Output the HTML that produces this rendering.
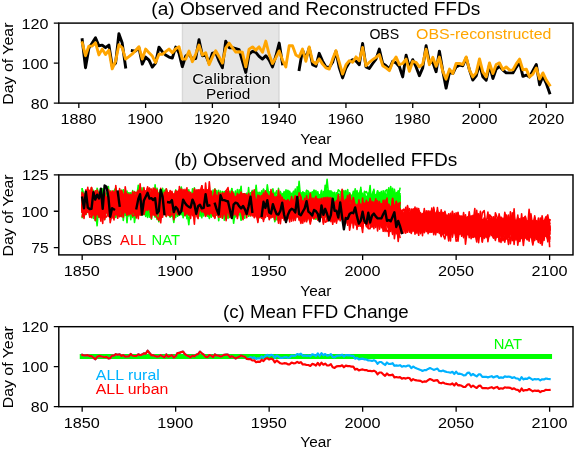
<!DOCTYPE html><html><head><meta charset="utf-8"><title>FFD figure</title><style>html,body{margin:0;padding:0;background:#fff;width:575px;height:449px;overflow:hidden}svg{display:block;font-family:"Liberation Sans",sans-serif;will-change:transform}</style></head><body><svg width="575" height="449" viewBox="0 0 575 449"><defs><clipPath id="ca"><rect x="58.8" y="23.1" width="514.2" height="80.0"/></clipPath><clipPath id="cb"><rect x="58.8" y="174.9" width="514.2" height="80.0"/></clipPath><clipPath id="cc"><rect x="58.8" y="326.7" width="514.2" height="80.0"/></clipPath></defs><rect width="575" height="449" fill="#fff"/><rect x="182.34" y="23.1" width="96.83" height="80.0" fill="#e6e6e6" stroke="#808080" stroke-opacity="0.2" stroke-width="1.45"/><path d="M82.2,39.7L85.5,67.7L88.9,48.1L92.2,43.1L95.5,37.7L98.9,45.7L102.2,45.1L105.5,47.7L108.9,45.1L112.2,66.1L115.6,63.1L118.9,33.7L122.2,43.1L125.6,67.1" stroke="#000" stroke-width="2.9" fill="none" stroke-linecap="square" stroke-linejoin="round"/><path d="M132.3,50.7L135.6,51.1L138.9,47.7L142.3,64.1L145.6,57.1L149.0,60.1L152.3,67.1L155.6,63.1L159.0,47.1L162.3,51.7L165.6,55.1L169.0,57.1L172.3,58.1L175.7,47.1L179.0,53.1L182.3,66.7L185.7,56.1L189.0,54.1L192.4,59.1L195.7,58.5L199.0,39.7L202.4,55.7L205.7,55.1L209.1,63.1L212.4,53.1L215.7,52.7L219.1,61.1L222.4,67.7L225.7,41.1L229.1,47.7L232.4,47.7L235.8,48.7L239.1,49.7L242.4,61.1L245.8,72.5L249.1,54.1L252.5,51.3L255.8,52.3L259.1,56.3L262.5,59.1L265.8,55.7L269.2,60.1L272.5,66.9L275.8,56.3L279.2,43.1L282.5,63.9" stroke="#000" stroke-width="2.9" fill="none" stroke-linecap="square" stroke-linejoin="round"/><path d="M299.2,69.5L302.5,50.1L305.9,58.5L309.2,47.9L312.6,64.7L315.9,66.3L319.2,53.3L322.6,61.1L325.9,66.9L329.3,67.5L332.6,62.3L335.9,51.3L339.3,67.9L342.6,77.9L346.0,67.9L349.3,62.3L352.6,59.7L356.0,61.1L359.3,64.7L362.6,43.5L366.0,66.9L369.3,68.5L372.7,63.5L376.0,59.1L379.3,49.1L382.7,63.5L386.0,65.7L389.4,69.1L392.7,61.3L396.0,62.9L399.4,66.7L402.7,76.9L406.1,55.1L409.4,67.9L412.7,59.7L416.1,66.9L419.4,75.7L422.7,67.9L426.1,45.7L429.4,62.3L432.8,62.3L436.1,71.7L439.4,51.1L442.8,71.1L446.1,88.1L449.5,72.3L452.8,73.5L456.1,66.9L459.5,65.1L462.8,65.7L466.2,57.9L469.5,70.1L472.8,80.1L476.2,75.9L479.5,63.9L482.8,76.7L486.2,80.1L489.5,65.1L492.9,78.5L496.2,69.1L499.5,66.3L502.9,70.1L506.2,72.9L509.6,72.9L512.9,72.9L516.2,67.3L519.6,62.5L522.9,76.3L526.3,75.1L529.6,76.9L532.9,70.7L536.3,64.5L539.6,84.7L542.9,76.3L546.3,83.5L549.6,92.9" stroke="#000" stroke-width="2.9" fill="none" stroke-linecap="square" stroke-linejoin="round"/><path d="M82.2,42.7L85.5,55.7L88.9,46.1L92.2,46.1L95.5,42.7L98.9,54.9L102.2,49.1L105.5,54.5L108.9,50.1L112.2,68.9L115.6,61.1L118.9,44.7L122.2,47.7L125.6,59.1L128.9,56.7L132.3,53.9L135.6,50.5L138.9,46.7L142.3,59.1L145.6,49.1L149.0,52.7L152.3,56.1L155.6,62.5L159.0,54.3L162.3,54.3L165.6,51.7L169.0,49.1L172.3,52.7L175.7,48.7L179.0,46.7L182.3,59.1L185.7,59.1L189.0,51.1L192.4,61.7L195.7,54.1L199.0,45.1L202.4,55.1L205.7,52.7L209.1,64.7L212.4,57.1L215.7,50.7L219.1,56.7L222.4,63.1L225.7,48.1L229.1,43.1L232.4,47.7L235.8,52.1L239.1,51.7L242.4,52.3L245.8,66.9L249.1,49.1L252.5,46.9L255.8,50.1L259.1,46.9L262.5,52.3L265.8,41.1L269.2,54.5L272.5,63.5L275.8,57.9L279.2,50.9L282.5,60.1L285.8,66.9L289.2,45.7L292.5,45.7L295.9,55.1L299.2,56.9L302.5,49.1L305.9,61.3L309.2,46.9L312.6,61.3L315.9,63.9L319.2,58.9L322.6,64.1L325.9,67.9L329.3,69.1L332.6,59.1L335.9,50.7L339.3,62.3L342.6,74.1L346.0,64.7L349.3,60.7L352.6,62.3L356.0,56.9L359.3,60.7L362.6,47.5L366.0,65.7L369.3,62.3L372.7,59.7L376.0,57.3L379.3,54.5L382.7,65.7L386.0,67.9L389.4,70.7L392.7,62.3L396.0,56.9L399.4,64.7L402.7,63.5L406.1,59.1L409.4,71.3L412.7,61.3L416.1,62.3L419.4,66.9L422.7,64.1L426.1,49.1L429.4,64.7L432.8,57.3L436.1,66.3L439.4,57.1L442.8,71.3L446.1,79.1L449.5,69.1L452.8,73.5L456.1,63.5L459.5,63.5L462.8,64.5L466.2,56.9L469.5,70.1L472.8,76.9L476.2,72.9L479.5,58.9L482.8,71.9L486.2,76.9L489.5,62.9L492.9,73.5L496.2,64.5L499.5,62.9L502.9,69.7L506.2,66.9L509.6,70.1L512.9,69.9L516.2,63.9L519.6,59.1L522.9,69.9L526.3,69.1L529.6,76.9L532.9,74.1L536.3,67.9L539.6,79.1L542.9,72.9L546.3,80.1L549.6,85.1" stroke="#FFA500" stroke-width="2.9" fill="none" stroke-linecap="square" stroke-linejoin="round"/><path d="M82.2,207.2L84.0,196.0L85.9,203.7L87.8,211.0L89.7,209.6L91.5,197.2L93.4,203.1L95.3,203.7L97.1,204.3L99.0,203.8L100.9,199.2L102.7,200.7L104.6,202.7L106.5,210.2L108.4,200.9L110.2,208.1L112.1,197.5L114.0,211.6L115.8,204.8L117.7,204.0L119.6,211.9L121.4,193.7L123.3,195.3L125.2,206.8L127.0,199.4L128.9,201.7L130.8,219.6L132.7,202.5L134.5,204.4L136.4,203.5L138.3,210.4L140.1,205.6L142.0,205.1L143.9,196.9L145.7,202.0L147.6,204.0L149.5,194.9L151.4,207.3L153.2,206.3L155.1,214.8L157.0,194.6L158.8,198.2L160.7,198.5L162.6,200.0L164.4,203.3L166.3,202.7L168.2,205.5L170.1,205.2L171.9,203.7L173.8,195.0L175.7,200.7L177.5,204.3L179.4,207.4L181.3,207.8L183.1,194.4L185.0,201.0L186.9,203.6L188.8,206.1L190.6,210.6L192.5,204.4L194.4,198.8L196.2,206.3L198.1,205.3L200.0,205.3L201.8,203.3L203.7,213.5L205.6,205.4L207.5,209.1L209.3,198.7L211.2,208.6L213.1,200.5L214.9,194.9L216.8,205.9L218.7,207.6L220.5,202.8L222.4,204.0L224.3,209.9L226.1,201.2L228.0,192.0L229.9,205.5L231.8,205.2L233.6,210.2L235.5,202.1L237.4,211.4L239.2,210.6L241.1,196.4L243.0,209.4L244.8,197.5L246.7,194.9L248.6,202.4L250.5,200.7L252.3,192.3L254.2,205.1L256.1,207.5L257.9,212.0L259.8,203.7L261.7,195.1L263.5,198.2L265.4,209.5L267.3,209.0L269.2,206.9L271.0,202.1L272.9,205.1L274.8,202.6L276.6,202.1L278.5,205.6L280.4,204.1L282.2,202.6L284.1,204.3L286.0,200.8L287.9,192.7L289.7,200.3L291.6,203.5L293.5,213.8L295.3,201.5L297.2,215.4L299.1,212.2L300.9,198.6L302.8,199.5L304.7,204.6L306.6,213.9L308.4,205.9L310.3,207.7L312.2,199.9L314.0,190.2L315.9,202.4L317.8,208.3L319.6,210.6L321.5,204.0L323.4,204.7L325.2,210.5L327.1,202.9L329.0,210.5L330.9,197.0L332.7,197.3L334.6,197.1L336.5,206.4L338.3,200.5L340.2,204.3L342.1,205.9L343.9,205.6L345.8,211.3L347.7,212.1L349.6,198.8L351.4,204.6L353.3,202.2L355.2,197.5L357.0,213.8L358.9,208.1L360.8,202.4L362.6,201.1L364.5,205.7L366.4,197.3L368.3,202.2L370.1,210.6L372.0,209.0L373.9,198.6L375.7,200.6L377.6,214.7L379.5,195.3L381.3,199.8L383.2,195.3L385.1,205.6L387.0,205.1L388.8,210.0L390.7,188.2L392.6,204.3L394.4,193.8L396.3,207.1L398.2,202.3L400.0,213.2" stroke="#00FF00" stroke-width="1.6" fill="none" stroke-linecap="square" stroke-linejoin="round"/><path d="M82.2,206.3L84.0,198.1L85.9,211.5L87.8,197.6L89.7,202.0L91.5,210.2L93.4,207.0L95.3,206.7L97.1,204.3L99.0,207.2L100.9,208.9L102.7,205.8L104.6,210.1L106.5,211.7L108.4,204.3L110.2,198.7L112.1,213.1L114.0,204.0L115.8,207.9L117.7,209.8L119.6,198.9L121.4,207.1L123.3,195.1L125.2,208.6L127.0,201.7L128.9,205.3L130.8,208.5L132.7,200.5L134.5,204.9L136.4,200.4L138.3,204.3L140.1,210.5L142.0,204.6L143.9,203.7L145.7,198.3L147.6,209.4L149.5,204.2L151.4,214.3L153.2,200.1L155.1,210.4L157.0,214.8L158.8,204.3L160.7,197.4L162.6,213.1L164.4,210.5L166.3,208.4L168.2,210.7L170.1,201.7L171.9,208.8L173.8,208.3L175.7,200.5L177.5,208.5L179.4,201.4L181.3,209.8L183.1,211.2L185.0,214.9L186.9,192.9L188.8,205.9L190.6,202.5L192.5,204.2L194.4,203.0L196.2,203.7L198.1,192.6L200.0,210.2L201.8,213.3L203.7,210.0L205.6,212.0L207.5,199.5L209.3,199.1L211.2,209.7L213.1,212.3L214.9,206.1L216.8,195.7L218.7,220.8L220.5,200.9L222.4,210.4L224.3,197.8L226.1,210.4L228.0,205.7L229.9,213.0L231.8,209.8L233.6,195.7L235.5,199.1L237.4,206.4L239.2,209.2L241.1,215.3L243.0,206.3L244.8,204.2L246.7,204.5L248.6,204.6L250.5,210.7L252.3,204.4L254.2,204.2L256.1,196.3L257.9,192.8L259.8,204.8L261.7,208.5L263.5,204.3L265.4,207.5L267.3,208.3L269.2,204.2L271.0,210.1L272.9,200.3L274.8,204.5L276.6,202.4L278.5,204.9L280.4,208.2L282.2,209.5L284.1,205.2L286.0,207.1L287.9,202.4L289.7,203.8L291.6,211.9L293.5,203.4L295.3,211.8L297.2,207.4L299.1,205.5L300.9,216.1L302.8,203.2L304.7,202.8L306.6,204.7L308.4,206.2L310.3,205.9L312.2,209.5L314.0,205.3L315.9,207.0L317.8,203.1L319.6,210.8L321.5,202.2L323.4,202.8L325.2,204.5L327.1,206.2L329.0,200.3L330.9,213.5L332.7,200.8L334.6,202.1L336.5,201.9L338.3,201.3L340.2,207.5L342.1,205.1L343.9,199.7L345.8,201.0L347.7,202.3L349.6,212.5L351.4,200.3L353.3,196.5L355.2,197.5L357.0,202.1L358.9,212.8L360.8,197.8L362.6,204.3L364.5,218.5L366.4,201.2L368.3,212.3L370.1,211.1L372.0,207.2L373.9,195.8L375.7,205.6L377.6,201.8L379.5,192.9L381.3,193.8L383.2,204.0L385.1,204.8L387.0,210.8L388.8,207.5L390.7,200.8L392.6,200.9L394.4,202.6L396.3,197.3L398.2,207.9L400.0,203.6" stroke="#00FF00" stroke-width="1.6" fill="none" stroke-linecap="square" stroke-linejoin="round"/><path d="M82.2,199.6L84.0,200.5L85.9,197.6L87.8,201.6L89.7,205.8L91.5,201.8L93.4,210.0L95.3,213.8L97.1,200.5L99.0,204.3L100.9,202.2L102.7,214.1L104.6,206.2L106.5,207.6L108.4,209.1L110.2,217.4L112.1,206.0L114.0,198.6L115.8,201.7L117.7,207.6L119.6,204.1L121.4,199.5L123.3,220.5L125.2,204.7L127.0,200.8L128.9,199.9L130.8,193.8L132.7,197.2L134.5,202.1L136.4,202.2L138.3,199.3L140.1,207.2L142.0,204.2L143.9,198.6L145.7,192.3L147.6,204.9L149.5,204.3L151.4,202.8L153.2,196.0L155.1,204.2L157.0,195.2L158.8,209.8L160.7,205.1L162.6,205.2L164.4,199.3L166.3,197.8L168.2,213.0L170.1,209.4L171.9,202.0L173.8,207.9L175.7,213.1L177.5,197.8L179.4,201.0L181.3,201.0L183.1,206.8L185.0,197.9L186.9,205.4L188.8,197.5L190.6,209.4L192.5,209.1L194.4,202.8L196.2,208.2L198.1,200.0L200.0,202.4L201.8,209.5L203.7,203.6L205.6,206.1L207.5,198.5L209.3,207.8L211.2,206.6L213.1,196.8L214.9,190.6L216.8,192.1L218.7,203.6L220.5,202.7L222.4,194.8L224.3,204.7L226.1,209.8L228.0,203.3L229.9,201.3L231.8,208.9L233.6,213.8L235.5,212.6L237.4,200.0L239.2,208.5L241.1,204.8L243.0,202.7L244.8,200.3L246.7,206.0L248.6,201.0L250.5,209.3L252.3,206.1L254.2,210.1L256.1,197.2L257.9,204.1L259.8,208.4L261.7,206.0L263.5,205.2L265.4,199.7L267.3,213.4L269.2,210.1L271.0,206.1L272.9,188.8L274.8,198.2L276.6,204.5L278.5,199.6L280.4,191.6L282.2,205.2L284.1,206.0L286.0,196.6L287.9,200.9L289.7,199.8L291.6,206.8L293.5,192.3L295.3,193.6L297.2,200.4L299.1,199.7L300.9,215.8L302.8,199.9L304.7,204.9L306.6,201.1L308.4,199.6L310.3,205.7L312.2,213.8L314.0,201.5L315.9,208.1L317.8,205.6L319.6,207.3L321.5,205.7L323.4,217.4L325.2,196.4L327.1,202.1L329.0,197.0L330.9,191.8L332.7,203.5L334.6,214.3L336.5,208.9L338.3,210.8L340.2,206.5L342.1,203.1L343.9,215.5L345.8,201.5L347.7,212.5L349.6,201.7L351.4,204.2L353.3,205.4L355.2,203.9L357.0,206.7L358.9,207.1L360.8,213.5L362.6,203.6L364.5,192.4L366.4,191.6L368.3,195.5L370.1,199.2L372.0,207.4L373.9,194.8L375.7,203.7L377.6,203.8L379.5,205.1L381.3,202.8L383.2,205.9L385.1,203.8L387.0,209.8L388.8,205.5L390.7,189.7L392.6,203.7L394.4,204.7L396.3,200.1L398.2,199.0L400.0,209.9" stroke="#00FF00" stroke-width="1.6" fill="none" stroke-linecap="square" stroke-linejoin="round"/><path d="M82.2,205.2L84.0,198.5L85.9,202.4L87.8,203.3L89.7,194.7L91.5,208.0L93.4,203.5L95.3,207.1L97.1,195.1L99.0,215.6L100.9,208.0L102.7,207.1L104.6,200.0L106.5,200.4L108.4,195.7L110.2,213.4L112.1,199.5L114.0,205.7L115.8,208.0L117.7,200.8L119.6,209.5L121.4,216.4L123.3,206.2L125.2,212.9L127.0,207.9L128.9,201.8L130.8,202.1L132.7,194.5L134.5,205.2L136.4,213.1L138.3,208.5L140.1,209.5L142.0,211.3L143.9,201.4L145.7,207.8L147.6,215.8L149.5,199.8L151.4,204.7L153.2,201.9L155.1,203.4L157.0,200.2L158.8,203.8L160.7,196.6L162.6,201.5L164.4,201.7L166.3,201.5L168.2,212.7L170.1,205.0L171.9,205.5L173.8,202.8L175.7,212.1L177.5,194.2L179.4,203.4L181.3,211.2L183.1,214.2L185.0,205.7L186.9,204.5L188.8,208.3L190.6,203.4L192.5,207.8L194.4,200.7L196.2,208.3L198.1,204.2L200.0,198.2L201.8,188.7L203.7,210.0L205.6,206.8L207.5,209.0L209.3,199.3L211.2,210.8L213.1,206.9L214.9,204.2L216.8,209.8L218.7,209.7L220.5,206.8L222.4,216.5L224.3,212.6L226.1,206.5L228.0,203.1L229.9,205.1L231.8,214.6L233.6,206.8L235.5,199.2L237.4,200.7L239.2,204.5L241.1,209.3L243.0,200.2L244.8,207.4L246.7,211.0L248.6,208.8L250.5,195.4L252.3,202.7L254.2,197.1L256.1,206.8L257.9,198.4L259.8,207.5L261.7,204.9L263.5,189.1L265.4,199.3L267.3,206.9L269.2,204.4L271.0,201.9L272.9,196.7L274.8,206.8L276.6,214.2L278.5,205.5L280.4,203.8L282.2,203.2L284.1,196.0L286.0,201.9L287.9,199.0L289.7,210.4L291.6,198.6L293.5,191.3L295.3,199.2L297.2,202.3L299.1,202.8L300.9,193.1L302.8,209.3L304.7,204.4L306.6,201.0L308.4,199.3L310.3,206.3L312.2,201.9L314.0,205.3L315.9,203.0L317.8,204.5L319.6,210.5L321.5,203.8L323.4,198.4L325.2,209.4L327.1,205.1L329.0,199.6L330.9,210.0L332.7,202.5L334.6,209.9L336.5,196.8L338.3,189.8L340.2,191.5L342.1,204.9L343.9,199.1L345.8,202.8L347.7,202.9L349.6,194.3L351.4,211.4L353.3,197.2L355.2,203.8L357.0,195.1L358.9,202.3L360.8,207.5L362.6,201.8L364.5,199.0L366.4,203.2L368.3,200.5L370.1,206.5L372.0,216.1L373.9,198.0L375.7,199.2L377.6,202.5L379.5,203.0L381.3,197.2L383.2,206.1L385.1,207.5L387.0,204.5L388.8,196.2L390.7,211.6L392.6,196.2L394.4,207.1L396.3,209.8L398.2,195.8L400.0,203.8" stroke="#00FF00" stroke-width="1.6" fill="none" stroke-linecap="square" stroke-linejoin="round"/><path d="M82.2,211.7L84.0,206.1L85.9,198.4L87.8,196.9L89.7,206.5L91.5,201.6L93.4,199.7L95.3,207.8L97.1,201.9L99.0,204.2L100.9,207.2L102.7,206.9L104.6,203.6L106.5,203.8L108.4,207.4L110.2,206.5L112.1,197.4L114.0,202.7L115.8,198.7L117.7,196.8L119.6,200.5L121.4,190.4L123.3,208.9L125.2,199.2L127.0,205.9L128.9,192.9L130.8,193.9L132.7,215.6L134.5,209.8L136.4,200.0L138.3,199.3L140.1,199.6L142.0,204.4L143.9,201.3L145.7,200.1L147.6,204.5L149.5,197.9L151.4,217.5L153.2,200.2L155.1,210.2L157.0,198.3L158.8,205.4L160.7,209.3L162.6,201.8L164.4,209.4L166.3,209.4L168.2,213.3L170.1,204.2L171.9,201.0L173.8,197.9L175.7,204.8L177.5,197.7L179.4,203.9L181.3,204.5L183.1,200.6L185.0,197.7L186.9,206.0L188.8,205.4L190.6,205.0L192.5,203.5L194.4,209.4L196.2,197.9L198.1,206.4L200.0,201.2L201.8,208.9L203.7,201.9L205.6,201.7L207.5,206.5L209.3,191.9L211.2,201.8L213.1,193.4L214.9,198.3L216.8,207.9L218.7,206.3L220.5,201.4L222.4,203.6L224.3,203.7L226.1,205.7L228.0,214.8L229.9,205.3L231.8,217.2L233.6,201.8L235.5,208.3L237.4,208.3L239.2,205.3L241.1,202.4L243.0,212.5L244.8,214.4L246.7,210.3L248.6,216.2L250.5,209.8L252.3,194.5L254.2,210.3L256.1,200.1L257.9,212.1L259.8,202.2L261.7,205.8L263.5,204.3L265.4,200.5L267.3,193.4L269.2,202.7L271.0,203.1L272.9,209.7L274.8,200.4L276.6,205.3L278.5,198.9L280.4,204.1L282.2,193.5L284.1,215.7L286.0,205.6L287.9,198.6L289.7,205.9L291.6,208.5L293.5,205.4L295.3,212.0L297.2,203.1L299.1,189.2L300.9,196.9L302.8,210.4L304.7,208.9L306.6,206.1L308.4,197.7L310.3,208.6L312.2,207.8L314.0,198.4L315.9,198.5L317.8,205.9L319.6,210.3L321.5,212.9L323.4,207.8L325.2,216.9L327.1,199.1L329.0,207.4L330.9,200.7L332.7,192.4L334.6,196.6L336.5,210.4L338.3,198.4L340.2,196.6L342.1,208.0L343.9,209.2L345.8,204.2L347.7,213.1L349.6,194.7L351.4,217.8L353.3,210.1L355.2,205.1L357.0,204.8L358.9,202.5L360.8,201.8L362.6,204.7L364.5,196.7L366.4,216.2L368.3,203.4L370.1,207.7L372.0,202.6L373.9,202.1L375.7,208.8L377.6,207.2L379.5,198.6L381.3,201.3L383.2,207.4L385.1,191.2L387.0,189.6L388.8,212.0L390.7,201.5L392.6,188.3L394.4,198.6L396.3,202.0L398.2,204.5L400.0,206.5" stroke="#00FF00" stroke-width="1.6" fill="none" stroke-linecap="square" stroke-linejoin="round"/><path d="M82.2,205.3L84.0,207.3L85.9,199.5L87.8,206.4L89.7,206.6L91.5,211.2L93.4,204.3L95.3,209.3L97.1,205.1L99.0,197.8L100.9,201.8L102.7,201.0L104.6,201.9L106.5,203.6L108.4,204.8L110.2,205.8L112.1,199.5L114.0,210.5L115.8,196.0L117.7,203.8L119.6,208.5L121.4,206.9L123.3,208.0L125.2,203.0L127.0,208.3L128.9,197.2L130.8,208.7L132.7,217.5L134.5,208.4L136.4,216.0L138.3,204.2L140.1,197.7L142.0,200.1L143.9,212.0L145.7,208.5L147.6,193.4L149.5,202.1L151.4,204.0L153.2,197.7L155.1,189.4L157.0,196.3L158.8,203.2L160.7,201.9L162.6,200.3L164.4,207.6L166.3,210.3L168.2,203.7L170.1,209.6L171.9,204.4L173.8,203.4L175.7,190.0L177.5,209.1L179.4,204.7L181.3,205.0L183.1,201.4L185.0,197.7L186.9,206.9L188.8,208.9L190.6,213.8L192.5,209.5L194.4,200.8L196.2,203.7L198.1,210.0L200.0,206.2L201.8,203.8L203.7,201.0L205.6,207.5L207.5,205.5L209.3,214.8L211.2,210.9L213.1,194.3L214.9,217.0L216.8,206.0L218.7,202.7L220.5,206.2L222.4,208.8L224.3,204.4L226.1,204.0L228.0,204.5L229.9,215.2L231.8,204.9L233.6,209.1L235.5,207.3L237.4,202.6L239.2,200.2L241.1,198.6L243.0,207.0L244.8,198.5L246.7,197.0L248.6,197.2L250.5,195.7L252.3,204.9L254.2,205.0L256.1,199.0L257.9,212.1L259.8,202.7L261.7,207.1L263.5,206.1L265.4,214.3L267.3,209.2L269.2,204.0L271.0,198.6L272.9,198.0L274.8,204.4L276.6,205.0L278.5,208.8L280.4,201.4L282.2,205.3L284.1,200.2L286.0,193.4L287.9,204.0L289.7,212.7L291.6,208.9L293.5,212.5L295.3,210.9L297.2,196.0L299.1,202.4L300.9,212.8L302.8,199.8L304.7,196.2L306.6,205.9L308.4,207.7L310.3,205.7L312.2,202.0L314.0,199.9L315.9,196.6L317.8,196.4L319.6,196.6L321.5,195.5L323.4,199.7L325.2,212.8L327.1,204.4L329.0,201.7L330.9,205.9L332.7,198.2L334.6,205.7L336.5,209.1L338.3,195.0L340.2,199.6L342.1,202.2L343.9,198.0L345.8,197.2L347.7,201.5L349.6,218.2L351.4,207.5L353.3,206.2L355.2,209.4L357.0,202.3L358.9,196.4L360.8,206.3L362.6,210.2L364.5,191.3L366.4,206.1L368.3,210.8L370.1,202.0L372.0,200.9L373.9,207.6L375.7,198.7L377.6,206.3L379.5,208.9L381.3,202.3L383.2,198.7L385.1,207.1L387.0,201.4L388.8,203.9L390.7,186.5L392.6,207.5L394.4,195.0L396.3,203.6L398.2,204.0L400.0,199.0" stroke="#00FF00" stroke-width="1.6" fill="none" stroke-linecap="square" stroke-linejoin="round"/><path d="M82.2,198.7L84.0,196.4L85.9,202.0L87.8,207.6L89.7,207.2L91.5,201.0L93.4,200.5L95.3,195.7L97.1,201.5L99.0,197.7L100.9,194.9L102.7,203.0L104.6,212.9L106.5,211.0L108.4,212.6L110.2,194.5L112.1,209.0L114.0,196.6L115.8,200.5L117.7,193.8L119.6,198.0L121.4,204.6L123.3,205.2L125.2,203.5L127.0,202.9L128.9,207.2L130.8,204.2L132.7,194.4L134.5,214.1L136.4,202.4L138.3,209.4L140.1,202.9L142.0,199.0L143.9,204.3L145.7,199.4L147.6,213.5L149.5,197.4L151.4,207.6L153.2,200.3L155.1,202.9L157.0,219.4L158.8,208.5L160.7,202.7L162.6,194.7L164.4,202.3L166.3,202.5L168.2,212.4L170.1,195.5L171.9,193.2L173.8,203.8L175.7,205.3L177.5,213.6L179.4,198.7L181.3,187.9L183.1,199.7L185.0,196.5L186.9,200.8L188.8,209.9L190.6,196.0L192.5,211.4L194.4,205.2L196.2,202.3L198.1,198.7L200.0,201.5L201.8,201.7L203.7,208.5L205.6,211.7L207.5,203.6L209.3,208.2L211.2,211.8L213.1,211.5L214.9,206.9L216.8,215.0L218.7,212.0L220.5,213.7L222.4,202.9L224.3,201.6L226.1,192.0L228.0,212.9L229.9,208.0L231.8,198.5L233.6,205.3L235.5,205.9L237.4,193.8L239.2,206.0L241.1,210.9L243.0,211.8L244.8,202.0L246.7,202.2L248.6,212.2L250.5,209.9L252.3,200.8L254.2,200.5L256.1,207.8L257.9,200.2L259.8,200.5L261.7,214.6L263.5,205.8L265.4,201.4L267.3,207.3L269.2,216.7L271.0,205.6L272.9,199.4L274.8,194.4L276.6,216.9L278.5,188.3L280.4,210.6L282.2,198.1L284.1,196.5L286.0,198.0L287.9,202.9L289.7,210.7L291.6,200.1L293.5,208.0L295.3,218.8L297.2,186.9L299.1,199.5L300.9,192.9L302.8,209.2L304.7,195.0L306.6,194.2L308.4,194.4L310.3,203.8L312.2,210.9L314.0,204.7L315.9,216.8L317.8,213.8L319.6,203.1L321.5,209.6L323.4,204.6L325.2,204.3L327.1,192.1L329.0,195.9L330.9,203.9L332.7,196.4L334.6,208.2L336.5,205.6L338.3,198.1L340.2,211.0L342.1,205.2L343.9,211.4L345.8,202.8L347.7,193.8L349.6,208.0L351.4,202.2L353.3,208.8L355.2,210.3L357.0,210.8L358.9,194.8L360.8,189.4L362.6,200.6L364.5,207.7L366.4,199.2L368.3,205.4L370.1,198.6L372.0,201.7L373.9,201.7L375.7,199.8L377.6,206.8L379.5,205.8L381.3,213.6L383.2,206.0L385.1,211.8L387.0,204.2L388.8,209.0L390.7,202.7L392.6,200.6L394.4,211.8L396.3,208.1L398.2,208.9L400.0,198.8" stroke="#00FF00" stroke-width="1.6" fill="none" stroke-linecap="square" stroke-linejoin="round"/><path d="M82.2,193.8L84.0,198.9L85.9,206.1L87.8,195.3L89.7,213.0L91.5,195.0L93.4,207.9L95.3,220.6L97.1,188.2L99.0,194.6L100.9,210.1L102.7,203.0L104.6,205.3L106.5,203.4L108.4,212.8L110.2,208.1L112.1,201.2L114.0,202.7L115.8,196.8L117.7,203.5L119.6,190.0L121.4,208.3L123.3,202.4L125.2,215.4L127.0,211.5L128.9,196.1L130.8,209.6L132.7,200.8L134.5,204.4L136.4,210.2L138.3,206.1L140.1,207.1L142.0,206.9L143.9,199.5L145.7,200.1L147.6,207.4L149.5,209.4L151.4,202.3L153.2,204.6L155.1,197.9L157.0,188.2L158.8,199.0L160.7,204.2L162.6,205.0L164.4,209.1L166.3,209.4L168.2,210.0L170.1,206.3L171.9,206.5L173.8,199.6L175.7,206.4L177.5,205.2L179.4,211.3L181.3,194.2L183.1,201.0L185.0,193.3L186.9,199.2L188.8,195.1L190.6,205.5L192.5,199.7L194.4,187.9L196.2,211.3L198.1,197.0L200.0,193.9L201.8,201.5L203.7,199.4L205.6,196.4L207.5,208.0L209.3,201.5L211.2,209.3L213.1,208.1L214.9,207.8L216.8,204.9L218.7,203.1L220.5,201.2L222.4,212.6L224.3,191.9L226.1,196.9L228.0,199.6L229.9,206.2L231.8,204.5L233.6,200.6L235.5,201.5L237.4,214.3L239.2,199.5L241.1,186.2L243.0,215.3L244.8,197.9L246.7,201.7L248.6,204.7L250.5,195.6L252.3,211.2L254.2,203.0L256.1,195.0L257.9,205.2L259.8,206.5L261.7,203.2L263.5,206.7L265.4,194.4L267.3,209.5L269.2,198.6L271.0,211.6L272.9,199.8L274.8,204.5L276.6,219.7L278.5,203.9L280.4,210.4L282.2,206.6L284.1,194.4L286.0,210.7L287.9,210.3L289.7,195.0L291.6,203.1L293.5,194.3L295.3,201.8L297.2,209.2L299.1,204.2L300.9,196.2L302.8,198.0L304.7,203.7L306.6,203.4L308.4,204.4L310.3,207.2L312.2,191.8L314.0,203.6L315.9,210.6L317.8,206.6L319.6,199.2L321.5,199.7L323.4,204.5L325.2,207.7L327.1,203.5L329.0,213.9L330.9,211.6L332.7,198.7L334.6,206.5L336.5,201.3L338.3,196.1L340.2,199.6L342.1,203.4L343.9,190.5L345.8,199.4L347.7,205.7L349.6,199.0L351.4,201.0L353.3,208.7L355.2,203.0L357.0,204.5L358.9,215.5L360.8,204.5L362.6,205.2L364.5,206.1L366.4,213.5L368.3,205.6L370.1,203.7L372.0,202.8L373.9,210.4L375.7,199.5L377.6,210.8L379.5,204.7L381.3,195.4L383.2,207.6L385.1,206.5L387.0,196.7L388.8,205.7L390.7,205.1L392.6,201.9L394.4,196.9L396.3,216.8L398.2,208.3L400.0,209.4" stroke="#00FF00" stroke-width="1.6" fill="none" stroke-linecap="square" stroke-linejoin="round"/><path d="M82.2,210.6L84.0,209.2L85.9,209.1L87.8,202.1L89.7,209.4L91.5,203.2L93.4,201.5L95.3,208.5L97.1,203.2L99.0,194.0L100.9,202.0L102.7,207.9L104.6,204.4L106.5,209.6L108.4,202.3L110.2,198.7L112.1,209.0L114.0,205.3L115.8,197.2L117.7,207.0L119.6,202.8L121.4,210.2L123.3,209.0L125.2,207.1L127.0,191.0L128.9,206.4L130.8,207.2L132.7,207.3L134.5,205.0L136.4,200.1L138.3,202.9L140.1,191.7L142.0,202.7L143.9,195.4L145.7,202.3L147.6,200.4L149.5,212.6L151.4,204.7L153.2,204.4L155.1,205.4L157.0,216.8L158.8,198.7L160.7,206.3L162.6,206.6L164.4,205.5L166.3,205.4L168.2,201.6L170.1,211.6L171.9,209.5L173.8,202.3L175.7,203.1L177.5,206.2L179.4,207.4L181.3,209.0L183.1,204.3L185.0,196.9L186.9,210.3L188.8,194.9L190.6,199.0L192.5,206.7L194.4,199.3L196.2,212.7L198.1,214.3L200.0,211.7L201.8,206.4L203.7,205.9L205.6,207.1L207.5,203.4L209.3,216.7L211.2,201.0L213.1,212.5L214.9,207.9L216.8,206.5L218.7,210.9L220.5,212.2L222.4,210.0L224.3,204.1L226.1,200.5L228.0,200.6L229.9,209.9L231.8,208.7L233.6,209.5L235.5,201.3L237.4,216.1L239.2,196.6L241.1,206.9L243.0,208.7L244.8,202.0L246.7,197.8L248.6,201.9L250.5,197.7L252.3,203.2L254.2,196.6L256.1,196.5L257.9,204.5L259.8,195.4L261.7,203.0L263.5,203.4L265.4,209.4L267.3,205.6L269.2,199.3L271.0,211.7L272.9,200.0L274.8,201.8L276.6,202.2L278.5,217.0L280.4,204.5L282.2,200.0L284.1,208.4L286.0,203.3L287.9,218.0L289.7,199.8L291.6,207.7L293.5,198.6L295.3,214.8L297.2,199.6L299.1,205.2L300.9,198.9L302.8,209.3L304.7,207.4L306.6,190.3L308.4,208.7L310.3,207.9L312.2,205.3L314.0,209.8L315.9,196.6L317.8,193.4L319.6,207.9L321.5,213.9L323.4,196.6L325.2,197.0L327.1,198.7L329.0,196.7L330.9,208.8L332.7,204.6L334.6,211.8L336.5,212.0L338.3,197.7L340.2,207.6L342.1,190.0L343.9,203.1L345.8,207.3L347.7,198.8L349.6,192.8L351.4,200.6L353.3,210.7L355.2,201.3L357.0,195.3L358.9,206.4L360.8,208.1L362.6,197.4L364.5,202.6L366.4,210.0L368.3,205.7L370.1,207.9L372.0,201.6L373.9,202.7L375.7,196.5L377.6,199.1L379.5,212.7L381.3,200.9L383.2,198.0L385.1,200.6L387.0,197.2L388.8,206.6L390.7,209.0L392.6,197.8L394.4,209.6L396.3,216.2L398.2,197.2L400.0,207.6" stroke="#00FF00" stroke-width="1.6" fill="none" stroke-linecap="square" stroke-linejoin="round"/><path d="M82.2,205.8L84.0,212.3L85.9,211.9L87.8,210.9L89.7,206.1L91.5,201.8L93.4,217.7L95.3,199.5L97.1,211.0L99.0,210.4L100.9,199.9L102.7,204.4L104.6,213.2L106.5,193.0L108.4,209.1L110.2,202.5L112.1,202.8L114.0,195.6L115.8,206.7L117.7,198.0L119.6,208.4L121.4,197.3L123.3,208.5L125.2,206.2L127.0,192.7L128.9,202.1L130.8,203.3L132.7,190.6L134.5,201.8L136.4,208.9L138.3,199.6L140.1,211.0L142.0,197.3L143.9,196.8L145.7,207.4L147.6,207.7L149.5,202.9L151.4,203.9L153.2,209.8L155.1,200.6L157.0,216.2L158.8,206.6L160.7,206.4L162.6,205.6L164.4,202.2L166.3,211.3L168.2,200.5L170.1,205.1L171.9,207.9L173.8,212.1L175.7,211.0L177.5,201.8L179.4,209.7L181.3,203.6L183.1,197.7L185.0,197.8L186.9,194.7L188.8,205.8L190.6,210.5L192.5,197.9L194.4,202.1L196.2,197.3L198.1,203.9L200.0,196.9L201.8,198.9L203.7,199.7L205.6,201.0L207.5,201.6L209.3,202.6L211.2,202.6L213.1,198.1L214.9,207.0L216.8,193.6L218.7,204.6L220.5,198.1L222.4,204.5L224.3,205.5L226.1,191.9L228.0,205.8L229.9,211.6L231.8,208.2L233.6,205.9L235.5,191.1L237.4,202.8L239.2,198.4L241.1,210.0L243.0,201.9L244.8,200.0L246.7,193.2L248.6,208.1L250.5,200.4L252.3,202.2L254.2,210.1L256.1,204.1L257.9,205.5L259.8,217.8L261.7,200.4L263.5,200.7L265.4,206.5L267.3,211.9L269.2,195.1L271.0,202.3L272.9,197.8L274.8,195.5L276.6,207.0L278.5,199.0L280.4,205.3L282.2,204.2L284.1,204.3L286.0,203.8L287.9,197.2L289.7,203.1L291.6,204.7L293.5,205.4L295.3,201.7L297.2,209.1L299.1,206.8L300.9,204.1L302.8,207.1L304.7,204.4L306.6,207.4L308.4,191.8L310.3,195.8L312.2,201.0L314.0,204.0L315.9,190.6L317.8,201.7L319.6,204.2L321.5,201.8L323.4,201.8L325.2,195.2L327.1,203.7L329.0,191.1L330.9,208.9L332.7,199.5L334.6,209.6L336.5,192.7L338.3,205.5L340.2,203.9L342.1,198.0L343.9,196.0L345.8,210.2L347.7,205.6L349.6,211.8L351.4,202.7L353.3,204.1L355.2,205.6L357.0,207.6L358.9,205.8L360.8,207.9L362.6,200.3L364.5,194.4L366.4,214.9L368.3,204.1L370.1,205.9L372.0,200.5L373.9,209.1L375.7,204.3L377.6,209.6L379.5,199.2L381.3,202.8L383.2,204.3L385.1,201.1L387.0,204.8L388.8,212.6L390.7,199.8L392.6,201.6L394.4,204.2L396.3,197.4L398.2,196.0L400.0,209.8" stroke="#00FF00" stroke-width="1.6" fill="none" stroke-linecap="square" stroke-linejoin="round"/><path d="M82.2,208.6L84.0,194.8L85.9,195.5L87.8,208.4L89.7,211.0L91.5,207.8L93.4,207.0L95.3,213.4L97.1,203.8L99.0,211.6L100.9,211.2L102.7,198.5L104.6,208.1L106.5,204.4L108.4,200.2L110.2,199.1L112.1,206.0L114.0,203.7L115.8,208.9L117.7,193.6L119.6,200.1L121.4,210.6L123.3,204.0L125.2,199.7L127.0,201.1L128.9,193.1L130.8,195.8L132.7,207.2L134.5,204.5L136.4,211.6L138.3,202.5L140.1,203.1L142.0,187.9L143.9,203.4L145.7,216.5L147.6,208.0L149.5,203.3L151.4,211.5L153.2,209.2L155.1,206.2L157.0,202.0L158.8,205.0L160.7,209.3L162.6,199.3L164.4,207.2L166.3,207.0L168.2,212.2L170.1,208.7L171.9,200.1L173.8,213.6L175.7,204.4L177.5,199.7L179.4,206.2L181.3,202.6L183.1,210.7L185.0,196.2L186.9,197.4L188.8,202.6L190.6,214.5L192.5,210.2L194.4,198.2L196.2,193.8L198.1,202.2L200.0,196.6L201.8,207.6L203.7,205.1L205.6,204.0L207.5,201.5L209.3,213.1L211.2,198.4L213.1,196.1L214.9,210.8L216.8,212.1L218.7,201.9L220.5,207.9L222.4,218.1L224.3,199.2L226.1,203.1L228.0,206.8L229.9,191.4L231.8,203.2L233.6,208.5L235.5,203.4L237.4,210.2L239.2,208.5L241.1,201.7L243.0,207.3L244.8,206.7L246.7,194.0L248.6,198.9L250.5,199.2L252.3,200.8L254.2,201.1L256.1,195.3L257.9,204.1L259.8,192.9L261.7,209.6L263.5,205.4L265.4,212.1L267.3,206.0L269.2,200.8L271.0,195.2L272.9,207.8L274.8,203.8L276.6,206.0L278.5,208.3L280.4,210.9L282.2,203.5L284.1,214.2L286.0,203.2L287.9,203.7L289.7,207.7L291.6,209.8L293.5,212.0L295.3,192.6L297.2,211.8L299.1,194.5L300.9,200.2L302.8,205.9L304.7,210.6L306.6,197.5L308.4,193.4L310.3,209.3L312.2,205.5L314.0,197.4L315.9,201.7L317.8,191.7L319.6,207.1L321.5,200.4L323.4,211.1L325.2,191.1L327.1,208.0L329.0,216.8L330.9,204.4L332.7,204.4L334.6,192.2L336.5,205.6L338.3,203.6L340.2,200.0L342.1,194.1L343.9,203.9L345.8,197.3L347.7,200.4L349.6,205.3L351.4,203.0L353.3,203.3L355.2,208.9L357.0,196.2L358.9,211.7L360.8,196.5L362.6,197.8L364.5,204.0L366.4,208.0L368.3,204.8L370.1,200.6L372.0,199.0L373.9,201.7L375.7,197.5L377.6,206.7L379.5,202.0L381.3,212.7L383.2,198.8L385.1,202.4L387.0,205.8L388.8,196.4L390.7,199.2L392.6,220.1L394.4,203.1L396.3,212.0L398.2,196.9L400.0,188.4" stroke="#00FF00" stroke-width="1.6" fill="none" stroke-linecap="square" stroke-linejoin="round"/><path d="M82.2,207.1L84.0,203.5L85.9,205.5L87.8,201.9L89.7,200.1L91.5,196.3L93.4,209.9L95.3,194.6L97.1,209.5L99.0,202.3L100.9,197.1L102.7,199.7L104.6,209.6L106.5,208.2L108.4,206.7L110.2,204.3L112.1,197.2L114.0,211.7L115.8,201.2L117.7,200.4L119.6,200.7L121.4,201.2L123.3,194.9L125.2,201.1L127.0,198.9L128.9,200.6L130.8,193.3L132.7,215.3L134.5,196.3L136.4,205.5L138.3,205.7L140.1,209.8L142.0,215.1L143.9,206.3L145.7,208.1L147.6,201.0L149.5,212.8L151.4,195.5L153.2,202.4L155.1,205.5L157.0,208.2L158.8,208.7L160.7,210.7L162.6,207.2L164.4,204.0L166.3,205.0L168.2,212.4L170.1,205.6L171.9,209.3L173.8,203.0L175.7,192.9L177.5,200.3L179.4,205.9L181.3,213.7L183.1,212.4L185.0,214.0L186.9,199.7L188.8,208.6L190.6,203.6L192.5,207.7L194.4,203.4L196.2,195.6L198.1,208.1L200.0,206.0L201.8,208.8L203.7,198.8L205.6,210.1L207.5,210.7L209.3,212.3L211.2,212.4L213.1,201.2L214.9,188.7L216.8,209.9L218.7,198.3L220.5,202.5L222.4,210.6L224.3,205.6L226.1,205.4L228.0,208.1L229.9,192.5L231.8,215.4L233.6,201.7L235.5,202.0L237.4,207.4L239.2,203.1L241.1,198.8L243.0,203.1L244.8,201.5L246.7,199.9L248.6,216.1L250.5,195.2L252.3,190.4L254.2,198.1L256.1,197.9L257.9,212.4L259.8,204.7L261.7,208.8L263.5,207.4L265.4,198.2L267.3,208.7L269.2,204.7L271.0,215.3L272.9,204.8L274.8,203.3L276.6,208.1L278.5,208.1L280.4,192.6L282.2,211.1L284.1,210.1L286.0,208.6L287.9,196.7L289.7,191.3L291.6,201.8L293.5,208.1L295.3,206.3L297.2,197.4L299.1,209.2L300.9,195.1L302.8,195.3L304.7,203.3L306.6,199.9L308.4,199.2L310.3,194.4L312.2,210.0L314.0,196.6L315.9,205.9L317.8,208.2L319.6,203.0L321.5,204.9L323.4,209.5L325.2,213.2L327.1,209.2L329.0,194.9L330.9,191.9L332.7,199.7L334.6,196.5L336.5,206.7L338.3,204.0L340.2,201.9L342.1,210.0L343.9,209.4L345.8,202.9L347.7,205.4L349.6,209.9L351.4,201.2L353.3,205.1L355.2,197.4L357.0,203.5L358.9,205.3L360.8,202.7L362.6,204.5L364.5,207.4L366.4,205.8L368.3,198.9L370.1,199.6L372.0,195.7L373.9,213.5L375.7,205.7L377.6,205.8L379.5,202.3L381.3,206.1L383.2,206.4L385.1,198.7L387.0,202.3L388.8,210.3L390.7,195.4L392.6,197.4L394.4,206.7L396.3,198.3L398.2,207.7L400.0,196.6" stroke="#00FF00" stroke-width="1.6" fill="none" stroke-linecap="square" stroke-linejoin="round"/><path d="M82.2,205.3L84.0,208.8L85.9,206.2L87.8,208.6L89.7,202.8L91.5,202.9L93.4,203.8L95.3,207.3L97.1,225.8L99.0,203.4L100.9,215.3L102.7,202.5L104.6,197.2L106.5,202.4L108.4,206.3L110.2,205.1L112.1,204.8L114.0,207.3L115.8,207.5L117.7,209.5L119.6,196.9L121.4,204.1L123.3,198.3L125.2,205.5L127.0,203.6L128.9,205.0L130.8,201.2L132.7,199.1L134.5,202.6L136.4,208.0L138.3,208.6L140.1,194.1L142.0,205.7L143.9,205.7L145.7,195.3L147.6,197.5L149.5,200.8L151.4,206.4L153.2,190.0L155.1,201.6L157.0,200.7L158.8,205.0L160.7,212.4L162.6,212.0L164.4,201.6L166.3,201.7L168.2,205.4L170.1,211.0L171.9,212.6L173.8,205.9L175.7,212.7L177.5,198.6L179.4,197.1L181.3,187.1L183.1,198.8L185.0,207.5L186.9,209.2L188.8,224.6L190.6,207.5L192.5,205.0L194.4,198.2L196.2,200.3L198.1,200.5L200.0,202.7L201.8,200.0L203.7,195.4L205.6,210.3L207.5,206.7L209.3,212.3L211.2,194.3L213.1,196.3L214.9,199.5L216.8,211.1L218.7,203.0L220.5,205.4L222.4,203.5L224.3,205.1L226.1,200.9L228.0,206.3L229.9,198.9L231.8,202.6L233.6,205.7L235.5,204.7L237.4,206.6L239.2,199.1L241.1,205.6L243.0,202.2L244.8,206.3L246.7,212.8L248.6,198.6L250.5,210.3L252.3,199.9L254.2,201.5L256.1,213.8L257.9,209.6L259.8,207.0L261.7,208.8L263.5,211.0L265.4,199.5L267.3,205.3L269.2,201.6L271.0,206.5L272.9,202.1L274.8,208.4L276.6,204.0L278.5,200.4L280.4,203.6L282.2,206.6L284.1,210.3L286.0,202.8L287.9,201.8L289.7,205.3L291.6,208.4L293.5,200.5L295.3,189.0L297.2,205.6L299.1,201.7L300.9,201.5L302.8,219.0L304.7,203.0L306.6,207.9L308.4,195.5L310.3,205.2L312.2,208.3L314.0,205.0L315.9,202.7L317.8,207.0L319.6,204.0L321.5,211.7L323.4,205.0L325.2,199.0L327.1,191.9L329.0,199.4L330.9,202.0L332.7,196.5L334.6,197.5L336.5,193.7L338.3,197.1L340.2,204.3L342.1,202.0L343.9,202.5L345.8,201.7L347.7,202.3L349.6,208.2L351.4,216.0L353.3,207.5L355.2,215.6L357.0,203.1L358.9,203.4L360.8,213.4L362.6,199.3L364.5,198.3L366.4,202.9L368.3,193.5L370.1,192.2L372.0,210.6L373.9,197.2L375.7,200.8L377.6,200.9L379.5,197.8L381.3,207.6L383.2,206.9L385.1,208.3L387.0,207.8L388.8,203.9L390.7,212.0L392.6,209.5L394.4,199.8L396.3,203.7L398.2,201.0L400.0,214.5" stroke="#00FF00" stroke-width="1.6" fill="none" stroke-linecap="square" stroke-linejoin="round"/><path d="M82.2,208.7L84.0,207.3L85.9,203.8L87.8,207.5L89.7,198.4L91.5,204.3L93.4,203.9L95.3,203.9L97.1,199.8L99.0,206.8L100.9,197.3L102.7,201.2L104.6,203.1L106.5,203.7L108.4,200.9L110.2,197.9L112.1,198.4L114.0,201.7L115.8,198.8L117.7,203.3L119.6,196.5L121.4,204.1L123.3,216.4L125.2,196.0L127.0,203.3L128.9,211.0L130.8,205.2L132.7,209.3L134.5,191.5L136.4,201.0L138.3,213.3L140.1,200.7L142.0,206.4L143.9,192.6L145.7,210.3L147.6,217.4L149.5,203.6L151.4,206.1L153.2,206.5L155.1,216.8L157.0,201.4L158.8,194.0L160.7,215.4L162.6,197.0L164.4,207.4L166.3,190.0L168.2,201.4L170.1,205.1L171.9,197.4L173.8,200.9L175.7,207.5L177.5,199.8L179.4,207.0L181.3,214.7L183.1,191.9L185.0,206.1L186.9,207.6L188.8,202.0L190.6,213.3L192.5,212.1L194.4,207.0L196.2,207.1L198.1,203.6L200.0,197.3L201.8,206.8L203.7,201.1L205.6,200.4L207.5,210.5L209.3,202.6L211.2,209.6L213.1,197.6L214.9,201.3L216.8,203.9L218.7,212.0L220.5,203.3L222.4,208.6L224.3,199.8L226.1,204.7L228.0,208.8L229.9,198.5L231.8,199.7L233.6,207.5L235.5,197.1L237.4,205.8L239.2,205.8L241.1,203.3L243.0,208.5L244.8,206.6L246.7,204.9L248.6,194.9L250.5,195.0L252.3,205.5L254.2,194.4L256.1,204.2L257.9,201.7L259.8,198.7L261.7,202.2L263.5,189.5L265.4,202.5L267.3,211.1L269.2,196.1L271.0,206.3L272.9,205.7L274.8,221.7L276.6,197.9L278.5,199.0L280.4,199.1L282.2,198.0L284.1,193.7L286.0,204.1L287.9,198.2L289.7,208.2L291.6,205.9L293.5,197.5L295.3,201.4L297.2,211.7L299.1,201.6L300.9,204.8L302.8,208.6L304.7,201.1L306.6,206.1L308.4,213.1L310.3,210.3L312.2,193.1L314.0,212.7L315.9,202.3L317.8,200.0L319.6,199.8L321.5,211.0L323.4,205.6L325.2,202.8L327.1,198.8L329.0,207.5L330.9,210.5L332.7,197.6L334.6,197.0L336.5,201.4L338.3,207.2L340.2,201.1L342.1,202.9L343.9,198.5L345.8,211.0L347.7,202.8L349.6,204.5L351.4,210.1L353.3,202.2L355.2,203.3L357.0,205.9L358.9,201.1L360.8,211.9L362.6,203.8L364.5,200.9L366.4,201.7L368.3,197.0L370.1,210.6L372.0,212.4L373.9,202.0L375.7,200.7L377.6,190.7L379.5,199.7L381.3,208.6L383.2,198.5L385.1,208.4L387.0,212.2L388.8,187.8L390.7,201.4L392.6,199.0L394.4,199.9L396.3,192.5L398.2,201.6L400.0,196.0" stroke="#00FF00" stroke-width="1.6" fill="none" stroke-linecap="square" stroke-linejoin="round"/><path d="M82.2,210.1L84.0,212.3L85.9,195.5L87.8,195.2L89.7,200.9L91.5,202.6L93.4,203.0L95.3,208.1L97.1,194.8L99.0,200.1L100.9,201.0L102.7,201.7L104.6,197.7L106.5,201.0L108.4,199.5L110.2,211.0L112.1,200.9L114.0,190.9L115.8,207.1L117.7,204.8L119.6,198.7L121.4,198.3L123.3,200.3L125.2,213.6L127.0,201.0L128.9,211.0L130.8,208.9L132.7,200.7L134.5,205.8L136.4,199.2L138.3,185.2L140.1,199.4L142.0,199.7L143.9,209.3L145.7,207.8L147.6,210.3L149.5,207.2L151.4,210.5L153.2,207.9L155.1,205.2L157.0,210.0L158.8,212.5L160.7,212.1L162.6,201.3L164.4,203.6L166.3,197.9L168.2,197.8L170.1,206.0L171.9,200.0L173.8,212.6L175.7,190.4L177.5,196.9L179.4,205.3L181.3,210.9L183.1,201.7L185.0,215.1L186.9,208.6L188.8,199.5L190.6,203.5L192.5,206.9L194.4,198.3L196.2,210.2L198.1,202.3L200.0,207.0L201.8,209.0L203.7,201.2L205.6,209.9L207.5,192.6L209.3,207.5L211.2,192.1L213.1,210.5L214.9,200.4L216.8,211.1L218.7,212.0L220.5,203.0L222.4,200.0L224.3,211.6L226.1,196.9L228.0,208.7L229.9,203.2L231.8,201.7L233.6,200.4L235.5,214.7L237.4,194.3L239.2,200.6L241.1,206.5L243.0,210.1L244.8,214.1L246.7,212.1L248.6,200.7L250.5,206.0L252.3,210.7L254.2,207.1L256.1,194.6L257.9,205.9L259.8,207.4L261.7,195.9L263.5,201.2L265.4,203.7L267.3,207.5L269.2,213.2L271.0,210.9L272.9,206.7L274.8,205.2L276.6,201.7L278.5,200.6L280.4,202.5L282.2,202.5L284.1,209.8L286.0,216.7L287.9,206.9L289.7,209.5L291.6,207.7L293.5,205.4L295.3,211.2L297.2,210.4L299.1,204.4L300.9,203.1L302.8,207.6L304.7,200.8L306.6,205.0L308.4,209.8L310.3,203.5L312.2,192.5L314.0,207.7L315.9,196.7L317.8,195.4L319.6,194.7L321.5,208.6L323.4,191.6L325.2,202.9L327.1,205.1L329.0,205.0L330.9,200.0L332.7,203.3L334.6,204.6L336.5,195.9L338.3,207.9L340.2,209.8L342.1,198.8L343.9,199.3L345.8,197.0L347.7,209.9L349.6,197.1L351.4,200.6L353.3,193.0L355.2,210.9L357.0,202.2L358.9,205.1L360.8,212.9L362.6,207.7L364.5,196.7L366.4,206.2L368.3,207.7L370.1,198.2L372.0,197.5L373.9,197.5L375.7,208.1L377.6,203.7L379.5,197.2L381.3,207.3L383.2,207.8L385.1,198.4L387.0,194.0L388.8,210.2L390.7,218.8L392.6,211.9L394.4,209.3L396.3,204.1L398.2,199.6L400.0,204.1" stroke="#00FF00" stroke-width="1.6" fill="none" stroke-linecap="square" stroke-linejoin="round"/><path d="M82.2,208.2L84.0,203.1L85.9,209.7L87.8,204.3L89.7,207.8L91.5,188.0L93.4,199.1L95.3,209.0L97.1,209.9L99.0,206.6L100.9,213.8L102.7,208.3L104.6,208.4L106.5,198.7L108.4,206.5L110.2,208.7L112.1,212.0L114.0,211.0L115.8,204.4L117.7,205.3L119.6,197.2L121.4,207.7L123.3,197.7L125.2,202.5L127.0,204.0L128.9,216.0L130.8,211.7L132.7,199.6L134.5,195.7L136.4,202.8L138.3,199.4L140.1,206.4L142.0,206.2L143.9,207.9L145.7,198.2L147.6,201.9L149.5,205.4L151.4,205.9L153.2,200.7L155.1,202.1L157.0,209.0L158.8,193.8L160.7,202.5L162.6,203.9L164.4,195.2L166.3,197.9L168.2,204.5L170.1,200.8L171.9,210.4L173.8,207.8L175.7,217.5L177.5,196.7L179.4,215.3L181.3,199.9L183.1,208.9L185.0,209.8L186.9,205.2L188.8,202.4L190.6,200.3L192.5,193.4L194.4,201.9L196.2,198.7L198.1,207.6L200.0,199.7L201.8,203.1L203.7,206.8L205.6,204.6L207.5,204.4L209.3,202.9L211.2,201.6L213.1,207.0L214.9,208.4L216.8,199.5L218.7,214.1L220.5,207.7L222.4,194.7L224.3,220.1L226.1,208.1L228.0,199.9L229.9,213.8L231.8,188.5L233.6,219.4L235.5,195.4L237.4,194.7L239.2,198.5L241.1,205.3L243.0,201.9L244.8,209.3L246.7,199.2L248.6,210.7L250.5,205.6L252.3,198.0L254.2,210.6L256.1,206.1L257.9,203.0L259.8,211.9L261.7,197.0L263.5,201.9L265.4,213.0L267.3,204.2L269.2,208.5L271.0,207.8L272.9,203.4L274.8,208.1L276.6,198.1L278.5,208.1L280.4,198.0L282.2,204.1L284.1,198.7L286.0,207.0L287.9,206.8L289.7,210.7L291.6,200.3L293.5,198.2L295.3,191.1L297.2,196.1L299.1,202.3L300.9,205.0L302.8,201.4L304.7,203.9L306.6,195.0L308.4,198.1L310.3,208.7L312.2,207.8L314.0,195.5L315.9,201.8L317.8,205.0L319.6,196.6L321.5,206.0L323.4,205.3L325.2,206.4L327.1,215.3L329.0,198.5L330.9,210.8L332.7,207.0L334.6,208.0L336.5,199.2L338.3,204.0L340.2,203.5L342.1,213.6L343.9,204.1L345.8,212.3L347.7,201.7L349.6,201.3L351.4,203.6L353.3,191.3L355.2,200.3L357.0,199.9L358.9,202.6L360.8,204.6L362.6,197.7L364.5,196.9L366.4,211.2L368.3,197.1L370.1,200.3L372.0,197.7L373.9,200.6L375.7,210.8L377.6,210.4L379.5,192.5L381.3,201.8L383.2,211.8L385.1,201.3L387.0,205.5L388.8,214.3L390.7,217.0L392.6,212.9L394.4,201.7L396.3,203.6L398.2,204.8L400.0,201.6" stroke="#00FF00" stroke-width="1.6" fill="none" stroke-linecap="square" stroke-linejoin="round"/><path d="M82.2,200.4L84.0,216.5L85.9,205.8L87.8,208.9L89.7,211.3L91.5,207.3L93.4,204.7L95.3,205.6L97.1,212.7L99.0,206.9L100.9,192.0L102.7,210.3L104.6,214.1L106.5,202.3L108.4,200.4L110.2,201.2L112.1,210.7L114.0,198.0L115.8,208.7L117.7,210.8L119.6,207.6L121.4,204.6L123.3,199.7L125.2,200.3L127.0,204.1L128.9,198.4L130.8,203.5L132.7,198.6L134.5,212.4L136.4,213.4L138.3,199.4L140.1,212.3L142.0,205.8L143.9,204.6L145.7,206.9L147.6,206.7L149.5,195.7L151.4,219.1L153.2,198.7L155.1,190.3L157.0,203.9L158.8,204.1L160.7,199.7L162.6,193.1L164.4,211.1L166.3,203.5L168.2,205.1L170.1,200.7L171.9,203.0L173.8,200.1L175.7,206.5L177.5,203.7L179.4,208.0L181.3,208.0L183.1,204.8L185.0,204.8L186.9,211.0L188.8,194.6L190.6,204.8L192.5,212.2L194.4,197.4L196.2,208.5L198.1,201.0L200.0,204.1L201.8,202.5L203.7,203.0L205.6,207.4L207.5,203.7L209.3,191.9L211.2,217.3L213.1,203.6L214.9,201.4L216.8,210.3L218.7,212.2L220.5,191.1L222.4,206.2L224.3,191.6L226.1,200.8L228.0,203.5L229.9,201.2L231.8,200.2L233.6,197.0L235.5,201.4L237.4,203.1L239.2,202.9L241.1,195.9L243.0,199.1L244.8,210.0L246.7,207.8L248.6,202.0L250.5,207.7L252.3,206.2L254.2,209.7L256.1,205.5L257.9,201.4L259.8,198.0L261.7,203.9L263.5,191.6L265.4,204.4L267.3,184.9L269.2,197.9L271.0,200.9L272.9,206.9L274.8,220.7L276.6,204.8L278.5,202.8L280.4,192.4L282.2,212.1L284.1,192.5L286.0,205.3L287.9,199.5L289.7,218.9L291.6,203.0L293.5,205.8L295.3,199.7L297.2,203.2L299.1,210.6L300.9,198.1L302.8,199.6L304.7,200.2L306.6,197.7L308.4,197.1L310.3,203.8L312.2,211.8L314.0,211.9L315.9,195.6L317.8,199.4L319.6,203.0L321.5,206.2L323.4,203.4L325.2,203.5L327.1,205.6L329.0,207.8L330.9,190.7L332.7,202.2L334.6,207.2L336.5,211.3L338.3,207.9L340.2,199.3L342.1,199.0L343.9,204.8L345.8,203.2L347.7,205.3L349.6,210.1L351.4,195.7L353.3,201.3L355.2,188.7L357.0,208.0L358.9,204.3L360.8,198.2L362.6,204.9L364.5,211.7L366.4,209.1L368.3,202.8L370.1,201.4L372.0,204.0L373.9,197.4L375.7,197.5L377.6,201.4L379.5,203.2L381.3,204.9L383.2,200.1L385.1,197.9L387.0,203.0L388.8,200.6L390.7,205.2L392.6,211.7L394.4,209.3L396.3,198.7L398.2,200.6L400.0,193.8" stroke="#00FF00" stroke-width="1.6" fill="none" stroke-linecap="square" stroke-linejoin="round"/><path d="M82.2,203.7L84.0,198.8L85.9,196.1L87.8,198.1L89.7,207.6L91.5,205.1L93.4,203.2L95.3,209.9L97.1,201.2L99.0,197.9L100.9,206.9L102.7,192.2L104.6,205.7L106.5,205.2L108.4,205.4L110.2,208.2L112.1,201.5L114.0,203.9L115.8,194.1L117.7,200.4L119.6,200.8L121.4,205.3L123.3,212.4L125.2,204.5L127.0,209.1L128.9,198.3L130.8,204.2L132.7,194.1L134.5,199.6L136.4,199.0L138.3,202.6L140.1,202.7L142.0,200.1L143.9,198.5L145.7,208.2L147.6,201.1L149.5,188.4L151.4,204.5L153.2,205.5L155.1,208.1L157.0,212.6L158.8,196.9L160.7,203.6L162.6,202.2L164.4,193.0L166.3,189.0L168.2,209.3L170.1,197.7L171.9,200.3L173.8,201.6L175.7,201.1L177.5,204.1L179.4,194.5L181.3,200.3L183.1,201.9L185.0,196.5L186.9,198.6L188.8,201.2L190.6,202.0L192.5,193.5L194.4,200.9L196.2,204.5L198.1,209.1L200.0,206.0L201.8,210.2L203.7,203.3L205.6,202.4L207.5,216.2L209.3,203.9L211.2,200.1L213.1,203.0L214.9,209.7L216.8,196.4L218.7,208.1L220.5,211.3L222.4,210.4L224.3,204.1L226.1,198.1L228.0,197.0L229.9,202.7L231.8,211.1L233.6,207.9L235.5,209.3L237.4,205.0L239.2,214.6L241.1,203.3L243.0,200.1L244.8,204.9L246.7,201.2L248.6,209.6L250.5,212.7L252.3,207.8L254.2,197.1L256.1,197.8L257.9,206.7L259.8,196.8L261.7,205.9L263.5,194.9L265.4,201.0L267.3,206.6L269.2,199.2L271.0,208.5L272.9,209.5L274.8,212.5L276.6,202.3L278.5,204.2L280.4,204.3L282.2,206.3L284.1,195.3L286.0,206.3L287.9,208.1L289.7,196.4L291.6,195.3L293.5,201.8L295.3,214.1L297.2,207.3L299.1,200.1L300.9,203.6L302.8,194.5L304.7,211.9L306.6,199.7L308.4,207.4L310.3,195.8L312.2,204.1L314.0,197.5L315.9,207.5L317.8,212.1L319.6,210.3L321.5,207.3L323.4,209.7L325.2,196.5L327.1,195.6L329.0,202.0L330.9,209.8L332.7,204.3L334.6,207.7L336.5,194.9L338.3,201.7L340.2,200.6L342.1,205.9L343.9,215.5L345.8,208.1L347.7,210.2L349.6,201.3L351.4,202.9L353.3,208.3L355.2,205.8L357.0,194.1L358.9,209.2L360.8,208.9L362.6,204.8L364.5,207.6L366.4,206.0L368.3,200.2L370.1,193.1L372.0,214.0L373.9,203.5L375.7,203.1L377.6,203.9L379.5,204.5L381.3,205.4L383.2,197.4L385.1,206.1L387.0,204.1L388.8,203.3L390.7,202.7L392.6,204.3L394.4,197.3L396.3,203.3L398.2,202.2L400.0,203.6" stroke="#00FF00" stroke-width="1.6" fill="none" stroke-linecap="square" stroke-linejoin="round"/><path d="M82.2,210.0L84.0,208.9L85.9,210.3L87.8,202.8L89.7,208.2L91.5,210.3L93.4,202.6L95.3,200.9L97.1,214.5L99.0,193.9L100.9,203.8L102.7,204.6L104.6,197.6L106.5,203.6L108.4,207.6L110.2,190.9L112.1,210.4L114.0,204.6L115.8,198.9L117.7,210.4L119.6,204.6L121.4,201.7L123.3,189.7L125.2,209.3L127.0,204.3L128.9,200.1L130.8,203.5L132.7,211.2L134.5,201.6L136.4,203.3L138.3,201.3L140.1,197.2L142.0,197.9L143.9,201.6L145.7,202.1L147.6,210.5L149.5,204.8L151.4,202.7L153.2,206.4L155.1,203.4L157.0,208.9L158.8,194.8L160.7,191.2L162.6,206.3L164.4,201.6L166.3,205.4L168.2,196.5L170.1,201.4L171.9,203.5L173.8,205.3L175.7,203.2L177.5,210.0L179.4,200.0L181.3,208.2L183.1,200.8L185.0,203.2L186.9,197.5L188.8,204.1L190.6,197.9L192.5,209.5L194.4,200.4L196.2,205.3L198.1,202.8L200.0,203.6L201.8,198.4L203.7,216.0L205.6,202.1L207.5,212.9L209.3,196.8L211.2,215.8L213.1,210.0L214.9,214.0L216.8,194.2L218.7,211.7L220.5,203.3L222.4,207.2L224.3,214.7L226.1,206.0L228.0,200.0L229.9,205.1L231.8,198.4L233.6,206.1L235.5,204.0L237.4,206.3L239.2,201.9L241.1,192.7L243.0,201.8L244.8,202.8L246.7,207.7L248.6,208.5L250.5,195.3L252.3,210.6L254.2,209.4L256.1,204.5L257.9,206.5L259.8,192.3L261.7,218.0L263.5,201.8L265.4,199.7L267.3,210.6L269.2,207.7L271.0,201.3L272.9,194.2L274.8,209.4L276.6,213.3L278.5,198.1L280.4,194.8L282.2,205.8L284.1,217.0L286.0,195.2L287.9,205.0L289.7,197.1L291.6,204.1L293.5,206.0L295.3,206.5L297.2,195.0L299.1,195.2L300.9,216.5L302.8,209.3L304.7,193.1L306.6,205.9L308.4,211.8L310.3,203.7L312.2,204.3L314.0,204.3L315.9,206.5L317.8,205.5L319.6,206.4L321.5,201.7L323.4,208.5L325.2,205.4L327.1,204.5L329.0,195.8L330.9,201.4L332.7,204.2L334.6,200.4L336.5,201.2L338.3,197.1L340.2,200.5L342.1,192.8L343.9,195.5L345.8,203.8L347.7,206.0L349.6,198.2L351.4,200.4L353.3,204.1L355.2,212.3L357.0,214.4L358.9,201.4L360.8,198.9L362.6,198.7L364.5,211.1L366.4,197.2L368.3,206.6L370.1,201.1L372.0,200.9L373.9,208.2L375.7,206.9L377.6,215.7L379.5,208.8L381.3,214.1L383.2,200.7L385.1,203.0L387.0,197.9L388.8,201.2L390.7,207.1L392.6,201.2L394.4,205.6L396.3,199.6L398.2,201.4L400.0,209.2" stroke="#00FF00" stroke-width="1.6" fill="none" stroke-linecap="square" stroke-linejoin="round"/><path d="M82.2,204.0L84.0,203.7L85.9,205.8L87.8,198.7L89.7,193.8L91.5,206.2L93.4,206.1L95.3,217.4L97.1,204.8L99.0,206.6L100.9,216.9L102.7,202.3L104.6,200.5L106.5,208.4L108.4,206.2L110.2,209.8L112.1,199.4L114.0,213.0L115.8,205.9L117.7,192.4L119.6,203.7L121.4,201.2L123.3,204.9L125.2,211.0L127.0,204.2L128.9,201.6L130.8,210.1L132.7,202.0L134.5,196.6L136.4,197.6L138.3,213.4L140.1,209.8L142.0,213.6L143.9,197.6L145.7,200.4L147.6,199.8L149.5,209.2L151.4,210.9L153.2,203.5L155.1,203.4L157.0,209.1L158.8,203.1L160.7,200.1L162.6,202.6L164.4,210.2L166.3,216.6L168.2,205.5L170.1,203.0L171.9,205.5L173.8,206.5L175.7,208.1L177.5,199.7L179.4,204.3L181.3,203.3L183.1,209.8L185.0,207.7L186.9,203.0L188.8,210.0L190.6,211.5L192.5,206.0L194.4,196.8L196.2,202.9L198.1,195.3L200.0,204.8L201.8,205.8L203.7,212.3L205.6,207.4L207.5,195.4L209.3,202.0L211.2,199.6L213.1,199.8L214.9,204.0L216.8,205.2L218.7,203.3L220.5,200.0L222.4,201.3L224.3,201.1L226.1,203.1L228.0,208.6L229.9,205.6L231.8,209.6L233.6,198.0L235.5,216.5L237.4,205.3L239.2,189.8L241.1,206.0L243.0,210.8L244.8,204.1L246.7,196.3L248.6,204.9L250.5,200.3L252.3,203.4L254.2,206.2L256.1,185.2L257.9,203.5L259.8,207.1L261.7,206.9L263.5,201.7L265.4,201.5L267.3,199.3L269.2,203.1L271.0,212.4L272.9,200.7L274.8,205.7L276.6,205.6L278.5,212.7L280.4,207.3L282.2,208.2L284.1,204.0L286.0,212.5L287.9,203.5L289.7,203.1L291.6,210.5L293.5,207.5L295.3,208.9L297.2,198.4L299.1,218.8L300.9,205.8L302.8,213.6L304.7,206.3L306.6,198.7L308.4,207.5L310.3,202.9L312.2,208.7L314.0,192.1L315.9,198.2L317.8,196.9L319.6,211.6L321.5,210.2L323.4,197.2L325.2,204.8L327.1,205.2L329.0,201.6L330.9,211.1L332.7,199.0L334.6,203.5L336.5,200.7L338.3,207.6L340.2,200.5L342.1,207.7L343.9,197.8L345.8,196.8L347.7,198.1L349.6,200.4L351.4,199.7L353.3,219.6L355.2,198.5L357.0,205.1L358.9,202.9L360.8,205.1L362.6,211.7L364.5,206.6L366.4,199.5L368.3,195.0L370.1,207.1L372.0,208.8L373.9,194.7L375.7,208.6L377.6,191.0L379.5,203.1L381.3,208.6L383.2,197.5L385.1,193.2L387.0,211.9L388.8,194.0L390.7,205.0L392.6,194.4L394.4,205.6L396.3,212.7L398.2,200.3L400.0,197.7" stroke="#00FF00" stroke-width="1.6" fill="none" stroke-linecap="square" stroke-linejoin="round"/><path d="M82.2,191.5L84.0,193.7L85.9,199.8L87.8,205.4L89.7,207.1L91.5,205.7L93.4,208.9L95.3,205.6L97.1,219.2L99.0,202.9L100.9,204.2L102.7,188.7L104.6,199.5L106.5,206.9L108.4,200.6L110.2,211.3L112.1,207.6L114.0,215.1L115.8,195.4L117.7,200.5L119.6,211.0L121.4,204.4L123.3,198.3L125.2,201.0L127.0,201.7L128.9,209.1L130.8,207.8L132.7,203.4L134.5,198.5L136.4,208.9L138.3,210.7L140.1,197.2L142.0,209.5L143.9,197.6L145.7,202.5L147.6,198.7L149.5,193.6L151.4,199.9L153.2,199.4L155.1,209.5L157.0,208.1L158.8,200.2L160.7,194.8L162.6,195.7L164.4,190.2L166.3,202.1L168.2,202.8L170.1,198.0L171.9,203.9L173.8,204.4L175.7,210.2L177.5,198.1L179.4,210.4L181.3,200.9L183.1,212.5L185.0,197.5L186.9,210.1L188.8,199.0L190.6,213.5L192.5,206.6L194.4,197.0L196.2,208.8L198.1,203.6L200.0,206.8L201.8,217.8L203.7,202.2L205.6,201.4L207.5,210.6L209.3,200.6L211.2,208.7L213.1,210.0L214.9,204.0L216.8,208.1L218.7,190.3L220.5,213.3L222.4,199.6L224.3,198.1L226.1,215.8L228.0,214.3L229.9,200.6L231.8,206.9L233.6,201.7L235.5,197.2L237.4,206.2L239.2,210.3L241.1,220.3L243.0,202.8L244.8,209.5L246.7,202.1L248.6,202.6L250.5,212.2L252.3,193.7L254.2,197.5L256.1,198.9L257.9,211.0L259.8,206.4L261.7,207.2L263.5,206.4L265.4,210.6L267.3,201.3L269.2,202.5L271.0,201.7L272.9,206.9L274.8,196.2L276.6,202.7L278.5,220.2L280.4,207.7L282.2,204.2L284.1,198.1L286.0,205.6L287.9,205.3L289.7,207.8L291.6,199.8L293.5,206.5L295.3,207.4L297.2,208.2L299.1,200.4L300.9,206.9L302.8,213.7L304.7,200.0L306.6,207.9L308.4,201.6L310.3,201.5L312.2,196.5L314.0,197.5L315.9,207.1L317.8,204.7L319.6,211.4L321.5,193.6L323.4,201.0L325.2,195.3L327.1,205.5L329.0,215.8L330.9,194.5L332.7,203.0L334.6,202.8L336.5,203.2L338.3,199.7L340.2,200.4L342.1,213.0L343.9,197.1L345.8,206.7L347.7,206.3L349.6,193.2L351.4,198.0L353.3,205.5L355.2,214.6L357.0,202.5L358.9,200.3L360.8,203.9L362.6,210.9L364.5,208.2L366.4,210.9L368.3,202.1L370.1,198.5L372.0,197.3L373.9,207.8L375.7,202.0L377.6,200.1L379.5,206.4L381.3,204.2L383.2,190.7L385.1,202.1L387.0,198.1L388.8,205.9L390.7,203.1L392.6,213.5L394.4,203.4L396.3,196.2L398.2,190.8L400.0,196.1" stroke="#00FF00" stroke-width="1.6" fill="none" stroke-linecap="square" stroke-linejoin="round"/><path d="M82.2,199.9L84.0,203.7L85.9,207.6L87.8,204.9L89.7,200.3L91.5,208.7L93.4,198.4L95.3,209.9L97.1,214.6L99.0,210.0L100.9,213.9L102.7,212.2L104.6,197.2L106.5,205.2L108.4,202.7L110.2,197.1L112.1,196.5L114.0,207.0L115.8,196.1L117.7,201.7L119.6,204.0L121.4,201.4L123.3,212.5L125.2,208.7L127.0,204.6L128.9,200.4L130.8,206.2L132.7,204.8L134.5,198.2L136.4,195.6L138.3,199.4L140.1,196.4L142.0,206.4L143.9,205.8L145.7,202.1L147.6,205.8L149.5,207.0L151.4,194.1L153.2,205.2L155.1,209.8L157.0,201.1L158.8,193.0L160.7,203.5L162.6,196.6L164.4,206.6L166.3,206.9L168.2,208.1L170.1,204.8L171.9,193.0L173.8,210.9L175.7,194.2L177.5,210.0L179.4,205.4L181.3,199.0L183.1,200.2L185.0,202.3L186.9,213.8L188.8,201.8L190.6,210.1L192.5,188.7L194.4,205.3L196.2,202.9L198.1,210.8L200.0,206.8L201.8,211.7L203.7,198.1L205.6,205.6L207.5,200.6L209.3,208.1L211.2,207.0L213.1,196.3L214.9,209.8L216.8,214.7L218.7,201.6L220.5,210.8L222.4,206.6L224.3,198.6L226.1,208.9L228.0,198.8L229.9,208.1L231.8,195.1L233.6,196.1L235.5,206.8L237.4,205.3L239.2,209.0L241.1,202.8L243.0,197.1L244.8,212.6L246.7,198.5L248.6,211.9L250.5,209.1L252.3,214.6L254.2,191.4L256.1,203.6L257.9,202.5L259.8,208.0L261.7,197.6L263.5,216.5L265.4,203.8L267.3,190.7L269.2,206.2L271.0,203.8L272.9,199.9L274.8,208.7L276.6,203.7L278.5,198.1L280.4,202.7L282.2,201.6L284.1,205.9L286.0,201.9L287.9,203.5L289.7,195.1L291.6,199.5L293.5,205.2L295.3,218.4L297.2,199.5L299.1,199.3L300.9,209.2L302.8,215.7L304.7,210.5L306.6,198.2L308.4,210.1L310.3,206.4L312.2,202.4L314.0,196.4L315.9,203.8L317.8,204.3L319.6,206.9L321.5,193.9L323.4,197.3L325.2,204.2L327.1,211.9L329.0,208.3L330.9,200.1L332.7,207.9L334.6,198.3L336.5,201.4L338.3,201.8L340.2,199.7L342.1,200.6L343.9,208.6L345.8,205.5L347.7,189.6L349.6,210.7L351.4,206.3L353.3,197.1L355.2,204.4L357.0,208.3L358.9,211.4L360.8,200.3L362.6,197.4L364.5,195.1L366.4,203.1L368.3,197.2L370.1,209.6L372.0,202.4L373.9,207.4L375.7,202.3L377.6,198.9L379.5,197.0L381.3,209.3L383.2,195.8L385.1,206.2L387.0,209.4L388.8,204.3L390.7,212.0L392.6,203.3L394.4,201.6L396.3,204.5L398.2,200.1L400.0,205.1" stroke="#00FF00" stroke-width="1.6" fill="none" stroke-linecap="square" stroke-linejoin="round"/><path d="M82.2,204.0L84.0,212.6L85.9,203.7L87.8,209.1L89.7,206.7L91.5,204.5L93.4,202.9L95.3,213.8L97.1,213.3L99.0,205.8L100.9,201.2L102.7,201.8L104.6,198.7L106.5,196.2L108.4,201.0L110.2,204.1L112.1,210.1L114.0,209.6L115.8,206.8L117.7,202.4L119.6,202.7L121.4,204.0L123.3,204.9L125.2,200.2L127.0,202.7L128.9,202.2L130.8,202.2L132.7,207.2L134.5,210.1L136.4,201.1L138.3,201.5L140.1,205.3L142.0,206.5L143.9,190.4L145.7,208.5L147.6,205.3L149.5,202.4L151.4,210.9L153.2,203.3L155.1,193.3L157.0,198.4L158.8,200.2L160.7,200.5L162.6,203.3L164.4,198.3L166.3,204.9L168.2,206.5L170.1,203.4L171.9,198.6L173.8,202.0L175.7,200.0L177.5,216.1L179.4,196.9L181.3,190.0L183.1,196.0L185.0,205.9L186.9,209.1L188.8,202.3L190.6,209.9L192.5,199.7L194.4,207.1L196.2,198.3L198.1,195.9L200.0,216.1L201.8,202.2L203.7,208.2L205.6,212.4L207.5,207.7L209.3,205.3L211.2,197.8L213.1,213.1L214.9,197.7L216.8,192.0L218.7,200.4L220.5,200.7L222.4,204.1L224.3,211.0L226.1,200.8L228.0,201.7L229.9,199.6L231.8,188.7L233.6,199.7L235.5,201.5L237.4,194.7L239.2,212.0L241.1,210.8L243.0,206.2L244.8,207.9L246.7,199.9L248.6,205.9L250.5,193.6L252.3,194.9L254.2,199.4L256.1,206.3L257.9,200.3L259.8,199.1L261.7,210.3L263.5,201.8L265.4,199.7L267.3,202.6L269.2,194.5L271.0,196.7L272.9,208.8L274.8,203.1L276.6,208.8L278.5,200.4L280.4,209.0L282.2,198.3L284.1,201.5L286.0,198.0L287.9,204.7L289.7,212.5L291.6,193.3L293.5,204.8L295.3,195.6L297.2,201.2L299.1,199.7L300.9,192.8L302.8,201.7L304.7,195.4L306.6,212.6L308.4,198.5L310.3,205.1L312.2,204.5L314.0,203.6L315.9,201.6L317.8,193.8L319.6,214.7L321.5,203.4L323.4,207.9L325.2,196.7L327.1,206.1L329.0,200.9L330.9,206.0L332.7,199.6L334.6,197.5L336.5,205.9L338.3,203.3L340.2,212.0L342.1,201.7L343.9,198.4L345.8,206.8L347.7,196.8L349.6,215.9L351.4,214.5L353.3,211.8L355.2,206.4L357.0,203.4L358.9,203.9L360.8,203.9L362.6,199.1L364.5,206.3L366.4,211.0L368.3,210.8L370.1,190.8L372.0,217.4L373.9,204.4L375.7,194.7L377.6,200.5L379.5,208.3L381.3,203.3L383.2,198.2L385.1,196.1L387.0,208.7L388.8,198.8L390.7,201.8L392.6,196.7L394.4,195.0L396.3,205.3L398.2,211.9L400.0,200.9" stroke="#00FF00" stroke-width="1.6" fill="none" stroke-linecap="square" stroke-linejoin="round"/><path d="M82.2,193.4L84.0,199.9L85.9,202.6L87.8,189.7L89.7,210.2L91.5,198.6L93.4,207.4L95.3,203.7L97.1,203.5L99.0,195.0L100.9,209.6L102.7,207.2L104.6,213.5L106.5,201.1L108.4,206.7L110.2,201.5L112.1,210.4L114.0,206.1L115.8,197.8L117.7,205.0L119.6,200.3L121.4,200.8L123.3,206.1L125.2,213.3L127.0,198.1L128.9,203.0L130.8,198.1L132.7,216.0L134.5,213.9L136.4,216.8L138.3,209.2L140.1,197.8L142.0,200.6L143.9,204.2L145.7,203.2L147.6,199.5L149.5,205.8L151.4,201.6L153.2,203.2L155.1,217.0L157.0,206.3L158.8,195.9L160.7,206.4L162.6,204.8L164.4,207.6L166.3,206.9L168.2,197.3L170.1,205.6L171.9,210.1L173.8,222.5L175.7,207.4L177.5,215.7L179.4,214.9L181.3,199.2L183.1,199.8L185.0,215.4L186.9,198.9L188.8,201.3L190.6,208.7L192.5,199.6L194.4,213.7L196.2,211.2L198.1,212.6L200.0,210.6L201.8,198.8L203.7,211.9L205.6,210.9L207.5,209.7L209.3,202.8L211.2,206.0L213.1,198.8L214.9,208.2L216.8,211.7L218.7,207.0L220.5,203.8L222.4,209.6L224.3,202.4L226.1,193.2L228.0,207.5L229.9,203.8L231.8,196.0L233.6,207.9L235.5,209.1L237.4,210.6L239.2,201.7L241.1,201.0L243.0,205.0L244.8,203.8L246.7,196.5L248.6,198.9L250.5,212.5L252.3,204.2L254.2,203.5L256.1,199.8L257.9,205.4L259.8,207.9L261.7,206.8L263.5,214.7L265.4,204.2L267.3,207.6L269.2,201.3L271.0,210.2L272.9,206.7L274.8,209.9L276.6,210.4L278.5,199.9L280.4,206.8L282.2,201.4L284.1,210.7L286.0,203.5L287.9,214.1L289.7,206.9L291.6,207.0L293.5,200.5L295.3,202.9L297.2,205.0L299.1,199.0L300.9,202.9L302.8,200.8L304.7,199.4L306.6,204.4L308.4,205.7L310.3,202.0L312.2,206.4L314.0,201.6L315.9,197.3L317.8,198.8L319.6,206.2L321.5,211.6L323.4,204.2L325.2,204.6L327.1,197.3L329.0,206.2L330.9,205.1L332.7,199.5L334.6,206.7L336.5,204.8L338.3,193.6L340.2,195.0L342.1,200.1L343.9,202.2L345.8,209.6L347.7,200.5L349.6,203.4L351.4,202.5L353.3,206.9L355.2,203.8L357.0,204.9L358.9,201.9L360.8,195.2L362.6,201.6L364.5,213.6L366.4,209.5L368.3,213.1L370.1,208.4L372.0,200.4L373.9,201.3L375.7,207.2L377.6,202.1L379.5,208.2L381.3,212.1L383.2,212.0L385.1,208.7L387.0,195.2L388.8,211.6L390.7,196.2L392.6,195.7L394.4,204.7L396.3,203.9L398.2,207.2L400.0,203.7" stroke="#00FF00" stroke-width="1.6" fill="none" stroke-linecap="square" stroke-linejoin="round"/><path d="M82.2,200.4L84.0,204.2L85.9,198.4L87.8,197.2L89.7,202.2L91.5,202.3L93.4,204.7L95.3,202.2L97.1,210.9L99.0,201.9L100.9,203.1L102.7,209.4L104.6,191.5L106.5,210.1L108.4,209.5L110.2,202.6L112.1,215.8L114.0,209.0L115.8,213.4L117.7,210.1L119.6,205.1L121.4,202.4L123.3,197.7L125.2,199.5L127.0,197.3L128.9,200.8L130.8,207.1L132.7,197.7L134.5,207.2L136.4,208.0L138.3,195.2L140.1,199.6L142.0,203.0L143.9,199.8L145.7,199.1L147.6,212.4L149.5,204.9L151.4,211.3L153.2,203.6L155.1,208.3L157.0,196.2L158.8,201.2L160.7,209.2L162.6,204.4L164.4,211.5L166.3,204.1L168.2,201.1L170.1,202.8L171.9,215.8L173.8,206.3L175.7,201.3L177.5,202.5L179.4,197.4L181.3,212.0L183.1,201.2L185.0,208.2L186.9,203.2L188.8,201.9L190.6,200.2L192.5,207.8L194.4,203.2L196.2,211.3L198.1,212.7L200.0,201.0L201.8,204.7L203.7,214.0L205.6,209.4L207.5,204.2L209.3,195.1L211.2,198.1L213.1,199.6L214.9,215.0L216.8,204.9L218.7,201.5L220.5,202.0L222.4,201.9L224.3,205.7L226.1,193.9L228.0,195.5L229.9,204.9L231.8,210.2L233.6,192.1L235.5,207.6L237.4,197.2L239.2,193.0L241.1,210.0L243.0,202.6L244.8,206.4L246.7,201.3L248.6,202.4L250.5,192.7L252.3,200.8L254.2,204.4L256.1,197.6L257.9,205.9L259.8,206.5L261.7,190.9L263.5,209.2L265.4,207.2L267.3,204.0L269.2,210.6L271.0,216.8L272.9,197.9L274.8,208.9L276.6,207.4L278.5,206.4L280.4,210.0L282.2,210.6L284.1,203.2L286.0,189.9L287.9,199.8L289.7,199.7L291.6,213.1L293.5,204.3L295.3,211.2L297.2,199.5L299.1,205.5L300.9,203.9L302.8,204.6L304.7,207.6L306.6,213.1L308.4,200.6L310.3,212.3L312.2,211.1L314.0,205.8L315.9,208.2L317.8,202.5L319.6,198.0L321.5,202.5L323.4,202.8L325.2,203.8L327.1,198.9L329.0,215.0L330.9,201.8L332.7,209.5L334.6,211.3L336.5,203.9L338.3,206.2L340.2,200.4L342.1,197.3L343.9,217.8L345.8,204.3L347.7,192.2L349.6,198.7L351.4,195.2L353.3,203.2L355.2,212.4L357.0,210.5L358.9,199.6L360.8,198.1L362.6,208.2L364.5,205.4L366.4,202.2L368.3,214.2L370.1,205.8L372.0,194.1L373.9,190.7L375.7,204.4L377.6,192.8L379.5,206.8L381.3,208.5L383.2,217.0L385.1,198.0L387.0,205.9L388.8,189.7L390.7,201.7L392.6,202.5L394.4,214.4L396.3,194.7L398.2,205.8L400.0,204.6" stroke="#00FF00" stroke-width="1.6" fill="none" stroke-linecap="square" stroke-linejoin="round"/><path d="M82.2,217.5L84.0,198.8L85.9,198.4L87.8,207.9L89.7,203.8L91.5,202.0L93.4,198.6L95.3,203.7L97.1,194.1L99.0,205.8L100.9,207.9L102.7,207.1L104.6,219.5L106.5,209.1L108.4,198.3L110.2,202.7L112.1,209.2L114.0,202.2L115.8,216.4L117.7,206.0L119.6,201.2L121.4,200.2L123.3,208.9L125.2,198.9L127.0,193.2L128.9,206.9L130.8,199.9L132.7,213.6L134.5,216.0L136.4,200.7L138.3,204.1L140.1,203.1L142.0,207.8L143.9,206.1L145.7,199.5L147.6,194.1L149.5,205.6L151.4,214.1L153.2,196.7L155.1,200.7L157.0,200.2L158.8,203.2L160.7,190.4L162.6,203.8L164.4,201.2L166.3,215.4L168.2,207.8L170.1,208.4L171.9,204.5L173.8,202.2L175.7,208.8L177.5,194.0L179.4,210.7L181.3,207.0L183.1,202.9L185.0,211.8L186.9,200.9L188.8,200.5L190.6,206.0L192.5,192.9L194.4,203.8L196.2,202.6L198.1,210.0L200.0,214.3L201.8,208.1L203.7,206.2L205.6,207.0L207.5,199.7L209.3,218.5L211.2,211.1L213.1,215.2L214.9,196.3L216.8,207.7L218.7,207.4L220.5,210.9L222.4,198.9L224.3,206.8L226.1,203.0L228.0,216.4L229.9,197.3L231.8,201.9L233.6,201.0L235.5,196.9L237.4,205.4L239.2,205.3L241.1,200.0L243.0,201.7L244.8,205.7L246.7,204.0L248.6,207.3L250.5,200.0L252.3,198.7L254.2,204.2L256.1,193.0L257.9,213.4L259.8,205.6L261.7,194.0L263.5,206.7L265.4,213.8L267.3,195.9L269.2,200.9L271.0,211.3L272.9,199.5L274.8,210.3L276.6,212.2L278.5,205.1L280.4,207.0L282.2,210.7L284.1,206.3L286.0,210.1L287.9,203.7L289.7,204.2L291.6,199.6L293.5,206.8L295.3,212.0L297.2,211.9L299.1,205.5L300.9,194.8L302.8,198.9L304.7,207.8L306.6,198.4L308.4,210.9L310.3,197.9L312.2,206.3L314.0,199.4L315.9,200.2L317.8,205.6L319.6,202.0L321.5,210.3L323.4,204.4L325.2,197.4L327.1,179.4L329.0,199.7L330.9,203.4L332.7,209.9L334.6,197.5L336.5,213.8L338.3,208.6L340.2,201.7L342.1,211.0L343.9,194.6L345.8,197.3L347.7,207.2L349.6,207.1L351.4,211.7L353.3,212.1L355.2,201.1L357.0,200.0L358.9,201.6L360.8,202.1L362.6,207.1L364.5,201.6L366.4,212.5L368.3,203.6L370.1,194.9L372.0,195.8L373.9,206.4L375.7,205.7L377.6,195.4L379.5,192.9L381.3,212.6L383.2,206.2L385.1,202.2L387.0,196.3L388.8,208.6L390.7,199.7L392.6,205.4L394.4,189.3L396.3,201.0L398.2,204.4L400.0,205.5" stroke="#00FF00" stroke-width="1.6" fill="none" stroke-linecap="square" stroke-linejoin="round"/><path d="M82.2,197.9L84.0,200.2L85.9,210.7L87.8,203.0L89.7,212.3L91.5,208.8L93.4,212.0L95.3,212.2L97.1,208.4L99.0,210.1L100.9,201.1L102.7,199.5L104.6,205.7L106.5,211.0L108.4,199.4L110.2,216.4L112.1,215.8L114.0,199.9L115.8,200.3L117.7,198.4L119.6,205.6L121.4,211.8L123.3,207.3L125.2,200.9L127.0,208.8L128.9,208.5L130.8,212.6L132.7,211.2L134.5,199.2L136.4,201.5L138.3,211.2L140.1,210.7L142.0,207.6L143.9,201.0L145.7,211.3L147.6,205.3L149.5,217.1L151.4,211.8L153.2,201.7L155.1,198.9L157.0,211.2L158.8,208.9L160.7,199.5L162.6,206.6L164.4,207.5L166.3,201.1L168.2,203.1L170.1,197.6L171.9,199.5L173.8,207.7L175.7,205.0L177.5,204.6L179.4,212.4L181.3,210.1L183.1,198.4L185.0,213.8L186.9,198.3L188.8,202.5L190.6,205.1L192.5,201.0L194.4,201.4L196.2,197.0L198.1,206.6L200.0,205.6L201.8,205.7L203.7,193.0L205.6,198.6L207.5,209.8L209.3,206.2L211.2,208.5L213.1,204.2L214.9,203.0L216.8,190.5L218.7,215.2L220.5,198.1L222.4,201.6L224.3,208.4L226.1,205.1L228.0,207.2L229.9,203.9L231.8,198.2L233.6,213.3L235.5,196.4L237.4,206.5L239.2,195.2L241.1,201.8L243.0,196.8L244.8,200.8L246.7,197.7L248.6,203.9L250.5,209.2L252.3,200.2L254.2,199.9L256.1,191.6L257.9,216.2L259.8,205.3L261.7,197.8L263.5,211.6L265.4,205.5L267.3,191.5L269.2,195.6L271.0,209.4L272.9,195.6L274.8,197.0L276.6,199.4L278.5,201.8L280.4,202.6L282.2,209.2L284.1,207.1L286.0,199.6L287.9,203.2L289.7,192.9L291.6,206.0L293.5,218.3L295.3,205.9L297.2,202.3L299.1,201.6L300.9,203.5L302.8,208.8L304.7,195.0L306.6,207.9L308.4,199.6L310.3,205.6L312.2,211.0L314.0,195.4L315.9,218.8L317.8,208.9L319.6,201.2L321.5,205.9L323.4,199.3L325.2,204.4L327.1,206.5L329.0,190.9L330.9,205.1L332.7,204.7L334.6,210.2L336.5,208.2L338.3,199.8L340.2,200.3L342.1,203.7L343.9,207.8L345.8,199.6L347.7,213.8L349.6,205.7L351.4,205.1L353.3,208.7L355.2,202.7L357.0,207.6L358.9,208.4L360.8,192.8L362.6,199.1L364.5,196.4L366.4,203.2L368.3,197.8L370.1,198.8L372.0,196.2L373.9,189.3L375.7,204.8L377.6,201.9L379.5,203.7L381.3,224.4L383.2,211.7L385.1,203.3L387.0,199.6L388.8,206.8L390.7,196.6L392.6,195.7L394.4,205.8L396.3,194.8L398.2,192.9L400.0,200.5" stroke="#00FF00" stroke-width="1.6" fill="none" stroke-linecap="square" stroke-linejoin="round"/><path d="M82.2,209.9L84.0,195.3L85.9,205.0L87.8,206.3L89.7,203.3L91.5,207.2L93.4,197.6L95.3,199.4L97.1,196.7L99.0,200.5L100.9,208.7L102.7,204.9L104.6,198.8L106.5,206.4L108.4,186.6L110.2,205.4L112.1,207.5L114.0,197.1L115.8,199.5L117.7,204.2L119.6,205.4L121.4,201.4L123.3,199.0L125.2,199.4L127.0,205.8L128.9,201.4L130.8,199.0L132.7,199.4L134.5,222.4L136.4,209.3L138.3,208.6L140.1,205.4L142.0,202.9L143.9,198.5L145.7,200.3L147.6,204.7L149.5,203.9L151.4,193.5L153.2,207.6L155.1,202.2L157.0,194.7L158.8,201.9L160.7,216.2L162.6,201.8L164.4,206.3L166.3,204.7L168.2,197.7L170.1,201.2L171.9,205.6L173.8,198.7L175.7,201.4L177.5,203.4L179.4,202.2L181.3,202.5L183.1,206.0L185.0,206.7L186.9,203.8L188.8,209.7L190.6,211.5L192.5,196.2L194.4,205.4L196.2,204.1L198.1,204.8L200.0,203.9L201.8,203.9L203.7,203.6L205.6,208.8L207.5,198.4L209.3,208.1L211.2,197.8L213.1,215.4L214.9,210.3L216.8,198.1L218.7,204.9L220.5,208.0L222.4,201.8L224.3,210.2L226.1,203.5L228.0,217.2L229.9,206.7L231.8,207.9L233.6,200.8L235.5,198.8L237.4,209.1L239.2,194.4L241.1,207.5L243.0,216.3L244.8,218.2L246.7,194.8L248.6,204.5L250.5,207.9L252.3,208.4L254.2,210.5L256.1,195.9L257.9,204.5L259.8,193.3L261.7,205.1L263.5,217.9L265.4,198.9L267.3,206.1L269.2,205.3L271.0,194.5L272.9,205.5L274.8,196.9L276.6,203.9L278.5,208.3L280.4,200.8L282.2,207.4L284.1,196.5L286.0,198.1L287.9,203.4L289.7,200.2L291.6,200.4L293.5,205.4L295.3,198.4L297.2,205.1L299.1,200.1L300.9,209.4L302.8,203.1L304.7,201.2L306.6,208.4L308.4,206.2L310.3,206.9L312.2,199.3L314.0,208.0L315.9,201.0L317.8,194.5L319.6,201.5L321.5,213.2L323.4,202.9L325.2,197.4L327.1,205.3L329.0,197.0L330.9,199.9L332.7,201.0L334.6,205.1L336.5,206.6L338.3,205.0L340.2,203.1L342.1,200.4L343.9,201.0L345.8,205.3L347.7,203.1L349.6,201.1L351.4,213.1L353.3,208.0L355.2,208.2L357.0,204.6L358.9,205.0L360.8,204.9L362.6,208.6L364.5,199.3L366.4,201.7L368.3,213.1L370.1,203.2L372.0,210.0L373.9,193.2L375.7,206.0L377.6,205.6L379.5,202.8L381.3,204.5L383.2,203.6L385.1,194.0L387.0,201.9L388.8,198.2L390.7,196.5L392.6,209.0L394.4,193.1L396.3,199.1L398.2,197.5L400.0,208.3" stroke="#00FF00" stroke-width="1.6" fill="none" stroke-linecap="square" stroke-linejoin="round"/><path d="M82.2,199.0L84.0,201.4L85.9,207.1L87.8,190.3L89.7,200.5L91.5,205.3L93.4,202.7L95.3,198.5L97.1,197.1L99.0,200.4L100.9,196.6L102.7,195.1L104.6,211.2L106.5,206.8L108.4,209.5L110.2,203.3L112.1,195.3L114.0,200.0L115.8,210.1L117.7,205.6L119.6,197.7L121.4,207.0L123.3,204.4L125.2,202.1L127.0,214.7L128.9,199.2L130.8,201.8L132.7,200.5L134.5,209.7L136.4,208.5L138.3,207.4L140.1,202.4L142.0,203.5L143.9,203.1L145.7,193.2L147.6,196.1L149.5,208.2L151.4,207.8L153.2,193.6L155.1,205.8L157.0,195.6L158.8,194.3L160.7,207.1L162.6,205.5L164.4,203.4L166.3,209.0L168.2,209.7L170.1,206.3L171.9,198.8L173.8,206.5L175.7,205.1L177.5,206.6L179.4,212.0L181.3,195.0L183.1,217.8L185.0,207.8L186.9,200.5L188.8,212.2L190.6,200.3L192.5,196.4L194.4,209.0L196.2,202.6L198.1,210.5L200.0,200.8L201.8,203.3L203.7,202.6L205.6,195.7L207.5,201.1L209.3,195.8L211.2,200.1L213.1,211.0L214.9,202.3L216.8,201.0L218.7,212.5L220.5,195.9L222.4,203.5L224.3,201.7L226.1,209.2L228.0,203.4L229.9,202.1L231.8,205.8L233.6,203.4L235.5,216.5L237.4,195.8L239.2,210.5L241.1,216.9L243.0,209.6L244.8,208.9L246.7,200.6L248.6,209.3L250.5,202.2L252.3,209.6L254.2,190.7L256.1,200.6L257.9,192.2L259.8,209.9L261.7,199.9L263.5,209.5L265.4,200.4L267.3,199.8L269.2,213.3L271.0,210.6L272.9,210.7L274.8,212.7L276.6,208.1L278.5,209.5L280.4,212.4L282.2,203.2L284.1,200.5L286.0,211.6L287.9,207.0L289.7,203.7L291.6,205.1L293.5,207.9L295.3,198.9L297.2,198.6L299.1,199.6L300.9,204.9L302.8,191.8L304.7,193.3L306.6,206.0L308.4,204.4L310.3,196.5L312.2,208.4L314.0,201.2L315.9,203.3L317.8,207.8L319.6,205.0L321.5,213.0L323.4,206.8L325.2,215.5L327.1,190.0L329.0,194.6L330.9,196.2L332.7,201.7L334.6,197.6L336.5,195.9L338.3,197.5L340.2,198.0L342.1,208.9L343.9,200.9L345.8,206.7L347.7,210.5L349.6,210.3L351.4,200.9L353.3,197.2L355.2,211.6L357.0,193.0L358.9,194.7L360.8,205.7L362.6,206.2L364.5,203.8L366.4,197.6L368.3,205.7L370.1,210.0L372.0,201.3L373.9,215.7L375.7,202.5L377.6,196.5L379.5,201.5L381.3,198.7L383.2,200.4L385.1,199.0L387.0,202.5L388.8,208.3L390.7,204.6L392.6,203.7L394.4,195.8L396.3,193.6L398.2,200.8L400.0,207.8" stroke="#00FF00" stroke-width="1.6" fill="none" stroke-linecap="square" stroke-linejoin="round"/><path d="M82.2,208.3L84.0,205.1L85.9,195.7L87.8,202.0L89.7,204.3L91.5,208.6L93.4,198.7L95.3,202.3L97.1,204.3L99.0,203.4L100.9,193.9L102.7,204.9L104.6,193.9L106.5,196.6L108.4,203.7L110.2,198.7L112.1,204.7L114.0,208.9L115.8,205.6L117.7,209.4L119.6,200.9L121.4,203.9L123.3,200.6L125.2,199.1L127.0,222.6L128.9,202.1L130.8,214.7L132.7,203.0L134.5,209.2L136.4,203.4L138.3,195.8L140.1,214.2L142.0,202.9L143.9,204.5L145.7,215.3L147.6,200.1L149.5,203.8L151.4,207.0L153.2,208.3L155.1,184.8L157.0,206.3L158.8,214.7L160.7,209.5L162.6,206.2L164.4,206.3L166.3,204.5L168.2,210.2L170.1,200.8L171.9,206.9L173.8,212.1L175.7,208.9L177.5,206.3L179.4,198.9L181.3,201.1L183.1,206.0L185.0,203.9L186.9,202.7L188.8,191.8L190.6,207.7L192.5,201.2L194.4,199.7L196.2,209.7L198.1,202.9L200.0,203.0L201.8,206.8L203.7,200.6L205.6,197.9L207.5,197.3L209.3,205.1L211.2,202.9L213.1,190.0L214.9,210.6L216.8,202.7L218.7,198.7L220.5,203.1L222.4,200.1L224.3,203.0L226.1,199.5L228.0,196.3L229.9,205.3L231.8,202.8L233.6,204.3L235.5,206.4L237.4,204.1L239.2,210.7L241.1,199.6L243.0,193.8L244.8,193.8L246.7,196.4L248.6,209.7L250.5,194.9L252.3,208.2L254.2,204.3L256.1,193.0L257.9,210.3L259.8,198.9L261.7,202.3L263.5,204.8L265.4,209.1L267.3,201.4L269.2,206.7L271.0,197.7L272.9,196.6L274.8,212.1L276.6,206.9L278.5,205.8L280.4,210.9L282.2,210.5L284.1,203.3L286.0,205.1L287.9,213.7L289.7,207.0L291.6,200.7L293.5,211.0L295.3,209.3L297.2,194.3L299.1,195.9L300.9,213.4L302.8,211.8L304.7,201.5L306.6,210.8L308.4,205.2L310.3,206.4L312.2,200.4L314.0,218.8L315.9,216.8L317.8,211.0L319.6,197.6L321.5,204.6L323.4,213.8L325.2,200.7L327.1,199.4L329.0,205.1L330.9,205.6L332.7,201.0L334.6,196.4L336.5,202.7L338.3,200.4L340.2,203.8L342.1,205.8L343.9,209.0L345.8,202.0L347.7,205.3L349.6,205.0L351.4,198.0L353.3,200.6L355.2,198.3L357.0,212.9L358.9,200.1L360.8,207.0L362.6,208.3L364.5,208.5L366.4,196.2L368.3,198.5L370.1,207.7L372.0,210.2L373.9,203.3L375.7,206.1L377.6,193.5L379.5,212.1L381.3,214.3L383.2,204.9L385.1,203.3L387.0,202.5L388.8,198.8L390.7,190.9L392.6,205.3L394.4,206.5L396.3,213.8L398.2,201.8L400.0,198.2" stroke="#00FF00" stroke-width="1.6" fill="none" stroke-linecap="square" stroke-linejoin="round"/><path d="M82.2,205.5L84.0,197.0L85.9,203.8L87.8,195.0L89.7,202.0L91.5,210.3L93.4,207.8L95.3,213.1L97.1,214.4L99.0,202.4L100.9,198.8L102.7,192.3L104.6,204.3L106.5,205.4L108.4,210.6L110.2,198.1L112.1,201.7L114.0,207.5L115.8,199.9L117.7,200.6L119.6,215.1L121.4,199.6L123.3,203.2L125.2,206.3L127.0,206.5L128.9,193.6L130.8,194.8L132.7,193.1L134.5,210.8L136.4,207.9L138.3,198.6L140.1,211.2L142.0,208.3L143.9,214.8L145.7,192.9L147.6,197.7L149.5,201.3L151.4,202.7L153.2,206.5L155.1,206.4L157.0,200.3L158.8,208.2L160.7,196.7L162.6,206.9L164.4,209.2L166.3,196.3L168.2,204.8L170.1,200.7L171.9,206.5L173.8,217.4L175.7,200.7L177.5,212.0L179.4,197.5L181.3,213.2L183.1,215.1L185.0,202.2L186.9,201.5L188.8,203.4L190.6,211.2L192.5,198.7L194.4,212.7L196.2,206.8L198.1,208.7L200.0,206.2L201.8,198.9L203.7,207.8L205.6,200.6L207.5,199.9L209.3,214.2L211.2,210.9L213.1,206.3L214.9,207.5L216.8,202.2L218.7,215.5L220.5,199.7L222.4,199.6L224.3,205.0L226.1,212.2L228.0,204.0L229.9,207.2L231.8,200.6L233.6,204.5L235.5,199.6L237.4,206.6L239.2,195.4L241.1,217.7L243.0,210.1L244.8,201.1L246.7,213.0L248.6,199.6L250.5,211.2L252.3,203.4L254.2,209.4L256.1,206.6L257.9,202.9L259.8,204.6L261.7,206.2L263.5,191.1L265.4,203.9L267.3,209.7L269.2,198.4L271.0,199.0L272.9,196.6L274.8,193.2L276.6,209.5L278.5,197.5L280.4,197.0L282.2,203.8L284.1,202.4L286.0,221.7L287.9,207.2L289.7,193.1L291.6,214.4L293.5,207.0L295.3,202.1L297.2,200.3L299.1,194.0L300.9,214.3L302.8,203.5L304.7,198.6L306.6,211.6L308.4,203.9L310.3,192.5L312.2,195.8L314.0,200.5L315.9,219.3L317.8,204.4L319.6,201.4L321.5,205.5L323.4,204.0L325.2,185.2L327.1,204.9L329.0,209.4L330.9,202.2L332.7,205.5L334.6,205.4L336.5,204.1L338.3,198.9L340.2,202.1L342.1,210.7L343.9,204.3L345.8,200.7L347.7,206.3L349.6,196.7L351.4,198.9L353.3,209.4L355.2,201.6L357.0,191.6L358.9,194.2L360.8,203.8L362.6,198.1L364.5,207.5L366.4,212.1L368.3,200.1L370.1,201.9L372.0,200.3L373.9,203.5L375.7,201.4L377.6,206.4L379.5,200.5L381.3,198.4L383.2,203.7L385.1,198.5L387.0,213.9L388.8,208.0L390.7,194.7L392.6,192.8L394.4,201.8L396.3,203.9L398.2,210.8L400.0,201.1" stroke="#00FF00" stroke-width="1.6" fill="none" stroke-linecap="square" stroke-linejoin="round"/><path d="M82.2,199.3L84.0,212.8L85.9,200.7L87.8,201.1L89.7,201.4L91.5,210.7L93.4,200.8L95.3,212.9L97.1,195.1L99.0,203.2L100.9,210.9L102.7,196.0L104.6,197.1L106.5,207.9L108.4,190.8L110.2,210.0L112.1,202.1L114.0,196.9L115.8,217.5L117.7,198.0L119.6,204.4L121.4,204.1L123.3,210.4L125.2,202.0L127.0,210.6L128.9,209.8L130.8,206.7L132.7,211.3L134.5,194.6L136.4,211.9L138.3,208.5L140.1,205.9L142.0,204.0L143.9,199.3L145.7,199.1L147.6,205.8L149.5,206.3L151.4,203.8L153.2,199.1L155.1,199.8L157.0,207.1L158.8,216.3L160.7,191.2L162.6,198.3L164.4,202.4L166.3,202.0L168.2,207.1L170.1,210.0L171.9,206.0L173.8,205.3L175.7,207.7L177.5,212.7L179.4,205.9L181.3,200.6L183.1,206.9L185.0,203.9L186.9,216.3L188.8,205.2L190.6,204.7L192.5,211.3L194.4,214.3L196.2,201.5L198.1,208.8L200.0,201.1L201.8,206.5L203.7,200.3L205.6,206.0L207.5,213.0L209.3,204.5L211.2,205.9L213.1,200.1L214.9,206.7L216.8,206.3L218.7,198.9L220.5,197.0L222.4,199.5L224.3,197.8L226.1,201.3L228.0,199.4L229.9,198.8L231.8,201.6L233.6,203.6L235.5,203.1L237.4,189.6L239.2,203.9L241.1,205.4L243.0,206.2L244.8,204.2L246.7,202.5L248.6,210.7L250.5,215.8L252.3,202.2L254.2,213.6L256.1,202.4L257.9,203.1L259.8,197.1L261.7,194.0L263.5,201.7L265.4,207.2L267.3,210.9L269.2,208.6L271.0,203.7L272.9,216.2L274.8,203.4L276.6,203.9L278.5,200.0L280.4,205.8L282.2,203.2L284.1,208.2L286.0,206.6L287.9,214.4L289.7,203.1L291.6,194.6L293.5,202.8L295.3,201.6L297.2,209.6L299.1,195.2L300.9,208.3L302.8,199.0L304.7,203.1L306.6,209.4L308.4,197.6L310.3,203.6L312.2,202.6L314.0,201.0L315.9,203.8L317.8,205.9L319.6,200.9L321.5,206.1L323.4,203.2L325.2,207.6L327.1,212.5L329.0,207.6L330.9,206.6L332.7,203.5L334.6,196.5L336.5,213.6L338.3,202.8L340.2,216.7L342.1,209.8L343.9,206.6L345.8,217.0L347.7,214.6L349.6,202.6L351.4,203.0L353.3,204.2L355.2,208.3L357.0,190.6L358.9,204.4L360.8,208.6L362.6,193.4L364.5,199.8L366.4,205.6L368.3,196.3L370.1,202.5L372.0,199.6L373.9,202.0L375.7,209.5L377.6,197.6L379.5,202.4L381.3,209.4L383.2,207.9L385.1,197.6L387.0,205.5L388.8,203.0L390.7,199.4L392.6,202.5L394.4,212.4L396.3,199.5L398.2,197.7L400.0,198.1" stroke="#00FF00" stroke-width="1.6" fill="none" stroke-linecap="square" stroke-linejoin="round"/><path d="M82.2,194.3L84.0,201.8L85.9,199.4L87.8,194.5L89.7,205.7L91.5,193.6L93.4,193.6L95.3,199.3L97.1,193.0L99.0,198.9L100.9,209.2L102.7,197.2L104.6,202.0L106.5,201.5L108.4,203.1L110.2,195.9L112.1,200.7L114.0,208.1L115.8,201.1L117.7,199.6L119.6,208.3L121.4,206.6L123.3,206.3L125.2,207.6L127.0,201.9L128.9,197.9L130.8,192.7L132.7,196.9L134.5,197.9L136.4,197.2L138.3,196.0L140.1,206.2L142.0,199.9L143.9,202.1L145.7,204.8L147.6,206.7L149.5,207.0L151.4,205.6L153.2,211.4L155.1,200.9L157.0,204.1L158.8,203.4L160.7,202.0L162.6,199.7L164.4,207.5L166.3,204.6L168.2,213.6L170.1,217.2L171.9,215.6L173.8,194.8L175.7,214.9L177.5,201.2L179.4,195.2L181.3,206.7L183.1,194.3L185.0,193.0L186.9,198.4L188.8,189.8L190.6,200.3L192.5,208.3L194.4,200.9L196.2,206.6L198.1,211.7L200.0,211.6L201.8,190.2L203.7,207.2L205.6,204.1L207.5,207.9L209.3,203.1L211.2,205.4L213.1,206.4L214.9,211.2L216.8,212.4L218.7,208.4L220.5,202.2L222.4,191.5L224.3,197.6L226.1,193.0L228.0,201.0L229.9,204.4L231.8,211.8L233.6,203.9L235.5,216.7L237.4,205.7L239.2,194.2L241.1,201.9L243.0,197.2L244.8,206.2L246.7,212.1L248.6,206.7L250.5,206.2L252.3,196.7L254.2,192.1L256.1,208.2L257.9,206.0L259.8,204.7L261.7,205.9L263.5,211.2L265.4,203.2L267.3,201.6L269.2,201.5L271.0,210.9L272.9,204.4L274.8,214.1L276.6,198.3L278.5,209.8L280.4,205.3L282.2,206.4L284.1,207.1L286.0,210.0L287.9,214.2L289.7,193.3L291.6,202.1L293.5,202.0L295.3,191.1L297.2,204.2L299.1,200.3L300.9,203.4L302.8,196.5L304.7,200.6L306.6,201.7L308.4,205.0L310.3,201.8L312.2,196.6L314.0,215.9L315.9,204.3L317.8,206.0L319.6,205.3L321.5,215.2L323.4,199.1L325.2,208.5L327.1,204.8L329.0,206.4L330.9,213.4L332.7,206.1L334.6,214.4L336.5,209.0L338.3,205.2L340.2,203.4L342.1,203.0L343.9,204.2L345.8,190.6L347.7,200.7L349.6,210.6L351.4,207.0L353.3,207.2L355.2,204.3L357.0,206.9L358.9,208.4L360.8,193.4L362.6,203.0L364.5,205.2L366.4,204.7L368.3,204.5L370.1,194.9L372.0,200.3L373.9,196.5L375.7,221.8L377.6,201.2L379.5,196.8L381.3,191.4L383.2,203.0L385.1,213.4L387.0,199.6L388.8,206.7L390.7,213.8L392.6,206.8L394.4,196.8L396.3,195.9L398.2,198.8L400.0,209.3" stroke="#00FF00" stroke-width="1.6" fill="none" stroke-linecap="square" stroke-linejoin="round"/><path d="M82.2,188.8L84.0,210.7L85.9,204.2L87.8,212.4L89.7,195.9L91.5,201.1L93.4,198.5L95.3,203.2L97.1,204.2L99.0,202.7L100.9,215.0L102.7,197.8L104.6,198.3L106.5,206.1L108.4,203.8L110.2,202.0L112.1,194.4L114.0,201.2L115.8,203.5L117.7,206.8L119.6,212.7L121.4,207.3L123.3,203.3L125.2,205.2L127.0,203.3L128.9,199.3L130.8,201.1L132.7,202.1L134.5,199.8L136.4,202.6L138.3,203.9L140.1,200.9L142.0,214.0L143.9,196.2L145.7,211.4L147.6,198.7L149.5,203.6L151.4,197.1L153.2,203.5L155.1,209.3L157.0,197.3L158.8,202.6L160.7,203.0L162.6,203.2L164.4,197.7L166.3,198.8L168.2,202.3L170.1,212.9L171.9,206.1L173.8,203.1L175.7,193.0L177.5,201.4L179.4,204.2L181.3,196.5L183.1,204.3L185.0,203.8L186.9,202.7L188.8,212.6L190.6,198.0L192.5,201.1L194.4,205.4L196.2,210.5L198.1,202.4L200.0,195.3L201.8,207.5L203.7,210.0L205.6,201.2L207.5,213.2L209.3,216.9L211.2,206.3L213.1,207.8L214.9,205.3L216.8,206.9L218.7,201.7L220.5,205.0L222.4,207.2L224.3,206.4L226.1,199.9L228.0,197.9L229.9,198.3L231.8,199.5L233.6,223.3L235.5,209.6L237.4,205.5L239.2,202.4L241.1,213.3L243.0,195.2L244.8,201.8L246.7,207.3L248.6,202.7L250.5,205.7L252.3,208.2L254.2,200.6L256.1,206.3L257.9,212.0L259.8,207.4L261.7,204.3L263.5,210.0L265.4,196.0L267.3,210.0L269.2,193.1L271.0,198.2L272.9,209.1L274.8,202.7L276.6,196.4L278.5,204.6L280.4,210.6L282.2,202.8L284.1,191.6L286.0,212.3L287.9,200.1L289.7,203.4L291.6,204.1L293.5,205.7L295.3,205.3L297.2,197.2L299.1,199.8L300.9,209.3L302.8,194.0L304.7,211.1L306.6,199.4L308.4,202.2L310.3,196.1L312.2,201.2L314.0,197.0L315.9,203.4L317.8,197.4L319.6,201.2L321.5,190.4L323.4,207.4L325.2,196.1L327.1,200.4L329.0,202.1L330.9,206.5L332.7,200.5L334.6,211.9L336.5,211.3L338.3,198.9L340.2,212.4L342.1,194.5L343.9,204.7L345.8,201.6L347.7,202.6L349.6,200.6L351.4,204.7L353.3,205.2L355.2,203.8L357.0,196.8L358.9,196.3L360.8,195.4L362.6,200.8L364.5,204.2L366.4,213.0L368.3,199.1L370.1,197.9L372.0,205.4L373.9,198.1L375.7,195.2L377.6,202.4L379.5,196.6L381.3,201.1L383.2,213.2L385.1,205.7L387.0,205.3L388.8,199.7L390.7,208.0L392.6,205.5L394.4,208.6L396.3,203.1L398.2,202.4L400.0,197.0" stroke="#00FF00" stroke-width="1.6" fill="none" stroke-linecap="square" stroke-linejoin="round"/><path d="M82.2,198.8L84.0,202.6L85.9,202.1L87.8,202.9L89.7,202.9L91.5,194.3L93.4,218.4L95.3,204.6L97.1,201.7L99.0,196.8L100.9,210.1L102.7,201.5L104.6,198.4L106.5,206.2L108.4,214.9L110.2,205.7L112.1,210.7L114.0,199.6L115.8,208.6L117.7,192.9L119.6,202.7L121.4,208.3L123.3,206.5L125.2,210.0L127.0,201.2L128.9,194.6L130.8,204.8L132.7,198.0L134.5,209.2L136.4,201.7L138.3,189.8L140.1,211.9L142.0,196.2L143.9,196.5L145.7,214.7L147.6,212.1L149.5,209.4L151.4,197.8L153.2,206.1L155.1,204.5L157.0,199.3L158.8,202.8L160.7,202.2L162.6,205.4L164.4,196.8L166.3,208.2L168.2,193.5L170.1,205.6L171.9,208.3L173.8,199.7L175.7,200.8L177.5,215.4L179.4,202.2L181.3,211.6L183.1,208.5L185.0,198.9L186.9,208.7L188.8,201.4L190.6,205.8L192.5,192.0L194.4,204.1L196.2,210.6L198.1,210.1L200.0,209.0L201.8,202.8L203.7,203.6L205.6,197.8L207.5,202.6L209.3,202.8L211.2,201.7L213.1,204.4L214.9,201.8L216.8,198.9L218.7,198.9L220.5,206.8L222.4,214.1L224.3,208.4L226.1,201.9L228.0,218.4L229.9,206.4L231.8,200.9L233.6,207.0L235.5,210.3L237.4,193.2L239.2,195.4L241.1,205.2L243.0,195.7L244.8,195.9L246.7,210.4L248.6,187.6L250.5,209.2L252.3,205.2L254.2,210.2L256.1,203.2L257.9,211.5L259.8,203.6L261.7,197.1L263.5,202.3L265.4,205.2L267.3,194.4L269.2,208.9L271.0,197.8L272.9,205.4L274.8,202.3L276.6,203.4L278.5,202.8L280.4,203.9L282.2,208.2L284.1,206.9L286.0,200.9L287.9,204.2L289.7,210.4L291.6,207.7L293.5,207.6L295.3,203.8L297.2,202.4L299.1,202.9L300.9,207.4L302.8,203.4L304.7,211.6L306.6,220.7L308.4,203.8L310.3,213.3L312.2,209.1L314.0,210.6L315.9,199.7L317.8,210.7L319.6,201.8L321.5,206.4L323.4,210.8L325.2,212.8L327.1,200.7L329.0,201.1L330.9,198.8L332.7,192.5L334.6,201.8L336.5,201.7L338.3,204.2L340.2,202.8L342.1,205.5L343.9,208.7L345.8,191.5L347.7,214.5L349.6,201.9L351.4,200.8L353.3,202.5L355.2,209.1L357.0,204.5L358.9,206.1L360.8,209.8L362.6,203.7L364.5,205.8L366.4,206.7L368.3,199.3L370.1,209.7L372.0,200.7L373.9,207.0L375.7,200.8L377.6,202.9L379.5,201.9L381.3,209.2L383.2,208.0L385.1,208.4L387.0,202.3L388.8,198.9L390.7,196.9L392.6,206.3L394.4,202.8L396.3,212.9L398.2,216.5L400.0,208.5" stroke="#00FF00" stroke-width="1.6" fill="none" stroke-linecap="square" stroke-linejoin="round"/><path d="M82.2,208.0L84.0,213.3L85.9,214.6L87.8,200.9L89.7,208.8L91.5,214.1L93.4,190.2L95.3,203.0L97.1,206.0L99.0,200.0L100.9,208.6L102.7,194.6L104.6,213.2L106.5,211.9L108.4,204.9L110.2,208.7L112.1,195.7L114.0,213.7L115.8,208.5L117.7,202.7L119.6,200.8L121.4,198.2L123.3,202.1L125.2,191.1L127.0,207.0L128.9,203.1L130.8,199.1L132.7,206.1L134.5,205.9L136.4,206.9L138.3,208.0L140.1,210.9L142.0,207.5L143.9,213.4L145.7,202.0L147.6,213.7L149.5,191.9L151.4,194.1L153.2,197.7L155.1,205.5L157.0,207.7L158.8,197.0L160.7,203.2L162.6,200.9L164.4,208.5L166.3,197.9L168.2,209.0L170.1,203.6L171.9,214.5L173.8,208.2L175.7,201.3L177.5,206.9L179.4,206.9L181.3,199.6L183.1,204.7L185.0,196.9L186.9,218.6L188.8,200.9L190.6,201.3L192.5,213.5L194.4,212.0L196.2,199.1L198.1,210.6L200.0,208.1L201.8,200.7L203.7,206.3L205.6,201.5L207.5,209.5L209.3,202.5L211.2,197.9L213.1,202.4L214.9,217.3L216.8,200.4L218.7,204.0L220.5,209.7L222.4,196.0L224.3,214.7L226.1,193.2L228.0,208.1L229.9,195.0L231.8,204.6L233.6,212.2L235.5,203.7L237.4,202.3L239.2,201.1L241.1,198.0L243.0,209.6L244.8,201.4L246.7,199.9L248.6,205.9L250.5,209.9L252.3,210.0L254.2,199.8L256.1,199.5L257.9,209.2L259.8,212.2L261.7,196.9L263.5,213.5L265.4,203.3L267.3,209.0L269.2,214.7L271.0,203.5L272.9,205.3L274.8,195.7L276.6,190.7L278.5,205.3L280.4,198.1L282.2,198.0L284.1,207.3L286.0,209.3L287.9,194.6L289.7,206.3L291.6,204.3L293.5,205.8L295.3,204.9L297.2,207.7L299.1,199.6L300.9,196.6L302.8,206.3L304.7,212.3L306.6,203.8L308.4,212.9L310.3,207.8L312.2,196.7L314.0,190.2L315.9,201.8L317.8,210.3L319.6,199.4L321.5,217.3L323.4,208.1L325.2,194.9L327.1,199.5L329.0,212.1L330.9,213.8L332.7,198.9L334.6,204.2L336.5,207.4L338.3,201.5L340.2,207.3L342.1,215.3L343.9,199.1L345.8,207.7L347.7,209.8L349.6,211.8L351.4,202.4L353.3,208.6L355.2,200.1L357.0,205.4L358.9,197.4L360.8,206.1L362.6,207.7L364.5,215.5L366.4,210.3L368.3,199.5L370.1,185.6L372.0,211.2L373.9,209.9L375.7,201.7L377.6,200.9L379.5,207.7L381.3,203.2L383.2,213.2L385.1,205.4L387.0,198.3L388.8,194.0L390.7,204.6L392.6,205.2L394.4,200.9L396.3,197.0L398.2,200.7L400.0,208.0" stroke="#00FF00" stroke-width="1.6" fill="none" stroke-linecap="square" stroke-linejoin="round"/><path d="M82.2,202.2L84.0,198.6L85.9,208.5L87.8,212.2L89.7,201.3L91.5,202.1L93.4,198.6L95.3,203.8L97.1,208.1L99.0,206.9L100.9,210.4L102.7,209.9L104.6,207.6L106.5,207.2L108.4,197.7L110.2,211.6L112.1,204.6L114.0,207.8L115.8,195.5L117.7,202.7L119.6,206.5L121.4,199.5L123.3,203.9L125.2,207.1L127.0,195.2L128.9,200.1L130.8,194.0L132.7,197.4L134.5,199.7L136.4,203.5L138.3,210.7L140.1,200.1L142.0,203.8L143.9,200.3L145.7,204.3L147.6,208.4L149.5,210.2L151.4,200.1L153.2,196.6L155.1,206.0L157.0,201.6L158.8,196.1L160.7,209.2L162.6,206.3L164.4,210.9L166.3,197.3L168.2,202.7L170.1,207.0L171.9,214.1L173.8,205.3L175.7,198.3L177.5,206.0L179.4,206.8L181.3,200.4L183.1,211.5L185.0,203.9L186.9,200.7L188.8,208.8L190.6,209.1L192.5,202.8L194.4,204.8L196.2,205.6L198.1,203.0L200.0,202.9L201.8,209.7L203.7,208.2L205.6,201.6L207.5,197.6L209.3,196.2L211.2,209.2L213.1,197.7L214.9,199.7L216.8,204.4L218.7,201.3L220.5,199.3L222.4,193.6L224.3,210.4L226.1,200.6L228.0,205.0L229.9,205.4L231.8,197.4L233.6,199.4L235.5,210.2L237.4,205.9L239.2,202.8L241.1,212.5L243.0,199.1L244.8,204.6L246.7,203.2L248.6,202.2L250.5,193.5L252.3,204.0L254.2,206.3L256.1,193.9L257.9,207.1L259.8,207.2L261.7,212.3L263.5,197.7L265.4,202.5L267.3,201.3L269.2,203.1L271.0,204.9L272.9,208.7L274.8,208.7L276.6,201.5L278.5,203.3L280.4,194.4L282.2,208.5L284.1,206.9L286.0,210.0L287.9,195.8L289.7,211.2L291.6,199.4L293.5,195.5L295.3,204.8L297.2,199.7L299.1,216.5L300.9,206.2L302.8,213.7L304.7,202.9L306.6,203.8L308.4,208.4L310.3,198.3L312.2,201.8L314.0,206.9L315.9,206.9L317.8,212.5L319.6,204.9L321.5,191.3L323.4,208.0L325.2,201.3L327.1,207.0L329.0,199.0L330.9,201.2L332.7,205.1L334.6,214.2L336.5,206.8L338.3,196.6L340.2,205.1L342.1,200.0L343.9,206.5L345.8,214.7L347.7,201.2L349.6,201.8L351.4,207.1L353.3,205.8L355.2,201.9L357.0,207.1L358.9,201.6L360.8,204.8L362.6,217.5L364.5,204.4L366.4,207.1L368.3,208.5L370.1,201.2L372.0,206.4L373.9,200.4L375.7,197.1L377.6,202.7L379.5,212.6L381.3,207.8L383.2,198.1L385.1,205.0L387.0,208.2L388.8,204.0L390.7,200.5L392.6,201.9L394.4,199.6L396.3,208.3L398.2,205.0L400.0,204.9" stroke="#00FF00" stroke-width="1.6" fill="none" stroke-linecap="square" stroke-linejoin="round"/><path d="M82.2,204.2L84.0,216.5L85.9,205.5L87.8,212.0L89.7,195.9L91.5,194.9L93.4,194.2L95.3,199.3L97.1,207.0L99.0,198.5L100.9,205.3L102.7,200.5L104.6,209.4L106.5,207.6L108.4,201.4L110.2,193.7L112.1,204.2L114.0,190.8L115.8,187.9L117.7,211.7L119.6,204.3L121.4,209.7L123.3,204.9L125.2,207.2L127.0,204.5L128.9,198.4L130.8,198.6L132.7,202.6L134.5,204.1L136.4,203.4L138.3,203.3L140.1,200.7L142.0,204.1L143.9,201.1L145.7,211.8L147.6,199.4L149.5,193.8L151.4,203.0L153.2,212.4L155.1,196.1L157.0,206.0L158.8,221.7L160.7,205.4L162.6,200.5L164.4,201.8L166.3,196.8L168.2,200.4L170.1,203.3L171.9,215.7L173.8,210.6L175.7,203.0L177.5,200.1L179.4,210.1L181.3,207.7L183.1,201.3L185.0,215.3L186.9,215.6L188.8,205.4L190.6,202.6L192.5,206.9L194.4,217.6L196.2,203.9L198.1,211.9L200.0,200.2L201.8,204.7L203.7,202.5L205.6,200.3L207.5,207.2L209.3,199.2L211.2,196.7L213.1,201.7L214.9,196.2L216.8,207.8L218.7,198.7L220.5,202.5L222.4,209.9L224.3,204.5L226.1,207.2L228.0,207.3L229.9,203.5L231.8,197.8L233.6,205.9L235.5,203.3L237.4,212.7L239.2,203.4L241.1,197.2L243.0,199.3L244.8,201.3L246.7,207.2L248.6,209.8L250.5,204.6L252.3,212.0L254.2,211.3L256.1,198.5L257.9,209.4L259.8,193.4L261.7,212.4L263.5,201.5L265.4,210.9L267.3,202.9L269.2,210.1L271.0,203.7L272.9,204.9L274.8,206.6L276.6,200.9L278.5,195.0L280.4,207.4L282.2,198.7L284.1,203.4L286.0,204.1L287.9,190.9L289.7,216.7L291.6,207.9L293.5,214.5L295.3,205.7L297.2,205.2L299.1,181.3L300.9,201.8L302.8,193.2L304.7,196.1L306.6,206.4L308.4,200.9L310.3,193.9L312.2,202.7L314.0,202.5L315.9,200.8L317.8,212.6L319.6,208.5L321.5,201.7L323.4,200.5L325.2,209.1L327.1,205.6L329.0,204.4L330.9,204.6L332.7,199.6L334.6,203.0L336.5,202.7L338.3,212.0L340.2,209.9L342.1,201.7L343.9,213.0L345.8,202.0L347.7,207.5L349.6,208.4L351.4,199.8L353.3,207.6L355.2,208.6L357.0,207.6L358.9,203.2L360.8,187.3L362.6,216.1L364.5,203.7L366.4,205.0L368.3,197.9L370.1,205.7L372.0,218.1L373.9,195.7L375.7,210.0L377.6,203.8L379.5,211.6L381.3,210.0L383.2,206.4L385.1,198.4L387.0,198.5L388.8,207.0L390.7,200.5L392.6,205.6L394.4,202.8L396.3,202.5L398.2,199.7L400.0,207.1" stroke="#00FF00" stroke-width="1.6" fill="none" stroke-linecap="square" stroke-linejoin="round"/><path d="M82.2,204.9L84.0,202.8L85.9,203.6L87.8,208.9L89.7,193.9L91.5,206.9L93.4,199.7L95.3,202.9L97.1,196.9L99.0,217.1L100.9,192.0L102.7,205.4L104.6,211.5L106.5,203.4L108.4,190.8L110.2,201.2L112.1,211.5L114.0,206.9L115.8,196.3L117.7,212.5L119.6,205.2L121.4,205.9L123.3,191.3L125.2,205.9L127.0,196.4L128.9,208.2L130.8,208.9L132.7,198.2L134.5,200.5L136.4,214.4L138.3,200.4L140.1,200.4L142.0,207.8L143.9,202.9L145.7,202.6L147.6,207.1L149.5,207.6L151.4,208.2L153.2,205.8L155.1,212.1L157.0,204.4L158.8,213.0L160.7,203.7L162.6,204.7L164.4,210.3L166.3,199.1L168.2,192.7L170.1,196.3L171.9,212.3L173.8,196.6L175.7,202.9L177.5,204.5L179.4,207.7L181.3,204.2L183.1,196.0L185.0,201.0L186.9,206.6L188.8,208.2L190.6,206.7L192.5,200.7L194.4,193.1L196.2,210.5L198.1,204.2L200.0,206.5L201.8,208.6L203.7,201.8L205.6,200.9L207.5,212.6L209.3,210.3L211.2,197.1L213.1,202.3L214.9,201.1L216.8,207.2L218.7,206.4L220.5,201.5L222.4,207.1L224.3,210.8L226.1,204.2L228.0,198.8L229.9,210.3L231.8,197.9L233.6,200.0L235.5,209.3L237.4,204.2L239.2,204.4L241.1,200.5L243.0,200.3L244.8,211.9L246.7,212.2L248.6,198.1L250.5,203.5L252.3,201.7L254.2,202.2L256.1,195.1L257.9,211.3L259.8,197.7L261.7,209.0L263.5,199.8L265.4,196.2L267.3,212.3L269.2,201.7L271.0,205.7L272.9,205.8L274.8,203.8L276.6,210.3L278.5,209.7L280.4,200.2L282.2,199.1L284.1,207.4L286.0,212.6L287.9,190.4L289.7,197.5L291.6,201.9L293.5,210.1L295.3,207.4L297.2,202.5L299.1,209.6L300.9,194.5L302.8,203.1L304.7,201.6L306.6,210.0L308.4,209.3L310.3,208.5L312.2,202.3L314.0,205.4L315.9,205.6L317.8,202.0L319.6,202.5L321.5,195.1L323.4,205.0L325.2,209.8L327.1,203.9L329.0,195.2L330.9,207.1L332.7,203.5L334.6,205.9L336.5,201.4L338.3,202.3L340.2,208.5L342.1,205.1L343.9,198.2L345.8,197.3L347.7,198.3L349.6,198.6L351.4,205.7L353.3,205.8L355.2,198.2L357.0,210.5L358.9,204.0L360.8,214.5L362.6,205.9L364.5,207.8L366.4,210.7L368.3,200.2L370.1,207.9L372.0,205.8L373.9,205.1L375.7,207.9L377.6,195.2L379.5,206.5L381.3,202.4L383.2,211.2L385.1,206.3L387.0,205.4L388.8,205.3L390.7,206.9L392.6,202.7L394.4,194.4L396.3,204.3L398.2,204.3L400.0,205.7" stroke="#00FF00" stroke-width="1.6" fill="none" stroke-linecap="square" stroke-linejoin="round"/><path d="M82.2,189.3L84.0,194.7L85.9,200.9L87.8,200.1L89.7,208.3L91.5,205.1L93.4,202.9L95.3,203.5L97.1,209.2L99.0,208.7L100.9,201.2L102.7,202.4L104.6,216.5L106.5,203.6L108.4,196.7L110.2,208.0L112.1,202.8L114.0,212.7L115.8,199.3L117.7,210.7L119.6,211.5L121.4,206.0L123.3,190.3L125.2,207.7L127.0,211.6L128.9,201.5L130.8,202.8L132.7,194.5L134.5,211.6L136.4,213.5L138.3,206.0L140.1,202.0L142.0,202.1L143.9,197.8L145.7,212.9L147.6,209.0L149.5,204.9L151.4,199.3L153.2,201.4L155.1,206.6L157.0,210.1L158.8,199.0L160.7,198.6L162.6,188.3L164.4,205.2L166.3,194.7L168.2,211.2L170.1,207.3L171.9,208.1L173.8,206.9L175.7,209.3L177.5,207.3L179.4,204.5L181.3,206.8L183.1,200.3L185.0,204.7L186.9,204.2L188.8,195.6L190.6,202.3L192.5,203.3L194.4,204.3L196.2,203.8L198.1,200.8L200.0,208.9L201.8,197.5L203.7,195.0L205.6,197.4L207.5,207.0L209.3,213.5L211.2,206.7L213.1,203.3L214.9,199.3L216.8,205.2L218.7,205.9L220.5,195.3L222.4,208.1L224.3,197.9L226.1,198.9L228.0,211.9L229.9,202.5L231.8,207.4L233.6,209.7L235.5,215.0L237.4,213.3L239.2,201.7L241.1,206.4L243.0,202.6L244.8,210.4L246.7,206.0L248.6,205.8L250.5,213.2L252.3,213.9L254.2,201.6L256.1,203.3L257.9,209.6L259.8,204.7L261.7,200.2L263.5,193.4L265.4,209.3L267.3,200.5L269.2,191.7L271.0,203.7L272.9,195.5L274.8,219.2L276.6,195.6L278.5,204.1L280.4,215.0L282.2,199.5L284.1,197.9L286.0,196.9L287.9,197.0L289.7,204.1L291.6,208.3L293.5,206.7L295.3,204.2L297.2,201.6L299.1,206.7L300.9,203.6L302.8,198.8L304.7,202.0L306.6,190.5L308.4,191.3L310.3,210.6L312.2,207.2L314.0,211.5L315.9,210.7L317.8,200.6L319.6,209.6L321.5,209.9L323.4,205.4L325.2,199.1L327.1,205.9L329.0,205.9L330.9,198.4L332.7,201.0L334.6,201.1L336.5,198.2L338.3,209.7L340.2,202.5L342.1,207.4L343.9,197.7L345.8,198.9L347.7,209.8L349.6,195.8L351.4,210.5L353.3,196.8L355.2,202.5L357.0,208.8L358.9,210.2L360.8,205.4L362.6,203.8L364.5,207.8L366.4,200.3L368.3,211.8L370.1,203.6L372.0,203.6L373.9,214.5L375.7,201.7L377.6,211.0L379.5,218.2L381.3,207.1L383.2,204.9L385.1,198.2L387.0,206.4L388.8,194.8L390.7,195.0L392.6,197.1L394.4,195.7L396.3,201.4L398.2,206.7L400.0,199.6" stroke="#00FF00" stroke-width="1.6" fill="none" stroke-linecap="square" stroke-linejoin="round"/><path d="M82.2,197.1L84.0,201.9L85.9,204.6L87.8,212.2L89.7,199.7L91.5,201.6L93.4,212.4L95.3,205.5L97.1,200.0L99.0,204.3L100.9,199.3L102.7,199.8L104.6,213.1L106.5,206.0L108.4,202.5L110.2,199.9L112.1,195.1L114.0,214.5L115.8,202.7L117.7,198.6L119.6,195.3L121.4,193.7L123.3,208.4L125.2,206.2L127.0,210.2L128.9,199.1L130.8,209.9L132.7,196.6L134.5,198.2L136.4,200.9L138.3,215.1L140.1,207.0L142.0,198.3L143.9,210.0L145.7,203.5L147.6,200.4L149.5,196.3L151.4,201.5L153.2,201.5L155.1,206.2L157.0,204.1L158.8,204.8L160.7,198.8L162.6,204.9L164.4,198.7L166.3,212.4L168.2,197.3L170.1,204.6L171.9,196.5L173.8,204.3L175.7,198.9L177.5,192.9L179.4,204.6L181.3,200.3L183.1,201.4L185.0,201.2L186.9,212.5L188.8,204.9L190.6,206.0L192.5,207.8L194.4,205.1L196.2,211.5L198.1,194.3L200.0,198.0L201.8,191.0L203.7,207.7L205.6,210.9L207.5,202.9L209.3,212.4L211.2,202.1L213.1,208.5L214.9,204.4L216.8,201.9L218.7,203.1L220.5,193.5L222.4,200.0L224.3,210.2L226.1,197.2L228.0,210.3L229.9,204.0L231.8,210.8L233.6,209.2L235.5,198.1L237.4,207.9L239.2,207.9L241.1,206.4L243.0,205.7L244.8,196.0L246.7,212.4L248.6,212.9L250.5,202.7L252.3,215.9L254.2,208.8L256.1,201.8L257.9,207.8L259.8,210.7L261.7,210.4L263.5,212.5L265.4,209.1L267.3,204.5L269.2,199.3L271.0,200.3L272.9,209.3L274.8,212.4L276.6,203.2L278.5,217.8L280.4,211.4L282.2,211.1L284.1,214.9L286.0,214.3L287.9,208.0L289.7,218.4L291.6,213.3L293.5,212.4L295.3,208.5L297.2,215.0L299.1,203.3L300.9,209.7L302.8,211.2L304.7,211.7L306.6,213.6L308.4,215.1L310.3,205.4L312.2,208.5L314.0,210.4L315.9,206.0L317.8,212.2L319.6,207.6L321.5,208.5L323.4,214.5L325.2,205.6L327.1,218.2L329.0,207.3L330.9,214.3L332.7,209.9L334.6,205.3L336.5,208.4L338.3,214.4L340.2,211.4L342.1,212.6L343.9,218.4L345.8,216.9L347.7,211.0L349.6,208.2L351.4,221.5L353.3,212.0L355.2,210.9L357.0,212.6L358.9,220.2L360.8,208.0L362.6,220.8L364.5,210.4L366.4,204.8L368.3,226.9L370.1,213.3L372.0,213.3L373.9,213.3L375.7,220.0L377.6,219.2L379.5,224.6L381.3,215.2L383.2,214.0L385.1,222.6L387.0,222.6L388.8,221.0L390.7,218.1L392.6,217.2L394.4,220.3L396.3,218.9L398.2,228.3L400.0,237.4" stroke="#FF0000" stroke-width="1.6" fill="none" stroke-linecap="square" stroke-linejoin="round"/><path d="M82.2,199.6L84.0,195.3L85.9,211.8L87.8,207.3L89.7,202.3L91.5,198.5L93.4,201.4L95.3,199.0L97.1,204.9L99.0,201.6L100.9,201.8L102.7,207.1L104.6,197.9L106.5,201.0L108.4,200.0L110.2,207.9L112.1,197.7L114.0,209.8L115.8,200.5L117.7,218.3L119.6,208.6L121.4,199.7L123.3,205.9L125.2,203.5L127.0,213.8L128.9,195.4L130.8,199.1L132.7,204.0L134.5,201.7L136.4,202.2L138.3,194.7L140.1,202.2L142.0,211.5L143.9,203.6L145.7,195.1L147.6,197.0L149.5,204.3L151.4,200.1L153.2,202.8L155.1,200.6L157.0,213.6L158.8,209.5L160.7,199.6L162.6,205.5L164.4,203.1L166.3,191.8L168.2,206.4L170.1,202.6L171.9,206.6L173.8,208.7L175.7,204.7L177.5,210.2L179.4,213.8L181.3,193.4L183.1,201.4L185.0,196.4L186.9,203.0L188.8,203.5L190.6,201.2L192.5,199.6L194.4,211.2L196.2,196.3L198.1,208.2L200.0,199.8L201.8,187.7L203.7,202.7L205.6,195.3L207.5,206.9L209.3,199.9L211.2,203.5L213.1,202.5L214.9,207.6L216.8,208.9L218.7,201.9L220.5,213.3L222.4,208.7L224.3,199.6L226.1,206.5L228.0,208.1L229.9,211.1L231.8,203.3L233.6,206.9L235.5,205.1L237.4,206.2L239.2,194.3L241.1,206.0L243.0,215.2L244.8,203.9L246.7,206.1L248.6,205.4L250.5,215.2L252.3,201.0L254.2,207.2L256.1,208.8L257.9,216.9L259.8,205.7L261.7,207.2L263.5,200.2L265.4,208.4L267.3,212.4L269.2,205.9L271.0,211.0L272.9,204.2L274.8,214.5L276.6,208.0L278.5,209.4L280.4,209.5L282.2,212.4L284.1,213.5L286.0,209.7L287.9,213.1L289.7,209.2L291.6,210.2L293.5,220.7L295.3,209.5L297.2,201.3L299.1,207.5L300.9,205.5L302.8,207.9L304.7,212.4L306.6,217.0L308.4,206.6L310.3,206.2L312.2,207.0L314.0,208.1L315.9,209.0L317.8,209.1L319.6,209.5L321.5,208.7L323.4,208.8L325.2,214.1L327.1,214.0L329.0,208.0L330.9,211.6L332.7,224.3L334.6,212.0L336.5,223.2L338.3,201.5L340.2,207.7L342.1,207.3L343.9,215.7L345.8,217.0L347.7,212.5L349.6,211.2L351.4,216.0L353.3,210.9L355.2,210.1L357.0,210.0L358.9,220.3L360.8,226.2L362.6,213.8L364.5,218.0L366.4,211.7L368.3,205.4L370.1,205.3L372.0,213.5L373.9,208.2L375.7,205.6L377.6,217.1L379.5,214.4L381.3,210.9L383.2,217.6L385.1,221.5L387.0,221.4L388.8,217.9L390.7,221.9L392.6,212.6L394.4,221.7L396.3,210.1L398.2,212.0L400.0,227.3" stroke="#FF0000" stroke-width="1.6" fill="none" stroke-linecap="square" stroke-linejoin="round"/><path d="M82.2,196.9L84.0,205.9L85.9,195.7L87.8,200.4L89.7,204.3L91.5,200.2L93.4,208.2L95.3,204.5L97.1,202.3L99.0,204.7L100.9,201.9L102.7,210.1L104.6,201.6L106.5,211.3L108.4,202.1L110.2,202.8L112.1,199.5L114.0,206.7L115.8,185.5L117.7,204.3L119.6,201.8L121.4,208.0L123.3,195.1L125.2,206.9L127.0,198.7L128.9,209.4L130.8,200.6L132.7,205.7L134.5,198.7L136.4,205.5L138.3,207.5L140.1,200.7L142.0,209.4L143.9,207.3L145.7,198.0L147.6,210.4L149.5,197.4L151.4,205.5L153.2,208.3L155.1,202.5L157.0,200.7L158.8,207.4L160.7,204.1L162.6,199.5L164.4,200.6L166.3,203.0L168.2,208.5L170.1,208.9L171.9,206.4L173.8,201.1L175.7,200.7L177.5,199.9L179.4,193.8L181.3,202.5L183.1,202.6L185.0,204.6L186.9,192.8L188.8,215.2L190.6,203.0L192.5,200.9L194.4,203.7L196.2,190.0L198.1,195.9L200.0,196.3L201.8,206.6L203.7,200.0L205.6,206.3L207.5,204.3L209.3,201.8L211.2,206.0L213.1,201.0L214.9,193.6L216.8,197.6L218.7,202.1L220.5,214.5L222.4,197.7L224.3,196.9L226.1,203.7L228.0,205.2L229.9,200.9L231.8,208.1L233.6,200.1L235.5,211.2L237.4,209.6L239.2,204.1L241.1,211.0L243.0,203.8L244.8,201.2L246.7,212.7L248.6,200.8L250.5,208.8L252.3,203.8L254.2,205.4L256.1,210.5L257.9,210.4L259.8,216.9L261.7,210.0L263.5,211.3L265.4,196.8L267.3,199.7L269.2,213.4L271.0,201.2L272.9,204.8L274.8,210.2L276.6,204.4L278.5,203.6L280.4,211.8L282.2,210.5L284.1,207.9L286.0,213.8L287.9,208.7L289.7,209.9L291.6,211.7L293.5,212.9L295.3,207.2L297.2,203.6L299.1,207.0L300.9,212.0L302.8,206.2L304.7,208.8L306.6,207.3L308.4,204.7L310.3,214.9L312.2,209.9L314.0,212.3L315.9,214.4L317.8,199.4L319.6,206.0L321.5,216.5L323.4,207.9L325.2,211.6L327.1,205.0L329.0,209.9L330.9,210.3L332.7,211.0L334.6,210.2L336.5,210.9L338.3,211.9L340.2,211.6L342.1,207.7L343.9,217.4L345.8,210.5L347.7,211.5L349.6,213.3L351.4,207.4L353.3,218.0L355.2,215.3L357.0,217.4L358.9,211.0L360.8,216.1L362.6,213.0L364.5,211.6L366.4,222.7L368.3,211.8L370.1,218.6L372.0,216.1L373.9,214.8L375.7,210.2L377.6,212.5L379.5,205.1L381.3,214.4L383.2,219.6L385.1,220.9L387.0,212.3L388.8,207.7L390.7,215.4L392.6,220.5L394.4,217.3L396.3,217.2L398.2,218.9L400.0,223.4" stroke="#FF0000" stroke-width="1.6" fill="none" stroke-linecap="square" stroke-linejoin="round"/><path d="M82.2,216.7L84.0,206.1L85.9,197.1L87.8,201.7L89.7,215.8L91.5,203.5L93.4,214.9L95.3,194.8L97.1,203.0L99.0,210.1L100.9,199.3L102.7,208.4L104.6,201.2L106.5,203.9L108.4,211.7L110.2,201.4L112.1,210.5L114.0,195.8L115.8,201.8L117.7,208.3L119.6,212.2L121.4,194.5L123.3,194.8L125.2,210.8L127.0,194.8L128.9,202.8L130.8,203.2L132.7,203.7L134.5,205.0L136.4,195.7L138.3,201.5L140.1,213.0L142.0,191.0L143.9,196.8L145.7,207.9L147.6,201.6L149.5,206.2L151.4,202.7L153.2,200.8L155.1,202.2L157.0,207.2L158.8,208.2L160.7,198.2L162.6,204.2L164.4,192.2L166.3,206.8L168.2,199.7L170.1,203.2L171.9,207.0L173.8,197.2L175.7,203.0L177.5,206.2L179.4,202.9L181.3,195.1L183.1,206.9L185.0,194.7L186.9,199.4L188.8,205.2L190.6,197.1L192.5,193.6L194.4,200.6L196.2,201.6L198.1,192.1L200.0,192.3L201.8,206.5L203.7,203.7L205.6,205.3L207.5,206.6L209.3,210.8L211.2,198.3L213.1,203.8L214.9,201.7L216.8,195.5L218.7,206.2L220.5,204.2L222.4,202.0L224.3,205.0L226.1,203.1L228.0,198.4L229.9,204.4L231.8,196.4L233.6,208.3L235.5,204.2L237.4,212.2L239.2,204.7L241.1,206.8L243.0,196.4L244.8,200.0L246.7,202.9L248.6,195.8L250.5,198.0L252.3,202.9L254.2,210.2L256.1,215.7L257.9,207.7L259.8,209.7L261.7,209.7L263.5,208.7L265.4,214.3L267.3,197.1L269.2,212.1L271.0,209.0L272.9,202.9L274.8,216.7L276.6,202.0L278.5,202.8L280.4,210.4L282.2,214.6L284.1,211.2L286.0,218.2L287.9,202.6L289.7,209.2L291.6,211.9L293.5,213.3L295.3,205.9L297.2,200.5L299.1,214.7L300.9,210.7L302.8,218.1L304.7,206.4L306.6,209.3L308.4,199.5L310.3,211.3L312.2,211.2L314.0,212.8L315.9,206.5L317.8,215.9L319.6,206.9L321.5,207.2L323.4,212.2L325.2,213.3L327.1,205.4L329.0,201.3L330.9,211.6L332.7,209.1L334.6,203.5L336.5,214.1L338.3,212.1L340.2,217.1L342.1,211.0L343.9,212.1L345.8,212.7L347.7,214.7L349.6,219.1L351.4,218.4L353.3,216.5L355.2,209.9L357.0,215.6L358.9,218.7L360.8,209.9L362.6,210.1L364.5,218.0L366.4,217.3L368.3,210.6L370.1,212.2L372.0,219.5L373.9,212.7L375.7,215.0L377.6,210.2L379.5,220.6L381.3,210.2L383.2,214.2L385.1,224.0L387.0,209.8L388.8,211.8L390.7,225.6L392.6,204.7L394.4,226.2L396.3,224.6L398.2,221.1L400.0,213.9" stroke="#FF0000" stroke-width="1.6" fill="none" stroke-linecap="square" stroke-linejoin="round"/><path d="M82.2,199.3L84.0,203.6L85.9,195.2L87.8,200.6L89.7,195.6L91.5,187.5L93.4,203.5L95.3,220.5L97.1,206.6L99.0,209.6L100.9,203.2L102.7,203.5L104.6,211.3L106.5,210.6L108.4,206.6L110.2,206.2L112.1,217.9L114.0,197.6L115.8,202.0L117.7,202.6L119.6,200.5L121.4,209.2L123.3,203.0L125.2,198.0L127.0,197.8L128.9,201.1L130.8,203.6L132.7,207.9L134.5,196.0L136.4,200.5L138.3,204.7L140.1,215.2L142.0,207.4L143.9,212.6L145.7,194.8L147.6,198.6L149.5,205.5L151.4,204.6L153.2,188.1L155.1,196.6L157.0,211.6L158.8,204.6L160.7,209.9L162.6,213.5L164.4,203.5L166.3,188.7L168.2,195.1L170.1,203.2L171.9,205.0L173.8,203.4L175.7,197.8L177.5,209.6L179.4,211.9L181.3,189.9L183.1,198.7L185.0,193.1L186.9,201.7L188.8,195.3L190.6,207.9L192.5,200.3L194.4,195.0L196.2,196.7L198.1,204.7L200.0,195.2L201.8,205.3L203.7,210.7L205.6,201.1L207.5,196.4L209.3,197.9L211.2,210.4L213.1,199.3L214.9,198.4L216.8,205.7L218.7,217.3L220.5,198.1L222.4,198.4L224.3,199.8L226.1,212.4L228.0,211.0L229.9,198.6L231.8,199.0L233.6,201.5L235.5,206.7L237.4,202.3L239.2,207.2L241.1,204.8L243.0,208.7L244.8,202.5L246.7,208.0L248.6,200.3L250.5,201.7L252.3,211.3L254.2,196.1L256.1,214.3L257.9,205.0L259.8,201.6L261.7,199.0L263.5,219.6L265.4,199.9L267.3,198.2L269.2,197.9L271.0,217.9L272.9,209.7L274.8,208.7L276.6,209.2L278.5,200.3L280.4,212.5L282.2,202.5L284.1,205.7L286.0,216.6L287.9,214.8L289.7,212.0L291.6,207.8L293.5,203.6L295.3,209.6L297.2,203.1L299.1,216.6L300.9,223.4L302.8,211.4L304.7,207.3L306.6,211.8L308.4,215.0L310.3,208.6L312.2,199.8L314.0,210.1L315.9,213.9L317.8,212.6L319.6,200.7L321.5,208.5L323.4,206.8L325.2,202.9L327.1,205.0L329.0,215.0L330.9,204.5L332.7,207.3L334.6,209.6L336.5,205.7L338.3,213.8L340.2,211.3L342.1,213.1L343.9,207.5L345.8,214.1L347.7,208.7L349.6,216.8L351.4,211.9L353.3,213.3L355.2,214.0L357.0,212.0L358.9,215.0L360.8,214.8L362.6,225.4L364.5,207.1L366.4,217.5L368.3,215.8L370.1,219.3L372.0,208.5L373.9,219.7L375.7,211.7L377.6,209.5L379.5,205.2L381.3,208.0L383.2,212.8L385.1,225.5L387.0,207.9L388.8,209.7L390.7,212.0L392.6,211.7L394.4,218.5L396.3,222.2L398.2,211.9L400.0,210.3" stroke="#FF0000" stroke-width="1.6" fill="none" stroke-linecap="square" stroke-linejoin="round"/><path d="M82.2,208.8L84.0,197.6L85.9,201.5L87.8,197.6L89.7,201.9L91.5,196.9L93.4,198.5L95.3,200.5L97.1,212.2L99.0,198.5L100.9,203.3L102.7,210.6L104.6,200.1L106.5,212.0L108.4,199.8L110.2,195.0L112.1,206.0L114.0,197.7L115.8,199.4L117.7,198.7L119.6,210.0L121.4,199.7L123.3,201.9L125.2,199.4L127.0,203.7L128.9,197.2L130.8,200.3L132.7,199.2L134.5,195.4L136.4,202.3L138.3,196.3L140.1,201.4L142.0,199.3L143.9,204.5L145.7,197.3L147.6,192.4L149.5,201.6L151.4,198.2L153.2,200.3L155.1,209.7L157.0,201.7L158.8,196.0L160.7,205.5L162.6,213.8L164.4,203.1L166.3,205.9L168.2,192.9L170.1,203.5L171.9,202.7L173.8,208.0L175.7,202.0L177.5,204.3L179.4,206.2L181.3,200.7L183.1,204.7L185.0,194.5L186.9,209.5L188.8,203.9L190.6,208.1L192.5,210.7L194.4,194.2L196.2,214.3L198.1,193.6L200.0,208.1L201.8,200.8L203.7,189.5L205.6,216.0L207.5,211.9L209.3,195.1L211.2,202.0L213.1,207.2L214.9,202.2L216.8,208.4L218.7,202.3L220.5,195.3L222.4,205.4L224.3,201.7L226.1,195.5L228.0,191.1L229.9,207.4L231.8,201.7L233.6,207.2L235.5,208.7L237.4,206.6L239.2,207.4L241.1,212.5L243.0,214.7L244.8,207.8L246.7,204.6L248.6,198.7L250.5,208.5L252.3,207.5L254.2,202.6L256.1,203.6L257.9,208.0L259.8,207.9L261.7,195.6L263.5,208.8L265.4,208.0L267.3,213.9L269.2,203.4L271.0,206.7L272.9,195.2L274.8,209.8L276.6,202.2L278.5,202.5L280.4,199.8L282.2,215.9L284.1,200.3L286.0,208.6L287.9,209.9L289.7,210.9L291.6,210.1L293.5,210.4L295.3,220.4L297.2,205.0L299.1,208.0L300.9,212.5L302.8,209.8L304.7,198.2L306.6,208.0L308.4,211.7L310.3,202.3L312.2,212.8L314.0,210.1L315.9,212.8L317.8,209.4L319.6,206.7L321.5,205.4L323.4,213.2L325.2,209.5L327.1,209.8L329.0,212.1L330.9,209.4L332.7,215.2L334.6,215.7L336.5,210.6L338.3,216.0L340.2,208.5L342.1,211.1L343.9,216.4L345.8,213.6L347.7,213.2L349.6,211.4L351.4,210.4L353.3,212.2L355.2,218.0L357.0,204.6L358.9,208.7L360.8,212.7L362.6,207.6L364.5,211.6L366.4,215.1L368.3,213.7L370.1,198.4L372.0,208.5L373.9,207.7L375.7,217.0L377.6,213.0L379.5,201.5L381.3,212.7L383.2,210.0L385.1,209.9L387.0,212.0L388.8,207.3L390.7,215.8L392.6,213.7L394.4,222.8L396.3,201.6L398.2,216.9L400.0,217.9" stroke="#FF0000" stroke-width="1.6" fill="none" stroke-linecap="square" stroke-linejoin="round"/><path d="M82.2,194.4L84.0,205.7L85.9,202.9L87.8,207.2L89.7,203.2L91.5,205.6L93.4,201.3L95.3,206.4L97.1,207.3L99.0,205.0L100.9,204.2L102.7,206.8L104.6,198.8L106.5,200.0L108.4,204.1L110.2,211.7L112.1,200.0L114.0,210.3L115.8,200.9L117.7,202.2L119.6,205.4L121.4,208.0L123.3,206.6L125.2,192.0L127.0,205.2L128.9,204.7L130.8,196.4L132.7,200.7L134.5,197.3L136.4,210.3L138.3,208.3L140.1,183.8L142.0,202.5L143.9,203.1L145.7,200.8L147.6,193.9L149.5,207.8L151.4,201.2L153.2,202.9L155.1,199.6L157.0,202.8L158.8,206.7L160.7,207.6L162.6,217.2L164.4,198.8L166.3,210.5L168.2,206.1L170.1,193.9L171.9,205.0L173.8,201.0L175.7,204.7L177.5,197.2L179.4,200.9L181.3,203.3L183.1,192.5L185.0,203.6L186.9,210.4L188.8,205.4L190.6,201.2L192.5,209.1L194.4,199.3L196.2,198.1L198.1,190.1L200.0,203.8L201.8,197.7L203.7,211.7L205.6,206.3L207.5,203.6L209.3,200.3L211.2,203.4L213.1,204.6L214.9,205.5L216.8,205.4L218.7,201.3L220.5,200.7L222.4,199.8L224.3,197.0L226.1,195.8L228.0,212.3L229.9,207.1L231.8,204.3L233.6,207.7L235.5,199.4L237.4,200.3L239.2,204.5L241.1,202.2L243.0,196.7L244.8,205.7L246.7,207.2L248.6,200.6L250.5,203.0L252.3,198.8L254.2,204.3L256.1,203.7L257.9,210.4L259.8,212.7L261.7,206.1L263.5,221.4L265.4,203.1L267.3,199.6L269.2,205.5L271.0,206.4L272.9,199.9L274.8,208.2L276.6,201.4L278.5,196.0L280.4,204.9L282.2,204.1L284.1,206.1L286.0,207.4L287.9,208.0L289.7,209.0L291.6,202.7L293.5,216.7L295.3,209.9L297.2,204.4L299.1,212.5L300.9,208.3L302.8,212.9L304.7,207.4L306.6,205.8L308.4,203.0L310.3,208.2L312.2,212.4L314.0,208.3L315.9,207.7L317.8,201.8L319.6,220.2L321.5,206.4L323.4,218.4L325.2,205.4L327.1,208.1L329.0,207.7L330.9,204.9L332.7,209.6L334.6,215.2L336.5,209.1L338.3,204.6L340.2,211.3L342.1,210.0L343.9,217.8L345.8,204.2L347.7,213.4L349.6,214.5L351.4,213.5L353.3,215.7L355.2,214.6L357.0,205.6L358.9,209.4L360.8,205.4L362.6,204.7L364.5,218.6L366.4,210.9L368.3,205.6L370.1,200.8L372.0,222.7L373.9,222.4L375.7,211.9L377.6,218.6L379.5,221.3L381.3,213.0L383.2,221.4L385.1,231.5L387.0,216.2L388.8,216.5L390.7,213.3L392.6,211.0L394.4,217.7L396.3,220.1L398.2,223.2L400.0,229.2" stroke="#FF0000" stroke-width="1.6" fill="none" stroke-linecap="square" stroke-linejoin="round"/><path d="M82.2,205.0L84.0,197.3L85.9,199.2L87.8,191.1L89.7,204.3L91.5,213.5L93.4,199.8L95.3,199.8L97.1,210.6L99.0,212.5L100.9,202.7L102.7,199.9L104.6,210.5L106.5,205.9L108.4,209.4L110.2,211.6L112.1,210.4L114.0,202.3L115.8,204.2L117.7,206.3L119.6,216.8L121.4,193.4L123.3,208.0L125.2,204.6L127.0,210.2L128.9,201.5L130.8,210.4L132.7,202.6L134.5,204.5L136.4,198.3L138.3,208.3L140.1,206.4L142.0,203.7L143.9,189.8L145.7,210.1L147.6,197.9L149.5,204.9L151.4,201.2L153.2,199.2L155.1,202.7L157.0,202.4L158.8,202.2L160.7,206.1L162.6,204.8L164.4,213.7L166.3,204.3L168.2,208.2L170.1,204.8L171.9,198.7L173.8,202.4L175.7,201.0L177.5,195.1L179.4,214.4L181.3,198.1L183.1,200.3L185.0,202.7L186.9,210.3L188.8,200.6L190.6,198.0L192.5,197.4L194.4,204.3L196.2,199.0L198.1,197.0L200.0,190.2L201.8,194.7L203.7,201.8L205.6,203.5L207.5,203.4L209.3,201.5L211.2,205.9L213.1,200.0L214.9,206.0L216.8,207.5L218.7,201.2L220.5,207.0L222.4,204.7L224.3,214.0L226.1,198.1L228.0,202.5L229.9,205.0L231.8,201.0L233.6,203.1L235.5,209.1L237.4,193.6L239.2,206.5L241.1,197.7L243.0,193.8L244.8,207.3L246.7,205.1L248.6,210.2L250.5,200.0L252.3,208.5L254.2,212.5L256.1,200.8L257.9,202.6L259.8,212.6L261.7,199.8L263.5,206.1L265.4,190.8L267.3,195.7L269.2,209.0L271.0,206.8L272.9,210.6L274.8,207.4L276.6,206.5L278.5,203.8L280.4,208.4L282.2,216.7L284.1,212.9L286.0,201.6L287.9,203.7L289.7,210.3L291.6,209.0L293.5,209.6L295.3,208.6L297.2,216.0L299.1,204.2L300.9,211.1L302.8,209.0L304.7,221.7L306.6,208.9L308.4,203.7L310.3,221.2L312.2,202.1L314.0,207.4L315.9,213.8L317.8,215.8L319.6,204.9L321.5,207.1L323.4,207.0L325.2,210.3L327.1,214.3L329.0,206.0L330.9,214.1L332.7,207.2L334.6,220.5L336.5,215.7L338.3,218.2L340.2,204.2L342.1,219.3L343.9,217.6L345.8,207.0L347.7,209.6L349.6,199.0L351.4,201.3L353.3,207.9L355.2,209.6L357.0,222.8L358.9,218.9L360.8,215.4L362.6,214.2L364.5,221.5L366.4,219.1L368.3,219.2L370.1,208.1L372.0,212.1L373.9,216.1L375.7,216.5L377.6,215.1L379.5,219.7L381.3,217.1L383.2,227.2L385.1,213.8L387.0,210.3L388.8,215.2L390.7,214.5L392.6,214.7L394.4,206.2L396.3,217.5L398.2,227.5L400.0,225.5" stroke="#FF0000" stroke-width="1.6" fill="none" stroke-linecap="square" stroke-linejoin="round"/><path d="M82.2,198.6L84.0,197.0L85.9,198.6L87.8,198.1L89.7,202.5L91.5,212.0L93.4,208.7L95.3,216.2L97.1,206.3L99.0,211.2L100.9,203.1L102.7,205.0L104.6,215.4L106.5,199.9L108.4,200.8L110.2,213.0L112.1,202.3L114.0,199.1L115.8,203.8L117.7,197.8L119.6,201.2L121.4,197.3L123.3,201.7L125.2,204.9L127.0,201.0L128.9,199.3L130.8,200.6L132.7,205.9L134.5,208.0L136.4,205.7L138.3,205.6L140.1,201.8L142.0,201.5L143.9,202.1L145.7,202.0L147.6,198.7L149.5,192.5L151.4,196.3L153.2,206.3L155.1,201.2L157.0,205.8L158.8,204.4L160.7,204.3L162.6,207.3L164.4,212.2L166.3,216.3L168.2,203.0L170.1,196.9L171.9,208.0L173.8,201.8L175.7,205.9L177.5,199.8L179.4,205.8L181.3,202.0L183.1,201.0L185.0,215.6L186.9,202.0L188.8,204.6L190.6,218.4L192.5,199.6L194.4,204.1L196.2,201.5L198.1,200.2L200.0,202.8L201.8,207.6L203.7,205.2L205.6,206.6L207.5,192.1L209.3,192.6L211.2,206.0L213.1,206.7L214.9,200.6L216.8,200.1L218.7,207.2L220.5,209.6L222.4,192.8L224.3,196.9L226.1,211.3L228.0,212.5L229.9,209.1L231.8,202.5L233.6,201.4L235.5,207.4L237.4,213.7L239.2,203.0L241.1,199.9L243.0,203.9L244.8,206.9L246.7,202.6L248.6,206.2L250.5,212.1L252.3,206.4L254.2,213.8L256.1,202.8L257.9,205.2L259.8,213.4L261.7,205.2L263.5,200.4L265.4,217.5L267.3,206.0L269.2,197.1L271.0,214.1L272.9,207.0L274.8,216.0L276.6,207.3L278.5,220.7L280.4,217.6L282.2,212.1L284.1,208.2L286.0,207.0L287.9,207.5L289.7,203.7L291.6,204.9L293.5,205.2L295.3,213.8L297.2,208.7L299.1,192.8L300.9,196.8L302.8,205.7L304.7,206.1L306.6,205.4L308.4,212.1L310.3,201.4L312.2,211.1L314.0,210.1L315.9,200.3L317.8,218.5L319.6,208.7L321.5,216.8L323.4,213.2L325.2,209.6L327.1,212.3L329.0,209.6L330.9,213.5L332.7,212.4L334.6,218.4L336.5,213.2L338.3,218.3L340.2,207.6L342.1,217.3L343.9,208.1L345.8,212.9L347.7,212.7L349.6,204.4L351.4,210.8L353.3,222.0L355.2,210.7L357.0,229.4L358.9,212.6L360.8,216.0L362.6,221.6L364.5,213.4L366.4,215.8L368.3,202.6L370.1,217.1L372.0,203.1L373.9,205.9L375.7,218.7L377.6,222.0L379.5,207.5L381.3,216.5L383.2,216.0L385.1,219.7L387.0,224.1L388.8,220.0L390.7,223.8L392.6,227.1L394.4,221.1L396.3,207.3L398.2,208.6L400.0,219.4" stroke="#FF0000" stroke-width="1.6" fill="none" stroke-linecap="square" stroke-linejoin="round"/><path d="M82.2,202.0L84.0,200.3L85.9,195.1L87.8,201.2L89.7,206.5L91.5,206.0L93.4,198.1L95.3,190.7L97.1,207.9L99.0,215.7L100.9,199.1L102.7,204.7L104.6,203.7L106.5,196.9L108.4,204.9L110.2,213.1L112.1,214.8L114.0,203.6L115.8,209.2L117.7,201.1L119.6,209.9L121.4,205.6L123.3,211.6L125.2,206.2L127.0,206.7L128.9,200.4L130.8,194.3L132.7,204.5L134.5,208.7L136.4,192.2L138.3,200.3L140.1,199.5L142.0,199.0L143.9,193.2L145.7,196.2L147.6,195.9L149.5,197.0L151.4,208.2L153.2,206.6L155.1,204.3L157.0,203.5L158.8,203.9L160.7,201.2L162.6,203.7L164.4,207.1L166.3,212.0L168.2,199.3L170.1,200.2L171.9,208.1L173.8,201.8L175.7,201.5L177.5,201.0L179.4,212.0L181.3,207.7L183.1,203.9L185.0,193.0L186.9,208.2L188.8,205.9L190.6,211.0L192.5,206.1L194.4,202.0L196.2,214.7L198.1,218.6L200.0,196.7L201.8,201.5L203.7,206.2L205.6,198.7L207.5,198.9L209.3,215.0L211.2,204.3L213.1,198.1L214.9,206.3L216.8,205.1L218.7,197.9L220.5,205.6L222.4,210.4L224.3,206.7L226.1,210.3L228.0,199.5L229.9,214.4L231.8,198.0L233.6,213.8L235.5,205.2L237.4,213.1L239.2,206.1L241.1,197.4L243.0,197.5L244.8,196.7L246.7,206.2L248.6,205.3L250.5,204.6L252.3,203.4L254.2,208.9L256.1,201.9L257.9,205.9L259.8,201.4L261.7,203.7L263.5,203.4L265.4,209.8L267.3,207.6L269.2,213.5L271.0,207.2L272.9,207.1L274.8,203.6L276.6,213.9L278.5,190.0L280.4,209.6L282.2,202.4L284.1,203.3L286.0,222.5L287.9,211.1L289.7,201.9L291.6,221.2L293.5,204.9L295.3,213.6L297.2,210.3L299.1,207.5L300.9,217.5L302.8,208.8L304.7,213.0L306.6,213.9L308.4,206.7L310.3,193.6L312.2,207.7L314.0,207.0L315.9,210.8L317.8,212.1L319.6,209.2L321.5,201.0L323.4,209.0L325.2,204.7L327.1,211.7L329.0,197.6L330.9,218.1L332.7,208.8L334.6,209.4L336.5,209.8L338.3,216.9L340.2,217.2L342.1,211.7L343.9,211.3L345.8,217.3L347.7,216.9L349.6,207.8L351.4,205.6L353.3,214.6L355.2,217.5L357.0,217.2L358.9,199.8L360.8,210.9L362.6,213.8L364.5,207.9L366.4,200.2L368.3,207.5L370.1,223.2L372.0,215.4L373.9,216.9L375.7,217.2L377.6,224.6L379.5,218.2L381.3,222.6L383.2,214.9L385.1,217.8L387.0,225.5L388.8,228.7L390.7,220.8L392.6,213.0L394.4,216.0L396.3,219.5L398.2,241.4L400.0,222.4" stroke="#FF0000" stroke-width="1.6" fill="none" stroke-linecap="square" stroke-linejoin="round"/><path d="M82.2,207.3L84.0,205.3L85.9,210.5L87.8,205.7L89.7,207.7L91.5,187.6L93.4,200.7L95.3,207.3L97.1,204.6L99.0,204.4L100.9,202.8L102.7,206.7L104.6,204.7L106.5,198.2L108.4,200.4L110.2,203.5L112.1,195.4L114.0,202.1L115.8,208.2L117.7,213.2L119.6,206.6L121.4,204.0L123.3,200.6L125.2,197.8L127.0,207.5L128.9,208.7L130.8,197.7L132.7,196.6L134.5,206.6L136.4,201.8L138.3,194.4L140.1,201.2L142.0,203.0L143.9,214.1L145.7,194.3L147.6,196.1L149.5,200.8L151.4,206.0L153.2,210.5L155.1,204.3L157.0,204.8L158.8,197.6L160.7,210.2L162.6,195.5L164.4,204.5L166.3,195.7L168.2,209.9L170.1,201.6L171.9,195.9L173.8,204.1L175.7,212.5L177.5,203.5L179.4,198.3L181.3,209.0L183.1,208.9L185.0,201.1L186.9,208.8L188.8,200.0L190.6,211.5L192.5,214.0L194.4,208.6L196.2,194.1L198.1,207.3L200.0,200.6L201.8,200.3L203.7,208.3L205.6,198.0L207.5,203.6L209.3,200.4L211.2,213.1L213.1,214.6L214.9,218.4L216.8,204.4L218.7,204.7L220.5,200.0L222.4,195.1L224.3,204.3L226.1,204.3L228.0,200.1L229.9,195.8L231.8,208.5L233.6,200.9L235.5,207.0L237.4,206.7L239.2,199.6L241.1,207.8L243.0,210.1L244.8,200.4L246.7,205.9L248.6,207.4L250.5,206.7L252.3,204.1L254.2,208.8L256.1,203.8L257.9,205.4L259.8,199.5L261.7,199.2L263.5,202.5L265.4,206.9L267.3,204.6L269.2,209.6L271.0,189.5L272.9,207.4L274.8,205.2L276.6,199.4L278.5,215.4L280.4,213.5L282.2,211.4L284.1,214.3L286.0,215.8L287.9,212.5L289.7,202.9L291.6,204.7L293.5,208.8L295.3,208.7L297.2,216.5L299.1,205.1L300.9,205.9L302.8,215.3L304.7,208.7L306.6,211.1L308.4,212.8L310.3,215.7L312.2,212.6L314.0,214.3L315.9,208.3L317.8,206.9L319.6,208.9L321.5,209.4L323.4,212.0L325.2,198.9L327.1,220.0L329.0,204.3L330.9,207.8L332.7,211.5L334.6,214.9L336.5,212.3L338.3,217.3L340.2,218.5L342.1,211.0L343.9,220.9L345.8,206.0L347.7,204.8L349.6,230.1L351.4,220.2L353.3,209.8L355.2,212.3L357.0,212.3L358.9,211.7L360.8,209.3L362.6,208.3L364.5,203.3L366.4,213.8L368.3,209.3L370.1,224.3L372.0,215.6L373.9,221.8L375.7,206.4L377.6,202.4L379.5,212.2L381.3,223.8L383.2,217.7L385.1,217.8L387.0,215.1L388.8,210.5L390.7,211.4L392.6,234.5L394.4,210.2L396.3,222.2L398.2,223.0L400.0,209.5" stroke="#FF0000" stroke-width="1.6" fill="none" stroke-linecap="square" stroke-linejoin="round"/><path d="M82.2,204.3L84.0,211.4L85.9,211.0L87.8,202.7L89.7,198.3L91.5,194.7L93.4,205.8L95.3,208.8L97.1,194.6L99.0,206.3L100.9,195.2L102.7,202.8L104.6,203.0L106.5,205.6L108.4,203.5L110.2,208.0L112.1,207.3L114.0,204.1L115.8,206.1L117.7,200.9L119.6,201.8L121.4,205.1L123.3,204.1L125.2,205.4L127.0,193.8L128.9,203.9L130.8,205.6L132.7,205.1L134.5,199.7L136.4,204.8L138.3,203.3L140.1,204.5L142.0,201.6L143.9,199.4L145.7,199.4L147.6,209.4L149.5,207.7L151.4,218.5L153.2,198.4L155.1,197.2L157.0,196.5L158.8,203.1L160.7,196.3L162.6,204.0L164.4,205.3L166.3,211.5L168.2,208.7L170.1,207.0L171.9,197.6L173.8,195.1L175.7,206.5L177.5,199.3L179.4,199.8L181.3,205.2L183.1,210.4L185.0,206.7L186.9,211.5L188.8,205.7L190.6,205.4L192.5,204.3L194.4,205.0L196.2,199.9L198.1,207.6L200.0,195.4L201.8,211.3L203.7,202.4L205.6,202.0L207.5,209.1L209.3,212.1L211.2,199.7L213.1,208.3L214.9,197.9L216.8,198.9L218.7,203.4L220.5,204.1L222.4,197.9L224.3,200.6L226.1,208.0L228.0,201.7L229.9,201.3L231.8,202.6L233.6,203.3L235.5,206.3L237.4,205.4L239.2,209.6L241.1,211.3L243.0,197.5L244.8,207.7L246.7,204.5L248.6,214.4L250.5,205.0L252.3,211.6L254.2,189.8L256.1,213.9L257.9,213.2L259.8,202.6L261.7,200.0L263.5,219.2L265.4,204.2L267.3,200.2L269.2,213.1L271.0,201.7L272.9,209.0L274.8,213.8L276.6,208.9L278.5,210.4L280.4,216.5L282.2,197.2L284.1,211.3L286.0,213.0L287.9,205.2L289.7,210.0L291.6,201.5L293.5,210.3L295.3,207.0L297.2,207.5L299.1,207.8L300.9,209.1L302.8,210.3L304.7,201.4L306.6,213.5L308.4,212.9L310.3,212.5L312.2,206.6L314.0,207.8L315.9,206.1L317.8,215.1L319.6,209.2L321.5,209.3L323.4,211.4L325.2,208.3L327.1,220.5L329.0,209.0L330.9,208.9L332.7,219.2L334.6,212.8L336.5,203.1L338.3,213.0L340.2,207.9L342.1,211.6L343.9,216.2L345.8,215.7L347.7,213.2L349.6,203.7L351.4,206.9L353.3,215.3L355.2,207.9L357.0,213.7L358.9,218.1L360.8,211.2L362.6,218.7L364.5,223.1L366.4,206.3L368.3,225.4L370.1,211.2L372.0,224.0L373.9,214.5L375.7,216.2L377.6,219.7L379.5,229.2L381.3,216.3L383.2,217.2L385.1,223.7L387.0,216.8L388.8,211.2L390.7,222.2L392.6,215.5L394.4,226.7L396.3,216.5L398.2,215.1L400.0,202.6" stroke="#FF0000" stroke-width="1.6" fill="none" stroke-linecap="square" stroke-linejoin="round"/><path d="M82.2,197.4L84.0,200.7L85.9,194.9L87.8,208.9L89.7,197.4L91.5,206.9L93.4,208.4L95.3,199.6L97.1,202.8L99.0,195.8L100.9,212.3L102.7,202.6L104.6,207.5L106.5,205.8L108.4,216.4L110.2,199.7L112.1,202.0L114.0,209.0L115.8,210.1L117.7,207.8L119.6,194.2L121.4,204.1L123.3,204.8L125.2,201.1L127.0,203.9L128.9,202.5L130.8,197.8L132.7,201.5L134.5,198.5L136.4,210.5L138.3,202.0L140.1,205.0L142.0,201.9L143.9,201.9L145.7,205.7L147.6,201.7L149.5,195.9L151.4,206.2L153.2,210.2L155.1,200.2L157.0,198.4L158.8,205.4L160.7,202.2L162.6,208.5L164.4,205.7L166.3,196.1L168.2,199.5L170.1,202.6L171.9,204.4L173.8,213.9L175.7,201.9L177.5,198.7L179.4,195.2L181.3,189.1L183.1,198.1L185.0,196.8L186.9,209.4L188.8,196.9L190.6,199.5L192.5,195.4L194.4,200.0L196.2,200.0L198.1,193.7L200.0,204.1L201.8,197.9L203.7,196.4L205.6,208.5L207.5,210.8L209.3,200.3L211.2,202.5L213.1,200.8L214.9,198.6L216.8,207.4L218.7,201.2L220.5,197.5L222.4,205.4L224.3,204.2L226.1,208.8L228.0,197.9L229.9,193.4L231.8,211.2L233.6,200.0L235.5,200.2L237.4,207.6L239.2,206.1L241.1,208.8L243.0,208.0L244.8,203.0L246.7,201.9L248.6,205.0L250.5,200.9L252.3,205.5L254.2,212.9L256.1,199.8L257.9,200.9L259.8,211.6L261.7,196.3L263.5,204.4L265.4,204.7L267.3,194.3L269.2,219.7L271.0,214.1L272.9,201.9L274.8,209.3L276.6,211.8L278.5,199.5L280.4,206.1L282.2,215.7L284.1,212.1L286.0,204.3L287.9,200.2L289.7,219.7L291.6,206.9L293.5,210.6L295.3,217.4L297.2,208.5L299.1,216.4L300.9,210.5L302.8,201.6L304.7,207.0L306.6,206.1L308.4,207.0L310.3,208.9L312.2,204.4L314.0,214.9L315.9,211.9L317.8,204.3L319.6,213.6L321.5,210.3L323.4,203.8L325.2,201.3L327.1,213.2L329.0,214.2L330.9,206.3L332.7,210.1L334.6,215.4L336.5,207.8L338.3,207.8L340.2,210.3L342.1,194.6L343.9,204.2L345.8,205.9L347.7,205.1L349.6,194.4L351.4,205.0L353.3,215.0L355.2,211.3L357.0,212.1L358.9,217.0L360.8,211.8L362.6,211.6L364.5,213.8L366.4,216.4L368.3,209.2L370.1,223.5L372.0,209.5L373.9,213.8L375.7,212.9L377.6,231.0L379.5,204.9L381.3,225.9L383.2,221.9L385.1,213.6L387.0,219.7L388.8,219.7L390.7,231.4L392.6,219.5L394.4,217.4L396.3,214.1L398.2,220.7L400.0,217.1" stroke="#FF0000" stroke-width="1.6" fill="none" stroke-linecap="square" stroke-linejoin="round"/><path d="M82.2,199.8L84.0,206.8L85.9,207.1L87.8,191.2L89.7,208.2L91.5,196.1L93.4,203.9L95.3,197.0L97.1,207.5L99.0,200.2L100.9,201.5L102.7,205.1L104.6,202.3L106.5,208.3L108.4,205.3L110.2,207.1L112.1,198.4L114.0,203.4L115.8,210.0L117.7,204.5L119.6,202.5L121.4,208.3L123.3,194.8L125.2,201.3L127.0,198.7L128.9,207.9L130.8,204.0L132.7,197.2L134.5,211.5L136.4,201.1L138.3,201.5L140.1,205.5L142.0,201.7L143.9,207.5L145.7,200.4L147.6,206.4L149.5,208.3L151.4,194.7L153.2,206.7L155.1,215.4L157.0,198.1L158.8,208.0L160.7,222.8L162.6,203.7L164.4,198.9L166.3,200.1L168.2,193.9L170.1,203.9L171.9,199.1L173.8,210.1L175.7,202.4L177.5,192.3L179.4,198.1L181.3,199.4L183.1,211.3L185.0,204.1L186.9,210.2L188.8,199.0L190.6,208.3L192.5,200.8L194.4,209.3L196.2,191.5L198.1,208.5L200.0,199.3L201.8,186.3L203.7,201.1L205.6,208.8L207.5,200.6L209.3,196.9L211.2,198.0L213.1,215.2L214.9,200.8L216.8,214.9L218.7,192.2L220.5,203.2L222.4,205.8L224.3,198.6L226.1,199.5L228.0,208.9L229.9,194.9L231.8,204.7L233.6,213.9L235.5,197.1L237.4,195.6L239.2,196.7L241.1,199.7L243.0,208.5L244.8,198.4L246.7,194.8L248.6,200.9L250.5,196.5L252.3,210.8L254.2,200.5L256.1,202.4L257.9,215.7L259.8,216.6L261.7,210.0L263.5,206.4L265.4,202.7L267.3,206.0L269.2,206.1L271.0,205.7L272.9,205.1L274.8,204.6L276.6,203.8L278.5,207.7L280.4,207.1L282.2,211.3L284.1,204.2L286.0,211.2L287.9,200.6L289.7,209.4L291.6,206.6L293.5,212.4L295.3,210.2L297.2,206.7L299.1,208.2L300.9,210.8L302.8,215.2L304.7,209.2L306.6,209.0L308.4,207.1L310.3,204.4L312.2,210.4L314.0,218.9L315.9,210.8L317.8,217.1L319.6,216.3L321.5,203.0L323.4,206.8L325.2,211.9L327.1,213.3L329.0,210.5L330.9,218.1L332.7,208.9L334.6,213.6L336.5,201.1L338.3,216.2L340.2,205.2L342.1,213.6L343.9,205.8L345.8,215.5L347.7,206.5L349.6,212.9L351.4,215.6L353.3,211.7L355.2,210.3L357.0,210.1L358.9,204.5L360.8,208.4L362.6,228.4L364.5,215.7L366.4,225.3L368.3,216.3L370.1,210.2L372.0,222.4L373.9,221.0L375.7,213.6L377.6,218.2L379.5,205.2L381.3,213.1L383.2,213.1L385.1,206.4L387.0,219.1L388.8,217.1L390.7,223.5L392.6,215.0L394.4,211.9L396.3,209.4L398.2,219.0L400.0,223.2" stroke="#FF0000" stroke-width="1.6" fill="none" stroke-linecap="square" stroke-linejoin="round"/><path d="M82.2,206.8L84.0,211.0L85.9,201.9L87.8,194.4L89.7,217.3L91.5,216.1L93.4,196.0L95.3,215.1L97.1,201.7L99.0,210.5L100.9,198.7L102.7,199.0L104.6,203.0L106.5,198.8L108.4,204.5L110.2,201.4L112.1,192.0L114.0,196.3L115.8,205.7L117.7,207.0L119.6,203.2L121.4,204.4L123.3,201.9L125.2,207.1L127.0,199.7L128.9,203.1L130.8,199.5L132.7,202.8L134.5,199.5L136.4,210.1L138.3,192.6L140.1,200.5L142.0,199.4L143.9,197.6L145.7,195.2L147.6,194.9L149.5,199.5L151.4,203.6L153.2,212.1L155.1,201.8L157.0,205.3L158.8,205.2L160.7,188.4L162.6,214.1L164.4,203.7L166.3,194.9L168.2,198.0L170.1,195.8L171.9,209.8L173.8,209.7L175.7,199.6L177.5,202.6L179.4,190.8L181.3,198.8L183.1,198.7L185.0,199.2L186.9,204.2L188.8,202.6L190.6,207.8L192.5,202.8L194.4,206.2L196.2,200.6L198.1,209.8L200.0,208.5L201.8,198.4L203.7,200.8L205.6,209.2L207.5,205.2L209.3,208.3L211.2,191.0L213.1,212.8L214.9,191.9L216.8,207.4L218.7,200.3L220.5,204.9L222.4,205.1L224.3,196.8L226.1,197.3L228.0,203.7L229.9,209.0L231.8,191.2L233.6,195.7L235.5,204.0L237.4,205.8L239.2,201.9L241.1,202.1L243.0,196.4L244.8,209.0L246.7,205.0L248.6,209.7L250.5,197.8L252.3,195.9L254.2,206.5L256.1,204.4L257.9,199.1L259.8,209.0L261.7,211.0L263.5,200.7L265.4,202.1L267.3,205.7L269.2,197.2L271.0,203.6L272.9,215.4L274.8,205.7L276.6,206.6L278.5,196.8L280.4,208.4L282.2,209.7L284.1,205.9L286.0,207.0L287.9,216.6L289.7,208.4L291.6,209.5L293.5,201.0L295.3,195.8L297.2,213.1L299.1,213.0L300.9,211.7L302.8,212.5L304.7,212.6L306.6,209.3L308.4,204.2L310.3,216.6L312.2,216.2L314.0,218.0L315.9,204.7L317.8,201.6L319.6,217.4L321.5,215.9L323.4,208.7L325.2,203.0L327.1,204.8L329.0,208.8L330.9,205.4L332.7,209.5L334.6,214.5L336.5,200.5L338.3,210.4L340.2,216.3L342.1,212.3L343.9,219.6L345.8,209.9L347.7,204.2L349.6,217.3L351.4,204.4L353.3,198.8L355.2,210.7L357.0,218.9L358.9,218.4L360.8,214.9L362.6,220.2L364.5,220.6L366.4,214.7L368.3,214.9L370.1,210.1L372.0,221.4L373.9,202.1L375.7,207.7L377.6,210.7L379.5,219.0L381.3,203.9L383.2,218.4L385.1,205.7L387.0,208.7L388.8,222.6L390.7,219.8L392.6,204.2L394.4,211.8L396.3,219.2L398.2,217.1L400.0,216.8" stroke="#FF0000" stroke-width="1.6" fill="none" stroke-linecap="square" stroke-linejoin="round"/><path d="M82.2,206.7L84.0,203.7L85.9,206.4L87.8,204.9L89.7,200.2L91.5,208.7L93.4,199.7L95.3,204.6L97.1,199.0L99.0,197.6L100.9,195.7L102.7,199.7L104.6,199.6L106.5,204.6L108.4,201.2L110.2,209.9L112.1,204.0L114.0,198.2L115.8,201.9L117.7,199.4L119.6,207.9L121.4,194.7L123.3,205.6L125.2,201.0L127.0,203.5L128.9,197.7L130.8,203.7L132.7,208.6L134.5,214.1L136.4,204.8L138.3,208.8L140.1,199.2L142.0,193.4L143.9,214.1L145.7,208.9L147.6,197.3L149.5,193.5L151.4,200.7L153.2,200.5L155.1,200.0L157.0,200.0L158.8,193.6L160.7,198.7L162.6,210.4L164.4,206.7L166.3,200.6L168.2,208.2L170.1,204.4L171.9,205.3L173.8,208.1L175.7,199.0L177.5,203.0L179.4,207.0L181.3,204.2L183.1,199.5L185.0,189.4L186.9,201.0L188.8,194.5L190.6,201.0L192.5,215.0L194.4,201.1L196.2,206.9L198.1,209.4L200.0,206.1L201.8,190.6L203.7,211.2L205.6,207.2L207.5,197.1L209.3,198.4L211.2,212.6L213.1,204.4L214.9,204.7L216.8,203.7L218.7,198.3L220.5,206.7L222.4,204.7L224.3,193.7L226.1,212.6L228.0,204.1L229.9,201.1L231.8,210.2L233.6,207.4L235.5,212.4L237.4,203.2L239.2,207.2L241.1,198.0L243.0,197.4L244.8,203.2L246.7,207.2L248.6,203.7L250.5,204.9L252.3,213.2L254.2,199.8L256.1,206.1L257.9,202.5L259.8,215.0L261.7,200.7L263.5,194.6L265.4,201.5L267.3,212.8L269.2,205.3L271.0,205.2L272.9,204.2L274.8,208.9L276.6,203.5L278.5,209.8L280.4,207.1L282.2,212.4L284.1,207.7L286.0,203.0L287.9,211.7L289.7,205.5L291.6,212.5L293.5,210.3L295.3,209.5L297.2,200.9L299.1,212.0L300.9,201.2L302.8,216.7L304.7,210.0L306.6,205.0L308.4,206.1L310.3,215.3L312.2,214.8L314.0,204.9L315.9,216.1L317.8,205.2L319.6,212.5L321.5,208.0L323.4,197.8L325.2,200.7L327.1,205.7L329.0,217.0L330.9,207.3L332.7,211.0L334.6,212.2L336.5,203.5L338.3,219.6L340.2,208.7L342.1,209.1L343.9,215.3L345.8,200.4L347.7,217.5L349.6,210.1L351.4,210.3L353.3,223.3L355.2,221.2L357.0,218.0L358.9,208.9L360.8,207.4L362.6,209.2L364.5,211.8L366.4,226.6L368.3,212.6L370.1,217.0L372.0,206.9L373.9,205.3L375.7,200.3L377.6,211.8L379.5,209.8L381.3,221.6L383.2,215.8L385.1,225.3L387.0,209.9L388.8,224.7L390.7,218.3L392.6,221.9L394.4,221.6L396.3,215.2L398.2,222.4L400.0,216.8" stroke="#FF0000" stroke-width="1.6" fill="none" stroke-linecap="square" stroke-linejoin="round"/><path d="M82.2,208.2L84.0,194.2L85.9,206.4L87.8,196.3L89.7,190.2L91.5,217.8L93.4,210.1L95.3,206.7L97.1,196.6L99.0,205.9L100.9,200.9L102.7,208.0L104.6,200.5L106.5,210.9L108.4,199.7L110.2,222.6L112.1,214.0L114.0,191.8L115.8,200.7L117.7,207.5L119.6,188.6L121.4,196.7L123.3,195.5L125.2,206.0L127.0,199.7L128.9,200.2L130.8,211.5L132.7,199.3L134.5,204.2L136.4,195.4L138.3,194.0L140.1,206.3L142.0,205.6L143.9,200.0L145.7,197.6L147.6,201.7L149.5,201.5L151.4,198.9L153.2,200.0L155.1,196.2L157.0,202.1L158.8,208.7L160.7,213.0L162.6,198.4L164.4,206.1L166.3,204.1L168.2,205.3L170.1,212.4L171.9,204.7L173.8,219.7L175.7,205.6L177.5,206.2L179.4,189.9L181.3,197.5L183.1,201.1L185.0,200.9L186.9,198.4L188.8,207.8L190.6,205.4L192.5,204.8L194.4,188.7L196.2,201.7L198.1,213.4L200.0,195.2L201.8,185.8L203.7,207.8L205.6,183.1L207.5,204.4L209.3,196.5L211.2,206.2L213.1,205.5L214.9,209.2L216.8,209.0L218.7,215.5L220.5,196.8L222.4,209.8L224.3,200.1L226.1,200.2L228.0,206.0L229.9,203.7L231.8,203.8L233.6,206.8L235.5,204.7L237.4,203.9L239.2,209.7L241.1,210.3L243.0,208.4L244.8,202.9L246.7,197.1L248.6,196.7L250.5,203.6L252.3,200.8L254.2,205.4L256.1,201.1L257.9,206.5L259.8,205.1L261.7,207.6L263.5,206.8L265.4,194.1L267.3,211.7L269.2,205.7L271.0,208.5L272.9,200.0L274.8,197.4L276.6,208.2L278.5,223.1L280.4,205.0L282.2,205.3L284.1,217.8L286.0,209.9L287.9,209.6L289.7,221.9L291.6,204.3L293.5,206.1L295.3,207.1L297.2,213.2L299.1,212.0L300.9,211.0L302.8,206.9L304.7,214.4L306.6,202.2L308.4,207.8L310.3,221.5L312.2,200.4L314.0,208.5L315.9,212.9L317.8,207.7L319.6,219.3L321.5,207.1L323.4,222.3L325.2,214.1L327.1,203.1L329.0,203.3L330.9,211.0L332.7,216.6L334.6,206.8L336.5,211.0L338.3,209.4L340.2,207.1L342.1,216.1L343.9,206.9L345.8,222.3L347.7,202.1L349.6,219.6L351.4,214.7L353.3,214.9L355.2,208.8L357.0,208.1L358.9,211.5L360.8,210.0L362.6,210.1L364.5,213.9L366.4,225.4L368.3,228.6L370.1,228.6L372.0,214.7L373.9,215.4L375.7,215.5L377.6,215.1L379.5,216.8L381.3,221.8L383.2,226.5L385.1,230.2L387.0,207.8L388.8,211.0L390.7,226.4L392.6,218.6L394.4,215.8L396.3,207.5L398.2,223.0L400.0,217.3" stroke="#FF0000" stroke-width="1.6" fill="none" stroke-linecap="square" stroke-linejoin="round"/><path d="M82.2,195.2L84.0,213.7L85.9,207.4L87.8,202.9L89.7,207.8L91.5,190.2L93.4,199.0L95.3,204.4L97.1,209.8L99.0,197.9L100.9,199.6L102.7,207.0L104.6,206.8L106.5,212.9L108.4,205.4L110.2,199.5L112.1,196.7L114.0,199.4L115.8,196.9L117.7,206.0L119.6,204.9L121.4,195.8L123.3,199.8L125.2,208.6L127.0,200.6L128.9,198.4L130.8,197.5L132.7,202.4L134.5,206.5L136.4,200.9L138.3,191.7L140.1,201.8L142.0,206.4L143.9,199.4L145.7,209.3L147.6,198.1L149.5,202.9L151.4,197.0L153.2,202.1L155.1,197.0L157.0,189.7L158.8,205.0L160.7,207.8L162.6,200.7L164.4,204.9L166.3,201.4L168.2,207.5L170.1,199.9L171.9,202.3L173.8,217.5L175.7,204.9L177.5,199.2L179.4,193.9L181.3,203.9L183.1,205.0L185.0,195.1L186.9,206.6L188.8,203.0L190.6,201.4L192.5,198.5L194.4,203.7L196.2,209.1L198.1,195.9L200.0,202.8L201.8,204.5L203.7,190.4L205.6,198.7L207.5,210.6L209.3,205.5L211.2,204.6L213.1,208.7L214.9,213.6L216.8,198.2L218.7,198.4L220.5,202.3L222.4,205.7L224.3,201.3L226.1,198.6L228.0,208.6L229.9,206.2L231.8,206.8L233.6,200.0L235.5,203.7L237.4,212.2L239.2,207.6L241.1,192.4L243.0,209.4L244.8,203.0L246.7,209.2L248.6,198.2L250.5,206.0L252.3,209.2L254.2,213.4L256.1,209.3L257.9,202.6L259.8,203.7L261.7,213.9L263.5,197.9L265.4,206.9L267.3,211.2L269.2,205.2L271.0,208.9L272.9,209.2L274.8,211.7L276.6,207.2L278.5,210.4L280.4,218.4L282.2,206.1L284.1,211.6L286.0,202.1L287.9,206.5L289.7,206.1L291.6,207.2L293.5,201.7L295.3,210.4L297.2,213.0L299.1,206.7L300.9,222.2L302.8,211.5L304.7,208.4L306.6,212.1L308.4,203.6L310.3,207.1L312.2,208.6L314.0,211.5L315.9,204.9L317.8,211.8L319.6,212.4L321.5,204.5L323.4,206.7L325.2,198.4L327.1,211.5L329.0,220.2L330.9,205.9L332.7,204.9L334.6,213.0L336.5,202.5L338.3,201.0L340.2,214.5L342.1,212.9L343.9,218.7L345.8,207.4L347.7,206.7L349.6,207.2L351.4,218.4L353.3,215.6L355.2,221.8L357.0,222.3L358.9,222.0L360.8,223.0L362.6,214.3L364.5,211.1L366.4,209.9L368.3,214.5L370.1,218.5L372.0,214.7L373.9,210.5L375.7,216.7L377.6,216.4L379.5,217.4L381.3,218.9L383.2,216.5L385.1,225.2L387.0,209.2L388.8,227.8L390.7,214.4L392.6,226.2L394.4,208.8L396.3,212.8L398.2,224.7L400.0,221.9" stroke="#FF0000" stroke-width="1.6" fill="none" stroke-linecap="square" stroke-linejoin="round"/><path d="M82.2,209.5L84.0,203.5L85.9,200.5L87.8,187.2L89.7,211.9L91.5,195.9L93.4,208.2L95.3,204.2L97.1,198.7L99.0,200.1L100.9,201.1L102.7,205.2L104.6,204.4L106.5,203.1L108.4,197.8L110.2,214.0L112.1,206.1L114.0,210.8L115.8,208.0L117.7,207.4L119.6,195.5L121.4,190.4L123.3,194.5L125.2,211.1L127.0,203.4L128.9,210.6L130.8,199.3L132.7,195.6L134.5,200.0L136.4,198.3L138.3,203.2L140.1,214.8L142.0,214.4L143.9,202.2L145.7,198.4L147.6,192.0L149.5,203.4L151.4,202.6L153.2,201.4L155.1,197.1L157.0,204.3L158.8,210.4L160.7,196.4L162.6,201.2L164.4,202.2L166.3,210.0L168.2,204.0L170.1,213.7L171.9,214.8L173.8,206.0L175.7,206.2L177.5,197.9L179.4,192.6L181.3,200.8L183.1,189.6L185.0,205.7L186.9,198.5L188.8,211.3L190.6,203.7L192.5,205.0L194.4,205.1L196.2,199.0L198.1,213.3L200.0,199.6L201.8,206.4L203.7,201.9L205.6,201.8L207.5,206.6L209.3,205.0L211.2,210.0L213.1,201.0L214.9,206.2L216.8,200.5L218.7,211.6L220.5,195.8L222.4,209.5L224.3,195.8L226.1,205.2L228.0,199.3L229.9,205.2L231.8,199.6L233.6,204.2L235.5,197.9L237.4,200.6L239.2,200.1L241.1,193.2L243.0,207.8L244.8,196.3L246.7,205.2L248.6,214.4L250.5,203.0L252.3,207.9L254.2,196.7L256.1,210.8L257.9,207.3L259.8,206.4L261.7,217.3L263.5,204.2L265.4,211.3L267.3,196.9L269.2,196.3L271.0,205.5L272.9,215.0L274.8,207.1L276.6,205.8L278.5,203.6L280.4,210.5L282.2,215.7L284.1,209.5L286.0,213.9L287.9,199.9L289.7,213.4L291.6,211.8L293.5,209.0L295.3,215.3L297.2,210.1L299.1,209.3L300.9,210.5L302.8,211.0L304.7,203.2L306.6,207.8L308.4,216.8L310.3,212.9L312.2,205.5L314.0,212.8L315.9,210.0L317.8,208.6L319.6,207.7L321.5,209.2L323.4,210.6L325.2,213.4L327.1,208.6L329.0,215.1L330.9,200.3L332.7,211.8L334.6,213.3L336.5,206.8L338.3,211.3L340.2,210.4L342.1,210.6L343.9,215.7L345.8,215.7L347.7,214.8L349.6,204.2L351.4,214.9L353.3,213.6L355.2,216.0L357.0,208.7L358.9,202.2L360.8,219.1L362.6,209.9L364.5,213.0L366.4,215.6L368.3,211.2L370.1,222.2L372.0,209.4L373.9,212.8L375.7,221.1L377.6,206.6L379.5,210.0L381.3,208.0L383.2,226.2L385.1,219.6L387.0,219.6L388.8,213.3L390.7,208.4L392.6,229.8L394.4,218.9L396.3,219.6L398.2,212.3L400.0,219.1" stroke="#FF0000" stroke-width="1.6" fill="none" stroke-linecap="square" stroke-linejoin="round"/><path d="M82.2,210.4L84.0,204.3L85.9,209.3L87.8,207.6L89.7,203.3L91.5,206.5L93.4,202.9L95.3,215.1L97.1,190.0L99.0,195.8L100.9,199.3L102.7,211.9L104.6,217.4L106.5,209.3L108.4,206.5L110.2,191.6L112.1,195.2L114.0,206.3L115.8,194.9L117.7,195.2L119.6,202.1L121.4,196.0L123.3,200.8L125.2,207.8L127.0,211.0L128.9,204.5L130.8,196.0L132.7,211.4L134.5,213.2L136.4,200.2L138.3,218.6L140.1,192.0L142.0,205.1L143.9,197.2L145.7,190.8L147.6,208.3L149.5,207.6L151.4,189.6L153.2,204.6L155.1,204.3L157.0,202.6L158.8,197.5L160.7,194.9L162.6,203.0L164.4,206.5L166.3,202.6L168.2,202.2L170.1,195.6L171.9,202.0L173.8,193.7L175.7,208.8L177.5,198.2L179.4,190.8L181.3,192.9L183.1,198.3L185.0,207.5L186.9,207.3L188.8,204.7L190.6,202.6L192.5,204.6L194.4,212.5L196.2,206.9L198.1,199.0L200.0,195.4L201.8,209.8L203.7,204.7L205.6,214.0L207.5,207.7L209.3,181.9L211.2,202.8L213.1,206.3L214.9,205.7L216.8,210.2L218.7,214.1L220.5,204.2L222.4,205.1L224.3,194.0L226.1,212.1L228.0,200.0L229.9,196.5L231.8,215.1L233.6,200.4L235.5,214.8L237.4,201.5L239.2,195.5L241.1,203.1L243.0,202.1L244.8,208.0L246.7,203.9L248.6,199.1L250.5,206.8L252.3,207.5L254.2,204.2L256.1,203.2L257.9,217.1L259.8,207.4L261.7,210.2L263.5,204.3L265.4,199.5L267.3,203.2L269.2,198.5L271.0,211.1L272.9,208.3L274.8,213.8L276.6,206.4L278.5,207.1L280.4,209.9L282.2,215.8L284.1,209.2L286.0,211.2L287.9,206.2L289.7,211.0L291.6,202.0L293.5,207.5L295.3,218.5L297.2,208.7L299.1,216.0L300.9,202.9L302.8,202.3L304.7,209.7L306.6,207.8L308.4,217.3L310.3,222.0L312.2,212.0L314.0,210.8L315.9,217.8L317.8,208.0L319.6,208.8L321.5,205.1L323.4,201.9L325.2,204.8L327.1,212.3L329.0,209.7L330.9,206.3L332.7,217.2L334.6,205.0L336.5,206.1L338.3,212.1L340.2,214.4L342.1,189.2L343.9,207.0L345.8,205.2L347.7,200.6L349.6,205.1L351.4,210.0L353.3,207.1L355.2,218.7L357.0,208.5L358.9,223.1L360.8,211.0L362.6,209.9L364.5,223.1L366.4,202.0L368.3,221.4L370.1,207.8L372.0,217.9L373.9,212.1L375.7,218.9L377.6,200.9L379.5,208.8L381.3,203.7L383.2,211.6L385.1,213.2L387.0,215.1L388.8,218.9L390.7,213.3L392.6,215.8L394.4,219.9L396.3,228.0L398.2,221.1L400.0,214.5" stroke="#FF0000" stroke-width="1.6" fill="none" stroke-linecap="square" stroke-linejoin="round"/><path d="M82.2,205.4L84.0,200.9L85.9,203.8L87.8,209.0L89.7,208.9L91.5,207.9L93.4,206.3L95.3,207.3L97.1,197.1L99.0,209.9L100.9,216.0L102.7,199.7L104.6,206.9L106.5,204.6L108.4,189.5L110.2,196.0L112.1,199.4L114.0,197.3L115.8,201.3L117.7,196.6L119.6,205.8L121.4,207.5L123.3,205.4L125.2,194.2L127.0,194.3L128.9,207.2L130.8,194.8L132.7,204.1L134.5,196.9L136.4,205.3L138.3,196.3L140.1,203.4L142.0,204.0L143.9,201.5L145.7,200.8L147.6,203.0L149.5,209.3L151.4,192.6L153.2,205.1L155.1,214.2L157.0,217.3L158.8,220.4L160.7,206.3L162.6,195.3L164.4,214.1L166.3,204.1L168.2,214.8L170.1,196.6L171.9,200.4L173.8,202.4L175.7,195.4L177.5,191.3L179.4,194.8L181.3,203.8L183.1,207.9L185.0,208.2L186.9,213.3L188.8,192.7L190.6,205.3L192.5,202.1L194.4,202.4L196.2,190.3L198.1,205.2L200.0,193.1L201.8,199.5L203.7,203.2L205.6,215.3L207.5,198.7L209.3,206.9L211.2,205.7L213.1,202.7L214.9,201.5L216.8,196.2L218.7,206.9L220.5,202.7L222.4,201.5L224.3,202.2L226.1,198.3L228.0,203.8L229.9,197.0L231.8,207.5L233.6,212.5L235.5,205.3L237.4,197.4L239.2,206.9L241.1,206.5L243.0,205.5L244.8,202.7L246.7,206.4L248.6,203.7L250.5,215.6L252.3,197.7L254.2,202.9L256.1,212.8L257.9,199.3L259.8,204.9L261.7,197.4L263.5,213.8L265.4,195.6L267.3,204.5L269.2,217.8L271.0,200.8L272.9,207.4L274.8,213.7L276.6,207.8L278.5,218.4L280.4,205.3L282.2,210.1L284.1,210.0L286.0,200.8L287.9,209.1L289.7,212.9L291.6,213.2L293.5,208.9L295.3,202.8L297.2,210.7L299.1,213.8L300.9,202.9L302.8,209.1L304.7,209.5L306.6,199.1L308.4,216.0L310.3,209.5L312.2,217.9L314.0,210.9L315.9,207.3L317.8,202.7L319.6,216.5L321.5,203.9L323.4,205.6L325.2,209.4L327.1,197.4L329.0,210.1L330.9,213.9L332.7,209.2L334.6,221.9L336.5,202.3L338.3,205.2L340.2,212.9L342.1,206.6L343.9,208.4L345.8,199.3L347.7,214.1L349.6,217.9L351.4,222.8L353.3,212.7L355.2,222.4L357.0,213.6L358.9,211.3L360.8,215.9L362.6,218.7L364.5,206.2L366.4,214.7L368.3,212.7L370.1,208.1L372.0,222.6L373.9,219.7L375.7,198.7L377.6,217.6L379.5,221.9L381.3,216.9L383.2,220.3L385.1,225.7L387.0,218.6L388.8,217.3L390.7,217.3L392.6,213.1L394.4,230.5L396.3,228.7L398.2,213.4L400.0,221.6" stroke="#FF0000" stroke-width="1.6" fill="none" stroke-linecap="square" stroke-linejoin="round"/><path d="M82.2,194.9L84.0,201.0L85.9,211.4L87.8,199.3L89.7,209.5L91.5,201.7L93.4,196.8L95.3,192.7L97.1,204.2L99.0,198.9L100.9,201.6L102.7,199.0L104.6,219.6L106.5,206.2L108.4,203.1L110.2,202.0L112.1,207.5L114.0,197.9L115.8,195.2L117.7,201.9L119.6,203.3L121.4,205.3L123.3,201.7L125.2,196.5L127.0,194.6L128.9,206.3L130.8,207.4L132.7,207.8L134.5,197.3L136.4,201.9L138.3,200.2L140.1,199.7L142.0,199.9L143.9,202.1L145.7,207.9L147.6,203.1L149.5,200.3L151.4,200.4L153.2,204.9L155.1,205.8L157.0,195.5L158.8,206.4L160.7,201.3L162.6,205.3L164.4,209.4L166.3,211.2L168.2,207.0L170.1,208.1L171.9,197.5L173.8,211.2L175.7,205.9L177.5,197.2L179.4,201.6L181.3,197.4L183.1,195.0L185.0,211.8L186.9,205.3L188.8,209.2L190.6,196.2L192.5,203.5L194.4,200.7L196.2,192.2L198.1,204.0L200.0,199.7L201.8,198.9L203.7,203.9L205.6,196.5L207.5,199.3L209.3,196.6L211.2,202.7L213.1,206.1L214.9,204.1L216.8,205.0L218.7,212.6L220.5,201.6L222.4,198.4L224.3,202.5L226.1,205.2L228.0,202.1L229.9,202.8L231.8,201.4L233.6,193.6L235.5,210.1L237.4,202.2L239.2,199.9L241.1,202.4L243.0,204.9L244.8,209.7L246.7,208.8L248.6,201.4L250.5,197.1L252.3,210.3L254.2,203.6L256.1,204.7L257.9,201.5L259.8,206.1L261.7,203.5L263.5,201.8L265.4,212.0L267.3,204.6L269.2,216.0L271.0,216.5L272.9,210.4L274.8,216.6L276.6,203.7L278.5,201.9L280.4,210.3L282.2,209.7L284.1,209.8L286.0,210.0L287.9,208.6L289.7,207.4L291.6,210.5L293.5,212.7L295.3,211.2L297.2,203.4L299.1,210.5L300.9,200.3L302.8,210.7L304.7,202.5L306.6,215.8L308.4,213.3L310.3,208.2L312.2,206.6L314.0,210.2L315.9,200.4L317.8,208.0L319.6,208.7L321.5,211.0L323.4,201.4L325.2,204.5L327.1,208.1L329.0,218.5L330.9,207.4L332.7,213.9L334.6,209.9L336.5,206.0L338.3,214.7L340.2,209.5L342.1,205.3L343.9,210.6L345.8,212.1L347.7,216.5L349.6,214.3L351.4,218.2L353.3,205.4L355.2,212.6L357.0,219.6L358.9,213.8L360.8,220.9L362.6,232.5L364.5,206.3L366.4,206.5L368.3,223.1L370.1,218.5L372.0,213.2L373.9,216.3L375.7,219.9L377.6,219.8L379.5,216.8L381.3,218.8L383.2,215.2L385.1,219.1L387.0,220.9L388.8,217.1L390.7,228.1L392.6,207.3L394.4,230.3L396.3,219.1L398.2,216.6L400.0,215.8" stroke="#FF0000" stroke-width="1.6" fill="none" stroke-linecap="square" stroke-linejoin="round"/><path d="M82.2,200.9L84.0,195.4L85.9,209.5L87.8,203.1L89.7,202.5L91.5,206.3L93.4,208.0L95.3,198.0L97.1,208.1L99.0,206.1L100.9,205.1L102.7,205.1L104.6,203.2L106.5,205.1L108.4,202.8L110.2,204.1L112.1,200.1L114.0,194.9L115.8,207.0L117.7,192.7L119.6,204.7L121.4,199.3L123.3,201.7L125.2,205.5L127.0,215.3L128.9,194.1L130.8,206.3L132.7,207.8L134.5,197.1L136.4,202.9L138.3,191.0L140.1,192.9L142.0,198.1L143.9,200.0L145.7,197.3L147.6,207.2L149.5,200.1L151.4,202.0L153.2,205.5L155.1,201.9L157.0,212.3L158.8,198.4L160.7,195.2L162.6,211.1L164.4,203.5L166.3,193.3L168.2,201.4L170.1,209.3L171.9,208.4L173.8,199.5L175.7,192.9L177.5,207.5L179.4,200.9L181.3,204.9L183.1,201.8L185.0,200.3L186.9,203.2L188.8,207.6L190.6,192.2L192.5,203.9L194.4,204.8L196.2,196.0L198.1,201.9L200.0,201.4L201.8,196.0L203.7,208.4L205.6,199.7L207.5,198.3L209.3,198.8L211.2,204.1L213.1,204.2L214.9,212.0L216.8,203.8L218.7,201.4L220.5,198.9L222.4,202.5L224.3,204.7L226.1,207.2L228.0,202.7L229.9,203.5L231.8,196.6L233.6,204.1L235.5,208.1L237.4,205.1L239.2,206.7L241.1,204.3L243.0,216.1L244.8,212.9L246.7,212.2L248.6,203.0L250.5,206.1L252.3,205.8L254.2,199.9L256.1,213.7L257.9,201.0L259.8,205.5L261.7,210.2L263.5,198.7L265.4,213.4L267.3,211.3L269.2,207.1L271.0,203.0L272.9,206.9L274.8,219.8L276.6,208.3L278.5,208.0L280.4,195.0L282.2,201.6L284.1,208.0L286.0,214.5L287.9,207.7L289.7,215.5L291.6,207.1L293.5,206.8L295.3,210.7L297.2,206.4L299.1,210.1L300.9,210.7L302.8,201.9L304.7,206.7L306.6,211.5L308.4,213.7L310.3,209.8L312.2,206.4L314.0,205.4L315.9,203.3L317.8,206.2L319.6,215.6L321.5,198.4L323.4,204.1L325.2,204.8L327.1,203.7L329.0,217.7L330.9,211.3L332.7,214.2L334.6,205.9L336.5,217.1L338.3,212.5L340.2,202.8L342.1,206.7L343.9,213.7L345.8,200.2L347.7,218.0L349.6,208.1L351.4,212.4L353.3,208.3L355.2,214.8L357.0,217.5L358.9,212.7L360.8,221.0L362.6,210.1L364.5,215.5L366.4,208.2L368.3,216.9L370.1,218.2L372.0,212.1L373.9,206.6L375.7,227.4L377.6,216.0L379.5,211.5L381.3,224.2L383.2,222.2L385.1,213.7L387.0,221.4L388.8,221.4L390.7,206.4L392.6,223.0L394.4,224.6L396.3,233.8L398.2,226.2L400.0,226.8" stroke="#FF0000" stroke-width="1.6" fill="none" stroke-linecap="square" stroke-linejoin="round"/><path d="M82.2,192.5L84.0,195.9L85.9,210.4L87.8,191.3L89.7,199.0L91.5,204.5L93.4,199.8L95.3,203.6L97.1,208.5L99.0,213.7L100.9,208.9L102.7,204.0L104.6,206.3L106.5,208.3L108.4,199.4L110.2,211.2L112.1,197.9L114.0,205.9L115.8,201.5L117.7,209.1L119.6,202.2L121.4,207.9L123.3,212.9L125.2,204.0L127.0,204.1L128.9,198.9L130.8,200.3L132.7,209.1L134.5,207.0L136.4,217.9L138.3,208.7L140.1,195.3L142.0,193.6L143.9,197.1L145.7,200.1L147.6,196.2L149.5,198.4L151.4,213.0L153.2,207.9L155.1,196.6L157.0,197.1L158.8,202.4L160.7,204.6L162.6,205.9L164.4,207.6L166.3,207.7L168.2,215.0L170.1,202.5L171.9,205.4L173.8,205.8L175.7,193.8L177.5,197.9L179.4,205.2L181.3,197.2L183.1,208.8L185.0,196.2L186.9,201.5L188.8,204.8L190.6,201.1L192.5,194.7L194.4,206.5L196.2,208.1L198.1,190.0L200.0,200.2L201.8,193.0L203.7,206.4L205.6,201.9L207.5,208.0L209.3,199.1L211.2,204.8L213.1,208.1L214.9,193.4L216.8,201.2L218.7,214.7L220.5,205.2L222.4,208.6L224.3,209.5L226.1,205.8L228.0,205.2L229.9,204.1L231.8,208.1L233.6,214.8L235.5,208.3L237.4,199.6L239.2,211.8L241.1,199.5L243.0,201.1L244.8,206.5L246.7,203.8L248.6,210.0L250.5,208.0L252.3,212.5L254.2,203.9L256.1,200.2L257.9,211.4L259.8,201.0L261.7,218.3L263.5,212.1L265.4,211.2L267.3,195.3L269.2,209.4L271.0,201.0L272.9,217.3L274.8,207.5L276.6,203.6L278.5,207.9L280.4,223.6L282.2,208.2L284.1,204.4L286.0,201.8L287.9,207.4L289.7,218.4L291.6,209.4L293.5,204.1L295.3,212.9L297.2,204.9L299.1,211.0L300.9,207.5L302.8,205.9L304.7,213.1L306.6,195.8L308.4,209.3L310.3,209.0L312.2,212.8L314.0,209.3L315.9,211.7L317.8,215.5L319.6,217.8L321.5,206.9L323.4,210.3L325.2,222.2L327.1,221.3L329.0,211.9L330.9,209.8L332.7,208.5L334.6,218.6L336.5,207.9L338.3,212.5L340.2,213.6L342.1,211.0L343.9,206.3L345.8,207.4L347.7,205.9L349.6,214.6L351.4,212.8L353.3,217.8L355.2,216.5L357.0,215.1L358.9,216.7L360.8,209.4L362.6,210.7L364.5,209.2L366.4,213.0L368.3,207.9L370.1,213.6L372.0,208.7L373.9,211.1L375.7,210.3L377.6,217.2L379.5,223.2L381.3,224.6L383.2,204.4L385.1,215.4L387.0,213.4L388.8,218.5L390.7,220.4L392.6,198.2L394.4,226.4L396.3,219.2L398.2,219.4L400.0,226.4" stroke="#FF0000" stroke-width="1.6" fill="none" stroke-linecap="square" stroke-linejoin="round"/><path d="M82.2,210.2L84.0,207.3L85.9,205.0L87.8,205.8L89.7,198.7L91.5,210.5L93.4,202.2L95.3,197.1L97.1,198.8L99.0,210.2L100.9,221.2L102.7,199.0L104.6,201.4L106.5,207.5L108.4,197.5L110.2,207.5L112.1,202.5L114.0,209.3L115.8,200.3L117.7,205.1L119.6,205.2L121.4,197.0L123.3,201.5L125.2,212.7L127.0,199.8L128.9,198.8L130.8,206.9L132.7,205.6L134.5,203.2L136.4,205.0L138.3,201.6L140.1,199.1L142.0,205.3L143.9,189.4L145.7,206.1L147.6,202.8L149.5,189.7L151.4,189.0L153.2,202.7L155.1,204.6L157.0,210.2L158.8,197.1L160.7,201.8L162.6,208.6L164.4,202.1L166.3,194.4L168.2,200.0L170.1,190.6L171.9,196.1L173.8,202.0L175.7,203.8L177.5,198.1L179.4,194.1L181.3,195.6L183.1,194.1L185.0,200.9L186.9,198.6L188.8,196.7L190.6,205.4L192.5,210.6L194.4,193.8L196.2,199.2L198.1,204.6L200.0,199.0L201.8,203.0L203.7,212.4L205.6,205.2L207.5,212.6L209.3,201.6L211.2,203.8L213.1,197.8L214.9,203.0L216.8,201.0L218.7,204.9L220.5,206.1L222.4,211.5L224.3,196.9L226.1,201.5L228.0,205.9L229.9,203.1L231.8,206.0L233.6,208.4L235.5,203.9L237.4,197.6L239.2,205.6L241.1,211.2L243.0,207.3L244.8,193.7L246.7,210.2L248.6,199.0L250.5,207.1L252.3,202.5L254.2,207.1L256.1,216.9L257.9,209.9L259.8,195.7L261.7,207.0L263.5,203.9L265.4,207.4L267.3,205.8L269.2,204.2L271.0,202.7L272.9,193.5L274.8,208.2L276.6,207.8L278.5,211.3L280.4,216.0L282.2,217.8L284.1,205.2L286.0,218.8L287.9,202.1L289.7,205.0L291.6,209.8L293.5,214.8L295.3,208.5L297.2,207.7L299.1,202.8L300.9,211.7L302.8,211.6L304.7,209.9L306.6,211.4L308.4,213.1L310.3,219.1L312.2,217.2L314.0,212.8L315.9,211.5L317.8,203.6L319.6,199.0L321.5,199.9L323.4,207.9L325.2,199.6L327.1,211.0L329.0,213.0L330.9,197.5L332.7,217.2L334.6,214.3L336.5,212.4L338.3,203.1L340.2,214.1L342.1,206.0L343.9,213.9L345.8,217.2L347.7,209.5L349.6,209.8L351.4,217.7L353.3,216.1L355.2,217.9L357.0,207.2L358.9,211.3L360.8,212.1L362.6,210.3L364.5,216.5L366.4,210.9L368.3,218.0L370.1,222.4L372.0,218.9L373.9,212.8L375.7,214.2L377.6,210.2L379.5,226.0L381.3,216.8L383.2,214.2L385.1,224.0L387.0,214.6L388.8,220.0L390.7,224.7L392.6,209.6L394.4,228.1L396.3,212.1L398.2,221.8L400.0,225.0" stroke="#FF0000" stroke-width="1.6" fill="none" stroke-linecap="square" stroke-linejoin="round"/><path d="M82.2,207.8L84.0,207.5L85.9,208.0L87.8,201.2L89.7,214.6L91.5,196.1L93.4,199.6L95.3,197.6L97.1,209.9L99.0,217.2L100.9,207.3L102.7,205.0L104.6,202.5L106.5,207.1L108.4,205.6L110.2,204.1L112.1,212.2L114.0,192.4L115.8,208.7L117.7,201.0L119.6,195.8L121.4,208.0L123.3,202.7L125.2,194.2L127.0,205.5L128.9,197.5L130.8,200.2L132.7,201.9L134.5,199.2L136.4,204.8L138.3,203.4L140.1,197.2L142.0,200.8L143.9,198.6L145.7,208.9L147.6,199.5L149.5,194.1L151.4,197.7L153.2,200.8L155.1,206.5L157.0,207.4L158.8,201.2L160.7,194.5L162.6,203.3L164.4,196.8L166.3,204.1L168.2,196.9L170.1,209.2L171.9,201.6L173.8,210.7L175.7,199.7L177.5,197.9L179.4,206.6L181.3,204.8L183.1,202.7L185.0,210.8L186.9,208.4L188.8,208.6L190.6,199.8L192.5,195.0L194.4,206.3L196.2,204.1L198.1,200.8L200.0,203.3L201.8,203.0L203.7,197.7L205.6,202.7L207.5,204.8L209.3,206.0L211.2,194.6L213.1,207.7L214.9,201.5L216.8,209.0L218.7,206.5L220.5,203.3L222.4,205.6L224.3,199.5L226.1,202.0L228.0,210.3L229.9,217.5L231.8,197.8L233.6,207.5L235.5,196.8L237.4,204.4L239.2,208.4L241.1,199.8L243.0,205.2L244.8,203.8L246.7,210.8L248.6,202.0L250.5,199.4L252.3,209.6L254.2,196.3L256.1,211.1L257.9,206.1L259.8,217.0L261.7,217.1L263.5,195.1L265.4,197.4L267.3,198.5L269.2,215.6L271.0,204.1L272.9,203.5L274.8,207.6L276.6,205.0L278.5,212.6L280.4,209.6L282.2,215.2L284.1,210.6L286.0,206.8L287.9,213.6L289.7,210.9L291.6,210.5L293.5,208.6L295.3,203.9L297.2,206.5L299.1,206.5L300.9,215.2L302.8,211.4L304.7,205.5L306.6,214.2L308.4,212.1L310.3,215.4L312.2,202.7L314.0,211.7L315.9,213.9L317.8,205.4L319.6,204.9L321.5,205.8L323.4,204.9L325.2,207.9L327.1,211.0L329.0,212.5L330.9,212.0L332.7,214.7L334.6,210.1L336.5,211.6L338.3,210.3L340.2,207.6L342.1,210.5L343.9,219.1L345.8,214.8L347.7,217.0L349.6,221.3L351.4,210.6L353.3,217.9L355.2,220.6L357.0,218.9L358.9,208.9L360.8,215.3L362.6,207.3L364.5,214.2L366.4,216.3L368.3,210.9L370.1,210.7L372.0,213.9L373.9,220.5L375.7,217.6L377.6,224.1L379.5,217.0L381.3,214.9L383.2,207.3L385.1,208.8L387.0,211.8L388.8,211.2L390.7,215.9L392.6,198.9L394.4,209.0L396.3,201.3L398.2,216.5L400.0,216.0" stroke="#FF0000" stroke-width="1.6" fill="none" stroke-linecap="square" stroke-linejoin="round"/><path d="M82.2,196.3L84.0,202.0L85.9,201.1L87.8,208.7L89.7,197.9L91.5,202.7L93.4,199.8L95.3,207.2L97.1,214.6L99.0,200.5L100.9,196.8L102.7,211.6L104.6,210.1L106.5,205.8L108.4,206.6L110.2,215.1L112.1,192.7L114.0,197.2L115.8,205.8L117.7,213.3L119.6,200.1L121.4,191.7L123.3,197.9L125.2,197.1L127.0,209.4L128.9,202.3L130.8,210.8L132.7,191.6L134.5,200.2L136.4,215.9L138.3,213.1L140.1,200.1L142.0,201.6L143.9,203.4L145.7,198.3L147.6,187.9L149.5,199.1L151.4,213.6L153.2,203.9L155.1,211.2L157.0,208.6L158.8,201.9L160.7,203.9L162.6,209.9L164.4,204.7L166.3,207.2L168.2,200.9L170.1,204.9L171.9,200.6L173.8,206.2L175.7,199.3L177.5,202.1L179.4,201.3L181.3,203.9L183.1,199.5L185.0,212.6L186.9,187.7L188.8,207.7L190.6,203.9L192.5,205.9L194.4,206.7L196.2,200.3L198.1,205.1L200.0,202.9L201.8,209.6L203.7,208.0L205.6,210.9L207.5,194.0L209.3,210.5L211.2,209.5L213.1,203.3L214.9,194.1L216.8,212.9L218.7,212.2L220.5,203.3L222.4,201.6L224.3,210.8L226.1,212.9L228.0,208.1L229.9,200.1L231.8,203.9L233.6,200.1L235.5,206.0L237.4,204.9L239.2,200.7L241.1,203.8L243.0,202.5L244.8,209.3L246.7,209.1L248.6,203.2L250.5,207.2L252.3,211.1L254.2,202.9L256.1,205.0L257.9,207.7L259.8,212.2L261.7,201.3L263.5,193.1L265.4,210.3L267.3,213.9L269.2,210.6L271.0,210.8L272.9,213.1L274.8,214.8L276.6,202.2L278.5,203.1L280.4,200.9L282.2,205.2L284.1,211.4L286.0,203.1L287.9,212.9L289.7,211.5L291.6,214.6L293.5,202.5L295.3,203.6L297.2,210.3L299.1,210.3L300.9,207.9L302.8,208.8L304.7,205.5L306.6,209.8L308.4,208.2L310.3,218.2L312.2,210.8L314.0,218.4L315.9,202.0L317.8,201.9L319.6,207.0L321.5,203.0L323.4,200.0L325.2,204.4L327.1,218.6L329.0,211.5L330.9,221.7L332.7,216.1L334.6,218.8L336.5,211.2L338.3,208.9L340.2,216.0L342.1,212.0L343.9,210.3L345.8,211.5L347.7,212.0L349.6,224.3L351.4,213.9L353.3,206.9L355.2,212.1L357.0,221.5L358.9,215.7L360.8,212.2L362.6,219.2L364.5,209.9L366.4,218.8L368.3,216.6L370.1,215.2L372.0,201.2L373.9,216.3L375.7,218.6L377.6,212.6L379.5,218.6L381.3,214.5L383.2,231.3L385.1,216.2L387.0,216.6L388.8,226.0L390.7,208.9L392.6,218.8L394.4,220.6L396.3,227.7L398.2,230.2L400.0,222.8" stroke="#FF0000" stroke-width="1.6" fill="none" stroke-linecap="square" stroke-linejoin="round"/><path d="M82.2,211.9L84.0,200.4L85.9,198.0L87.8,206.9L89.7,213.3L91.5,206.1L93.4,211.1L95.3,205.1L97.1,203.2L99.0,206.2L100.9,203.5L102.7,198.1L104.6,194.5L106.5,207.4L108.4,201.1L110.2,206.7L112.1,209.6L114.0,195.8L115.8,200.1L117.7,202.0L119.6,200.4L121.4,204.6L123.3,209.2L125.2,193.7L127.0,198.8L128.9,202.4L130.8,196.6L132.7,195.9L134.5,204.9L136.4,200.3L138.3,204.4L140.1,199.4L142.0,204.2L143.9,187.6L145.7,204.2L147.6,196.9L149.5,198.8L151.4,205.2L153.2,197.7L155.1,204.2L157.0,206.6L158.8,204.1L160.7,207.5L162.6,196.9L164.4,201.1L166.3,196.9L168.2,212.1L170.1,202.1L171.9,207.5L173.8,204.3L175.7,196.5L177.5,200.1L179.4,202.5L181.3,194.3L183.1,194.6L185.0,191.7L186.9,214.1L188.8,202.1L190.6,207.1L192.5,208.4L194.4,203.4L196.2,209.5L198.1,215.2L200.0,205.8L201.8,203.3L203.7,192.0L205.6,208.5L207.5,211.3L209.3,214.4L211.2,205.5L213.1,205.9L214.9,201.7L216.8,211.7L218.7,207.8L220.5,217.2L222.4,202.7L224.3,211.9L226.1,218.5L228.0,196.1L229.9,201.7L231.8,201.8L233.6,202.5L235.5,211.5L237.4,198.7L239.2,210.3L241.1,192.3L243.0,202.7L244.8,214.7L246.7,200.9L248.6,194.7L250.5,207.4L252.3,200.9L254.2,207.9L256.1,211.8L257.9,222.5L259.8,201.0L261.7,209.0L263.5,205.2L265.4,212.2L267.3,210.4L269.2,199.9L271.0,207.8L272.9,208.4L274.8,215.4L276.6,205.8L278.5,203.6L280.4,211.5L282.2,210.3L284.1,215.5L286.0,201.5L287.9,213.0L289.7,210.5L291.6,199.6L293.5,210.2L295.3,217.0L297.2,212.8L299.1,210.6L300.9,199.0L302.8,208.7L304.7,210.9L306.6,206.1L308.4,203.7L310.3,214.6L312.2,202.4L314.0,205.6L315.9,208.4L317.8,220.1L319.6,209.5L321.5,201.6L323.4,211.4L325.2,197.5L327.1,210.2L329.0,215.7L330.9,206.5L332.7,210.3L334.6,207.9L336.5,212.4L338.3,204.0L340.2,214.0L342.1,209.7L343.9,218.7L345.8,215.1L347.7,209.8L349.6,214.6L351.4,213.9L353.3,212.5L355.2,212.0L357.0,208.5L358.9,209.6L360.8,207.6L362.6,212.2L364.5,217.1L366.4,223.5L368.3,216.6L370.1,219.3L372.0,226.0L373.9,204.1L375.7,226.5L377.6,214.7L379.5,212.1L381.3,217.1L383.2,200.3L385.1,217.9L387.0,221.3L388.8,206.1L390.7,222.9L392.6,226.6L394.4,225.9L396.3,223.2L398.2,218.9L400.0,216.7" stroke="#FF0000" stroke-width="1.6" fill="none" stroke-linecap="square" stroke-linejoin="round"/><path d="M82.2,211.9L84.0,201.1L85.9,189.7L87.8,207.3L89.7,204.5L91.5,199.5L93.4,197.5L95.3,210.0L97.1,210.0L99.0,209.6L100.9,197.2L102.7,198.8L104.6,217.5L106.5,217.0L108.4,212.7L110.2,214.2L112.1,200.8L114.0,202.0L115.8,190.6L117.7,198.0L119.6,201.6L121.4,196.5L123.3,208.2L125.2,212.4L127.0,203.8L128.9,198.2L130.8,211.8L132.7,198.1L134.5,198.5L136.4,206.6L138.3,201.4L140.1,204.7L142.0,202.1L143.9,196.9L145.7,206.8L147.6,193.6L149.5,196.2L151.4,197.7L153.2,214.8L155.1,214.7L157.0,199.9L158.8,207.4L160.7,207.1L162.6,208.3L164.4,212.6L166.3,204.2L168.2,208.4L170.1,207.4L171.9,200.1L173.8,211.7L175.7,197.1L177.5,214.6L179.4,186.5L181.3,208.7L183.1,196.9L185.0,197.0L186.9,203.2L188.8,199.5L190.6,205.2L192.5,213.6L194.4,201.9L196.2,195.9L198.1,205.5L200.0,210.4L201.8,205.2L203.7,200.8L205.6,202.5L207.5,198.0L209.3,199.6L211.2,200.4L213.1,216.2L214.9,189.3L216.8,203.0L218.7,198.3L220.5,206.1L222.4,204.4L224.3,202.4L226.1,193.4L228.0,193.8L229.9,200.8L231.8,192.1L233.6,206.7L235.5,202.4L237.4,207.3L239.2,196.7L241.1,202.9L243.0,198.2L244.8,194.0L246.7,217.7L248.6,193.2L250.5,204.0L252.3,208.7L254.2,217.7L256.1,209.8L257.9,221.0L259.8,207.3L261.7,207.3L263.5,196.6L265.4,207.5L267.3,198.9L269.2,199.3L271.0,193.6L272.9,207.4L274.8,203.9L276.6,215.4L278.5,214.0L280.4,210.4L282.2,209.3L284.1,215.5L286.0,211.1L287.9,205.8L289.7,212.0L291.6,209.2L293.5,213.6L295.3,201.4L297.2,198.5L299.1,207.5L300.9,208.6L302.8,201.1L304.7,207.2L306.6,213.5L308.4,216.9L310.3,213.7L312.2,198.3L314.0,212.6L315.9,196.2L317.8,208.5L319.6,211.4L321.5,201.7L323.4,211.1L325.2,207.1L327.1,215.8L329.0,216.8L330.9,213.4L332.7,210.5L334.6,215.7L336.5,221.7L338.3,208.3L340.2,211.8L342.1,211.9L343.9,215.1L345.8,223.2L347.7,201.8L349.6,213.5L351.4,208.2L353.3,203.1L355.2,206.8L357.0,211.6L358.9,213.9L360.8,211.7L362.6,207.8L364.5,210.2L366.4,216.5L368.3,211.6L370.1,212.0L372.0,210.3L373.9,212.9L375.7,206.1L377.6,215.5L379.5,209.8L381.3,215.2L383.2,220.5L385.1,224.1L387.0,217.3L388.8,213.9L390.7,209.0L392.6,217.6L394.4,222.5L396.3,222.2L398.2,210.3L400.0,218.1" stroke="#FF0000" stroke-width="1.6" fill="none" stroke-linecap="square" stroke-linejoin="round"/><path d="M82.2,205.7L84.0,198.6L85.9,211.1L87.8,202.2L89.7,203.8L91.5,204.3L93.4,211.7L95.3,199.9L97.1,193.8L99.0,211.5L100.9,202.9L102.7,200.1L104.6,190.6L106.5,206.6L108.4,210.9L110.2,205.1L112.1,190.9L114.0,202.7L115.8,200.6L117.7,191.8L119.6,215.1L121.4,216.5L123.3,197.3L125.2,199.2L127.0,212.3L128.9,200.6L130.8,201.8L132.7,202.0L134.5,208.4L136.4,206.3L138.3,207.6L140.1,202.6L142.0,203.8L143.9,191.5L145.7,198.1L147.6,209.1L149.5,198.8L151.4,194.4L153.2,201.2L155.1,197.0L157.0,204.1L158.8,199.6L160.7,208.5L162.6,199.0L164.4,212.7L166.3,194.7L168.2,213.1L170.1,216.1L171.9,199.7L173.8,205.6L175.7,203.0L177.5,198.8L179.4,201.4L181.3,205.9L183.1,199.0L185.0,200.2L186.9,200.1L188.8,191.9L190.6,208.8L192.5,202.7L194.4,200.5L196.2,205.2L198.1,209.2L200.0,203.7L201.8,195.2L203.7,204.2L205.6,200.5L207.5,208.7L209.3,200.1L211.2,207.2L213.1,209.3L214.9,201.6L216.8,202.8L218.7,194.5L220.5,213.5L222.4,200.4L224.3,193.1L226.1,194.5L228.0,204.8L229.9,208.3L231.8,206.5L233.6,202.5L235.5,204.2L237.4,202.5L239.2,200.6L241.1,209.3L243.0,210.4L244.8,211.1L246.7,213.4L248.6,206.3L250.5,203.9L252.3,191.9L254.2,203.4L256.1,207.9L257.9,199.3L259.8,212.0L261.7,204.3L263.5,201.5L265.4,200.9L267.3,202.7L269.2,208.1L271.0,212.6L272.9,206.8L274.8,211.5L276.6,202.9L278.5,208.4L280.4,205.7L282.2,218.1L284.1,203.4L286.0,213.5L287.9,218.1L289.7,217.0L291.6,211.7L293.5,202.8L295.3,204.9L297.2,214.0L299.1,208.1L300.9,208.5L302.8,217.8L304.7,214.7L306.6,220.4L308.4,214.4L310.3,224.0L312.2,213.2L314.0,214.2L315.9,214.3L317.8,212.6L319.6,204.5L321.5,210.1L323.4,208.6L325.2,205.1L327.1,205.8L329.0,206.7L330.9,212.4L332.7,217.5L334.6,216.3L336.5,213.6L338.3,210.8L340.2,211.4L342.1,204.2L343.9,212.2L345.8,200.4L347.7,205.0L349.6,213.5L351.4,206.3L353.3,227.9L355.2,205.3L357.0,210.4L358.9,211.6L360.8,223.6L362.6,198.0L364.5,215.3L366.4,214.6L368.3,207.4L370.1,215.5L372.0,219.9L373.9,210.0L375.7,221.2L377.6,212.1L379.5,214.6L381.3,208.2L383.2,224.6L385.1,209.7L387.0,214.3L388.8,204.4L390.7,221.8L392.6,204.6L394.4,214.3L396.3,213.4L398.2,224.1L400.0,215.0" stroke="#FF0000" stroke-width="1.6" fill="none" stroke-linecap="square" stroke-linejoin="round"/><path d="M82.2,198.5L84.0,208.2L85.9,210.1L87.8,207.6L89.7,194.6L91.5,202.6L93.4,198.9L95.3,204.1L97.1,203.4L99.0,202.1L100.9,206.2L102.7,196.6L104.6,203.3L106.5,202.7L108.4,213.5L110.2,203.2L112.1,207.2L114.0,206.2L115.8,195.9L117.7,209.2L119.6,203.4L121.4,199.6L123.3,195.8L125.2,207.0L127.0,202.0L128.9,202.0L130.8,208.8L132.7,216.1L134.5,215.1L136.4,199.9L138.3,201.7L140.1,210.9L142.0,206.3L143.9,204.0L145.7,204.1L147.6,199.8L149.5,188.1L151.4,207.7L153.2,202.1L155.1,208.1L157.0,207.7L158.8,209.1L160.7,204.2L162.6,207.0L164.4,202.4L166.3,201.1L168.2,209.3L170.1,192.0L171.9,209.8L173.8,202.5L175.7,190.8L177.5,205.6L179.4,193.3L181.3,192.2L183.1,198.2L185.0,213.2L186.9,194.7L188.8,203.2L190.6,207.6L192.5,195.5L194.4,208.1L196.2,196.2L198.1,205.3L200.0,197.2L201.8,207.9L203.7,204.9L205.6,209.5L207.5,208.6L209.3,201.7L211.2,204.2L213.1,203.2L214.9,194.7L216.8,203.8L218.7,214.1L220.5,205.6L222.4,203.0L224.3,196.7L226.1,196.5L228.0,196.9L229.9,205.7L231.8,199.8L233.6,212.7L235.5,197.8L237.4,202.0L239.2,201.1L241.1,205.3L243.0,203.4L244.8,207.9L246.7,202.3L248.6,213.5L250.5,200.1L252.3,203.6L254.2,194.7L256.1,208.2L257.9,208.1L259.8,206.6L261.7,206.0L263.5,207.8L265.4,211.9L267.3,211.5L269.2,209.3L271.0,207.1L272.9,212.7L274.8,214.7L276.6,208.4L278.5,203.5L280.4,209.9L282.2,205.4L284.1,203.4L286.0,204.6L287.9,211.8L289.7,211.7L291.6,218.3L293.5,212.4L295.3,206.2L297.2,213.5L299.1,201.5L300.9,200.5L302.8,211.6L304.7,204.9L306.6,217.2L308.4,215.3L310.3,212.6L312.2,209.2L314.0,210.5L315.9,214.6L317.8,198.8L319.6,208.9L321.5,206.9L323.4,206.4L325.2,208.1L327.1,211.6L329.0,213.2L330.9,218.0L332.7,203.7L334.6,217.0L336.5,220.0L338.3,215.2L340.2,219.7L342.1,199.3L343.9,209.6L345.8,202.6L347.7,202.6L349.6,207.5L351.4,208.0L353.3,215.4L355.2,213.8L357.0,216.3L358.9,213.7L360.8,217.7L362.6,205.6L364.5,209.1L366.4,214.4L368.3,224.6L370.1,210.1L372.0,209.1L373.9,214.6L375.7,222.8L377.6,214.1L379.5,208.8L381.3,227.8L383.2,213.1L385.1,229.7L387.0,215.7L388.8,205.9L390.7,216.8L392.6,213.8L394.4,221.2L396.3,218.8L398.2,203.2L400.0,209.7" stroke="#FF0000" stroke-width="1.6" fill="none" stroke-linecap="square" stroke-linejoin="round"/><path d="M82.2,204.5L84.0,205.4L85.9,202.9L87.8,189.5L89.7,202.3L91.5,196.8L93.4,206.8L95.3,213.6L97.1,196.0L99.0,203.9L100.9,208.4L102.7,208.2L104.6,208.4L106.5,207.7L108.4,214.4L110.2,197.8L112.1,200.8L114.0,197.3L115.8,204.2L117.7,200.5L119.6,201.2L121.4,196.3L123.3,197.9L125.2,201.7L127.0,207.8L128.9,210.9L130.8,206.8L132.7,207.1L134.5,206.7L136.4,210.9L138.3,192.3L140.1,201.3L142.0,214.5L143.9,208.1L145.7,209.9L147.6,198.2L149.5,194.9L151.4,208.9L153.2,199.2L155.1,205.2L157.0,197.1L158.8,195.7L160.7,201.0L162.6,199.4L164.4,204.5L166.3,204.6L168.2,210.9L170.1,201.5L171.9,203.2L173.8,206.8L175.7,204.1L177.5,202.4L179.4,207.3L181.3,203.7L183.1,193.5L185.0,203.6L186.9,194.9L188.8,210.5L190.6,212.4L192.5,202.3L194.4,199.3L196.2,206.4L198.1,198.4L200.0,194.9L201.8,195.2L203.7,203.2L205.6,204.4L207.5,214.0L209.3,202.6L211.2,201.6L213.1,196.0L214.9,209.7L216.8,208.1L218.7,209.0L220.5,198.7L222.4,218.1L224.3,208.9L226.1,190.5L228.0,198.7L229.9,212.0L231.8,203.9L233.6,199.4L235.5,202.1L237.4,205.9L239.2,208.7L241.1,198.2L243.0,203.8L244.8,199.3L246.7,203.3L248.6,208.4L250.5,197.4L252.3,209.6L254.2,204.0L256.1,211.6L257.9,208.9L259.8,209.2L261.7,210.0L263.5,205.8L265.4,198.0L267.3,194.4L269.2,197.8L271.0,206.4L272.9,197.7L274.8,205.8L276.6,196.7L278.5,214.7L280.4,200.6L282.2,212.4L284.1,202.4L286.0,211.3L287.9,204.6L289.7,211.0L291.6,218.2L293.5,213.9L295.3,210.0L297.2,207.7L299.1,220.1L300.9,214.1L302.8,213.4L304.7,210.7L306.6,208.9L308.4,214.1L310.3,218.2L312.2,207.7L314.0,211.2L315.9,206.1L317.8,211.0L319.6,207.1L321.5,212.7L323.4,208.5L325.2,208.5L327.1,208.1L329.0,215.1L330.9,210.1L332.7,216.1L334.6,213.0L336.5,207.7L338.3,194.8L340.2,210.7L342.1,206.4L343.9,211.0L345.8,204.2L347.7,208.2L349.6,204.8L351.4,209.2L353.3,197.5L355.2,205.4L357.0,222.6L358.9,212.2L360.8,213.1L362.6,226.3L364.5,218.8L366.4,216.5L368.3,218.8L370.1,213.5L372.0,225.6L373.9,209.5L375.7,210.0L377.6,214.6L379.5,217.5L381.3,215.4L383.2,219.7L385.1,210.5L387.0,212.9L388.8,204.4L390.7,219.8L392.6,207.4L394.4,222.8L396.3,219.9L398.2,226.0L400.0,215.2" stroke="#FF0000" stroke-width="1.6" fill="none" stroke-linecap="square" stroke-linejoin="round"/><path d="M82.2,202.9L84.0,199.4L85.9,194.0L87.8,203.2L89.7,201.2L91.5,198.1L93.4,204.9L95.3,209.1L97.1,201.9L99.0,200.4L100.9,199.0L102.7,199.0L104.6,208.3L106.5,201.4L108.4,197.8L110.2,207.8L112.1,200.9L114.0,206.8L115.8,201.1L117.7,192.3L119.6,201.1L121.4,209.1L123.3,200.7L125.2,202.6L127.0,197.2L128.9,211.8L130.8,207.4L132.7,203.7L134.5,212.6L136.4,196.8L138.3,214.2L140.1,207.7L142.0,211.1L143.9,205.4L145.7,197.2L147.6,196.1L149.5,195.8L151.4,199.4L153.2,214.8L155.1,201.7L157.0,214.7L158.8,206.7L160.7,205.1L162.6,206.8L164.4,201.6L166.3,207.1L168.2,193.8L170.1,199.9L171.9,195.9L173.8,200.1L175.7,198.4L177.5,201.5L179.4,189.7L181.3,206.7L183.1,197.5L185.0,202.2L186.9,204.3L188.8,201.8L190.6,208.7L192.5,198.0L194.4,199.2L196.2,201.9L198.1,197.8L200.0,206.3L201.8,212.0L203.7,205.9L205.6,205.4L207.5,189.9L209.3,204.0L211.2,197.2L213.1,199.4L214.9,190.0L216.8,202.4L218.7,199.4L220.5,205.0L222.4,208.4L224.3,208.4L226.1,207.0L228.0,194.2L229.9,202.6L231.8,204.4L233.6,204.1L235.5,208.5L237.4,204.7L239.2,204.3L241.1,199.3L243.0,198.5L244.8,213.3L246.7,204.2L248.6,197.8L250.5,211.5L252.3,208.1L254.2,205.5L256.1,201.6L257.9,204.1L259.8,209.0L261.7,203.3L263.5,201.2L265.4,203.2L267.3,194.4L269.2,203.6L271.0,211.3L272.9,210.3L274.8,208.8L276.6,207.9L278.5,204.2L280.4,206.8L282.2,199.7L284.1,204.3L286.0,200.8L287.9,213.5L289.7,211.7L291.6,204.6L293.5,208.2L295.3,205.4L297.2,206.4L299.1,211.7L300.9,199.2L302.8,203.8L304.7,217.3L306.6,213.0L308.4,209.9L310.3,207.3L312.2,209.5L314.0,216.1L315.9,206.3L317.8,209.4L319.6,204.4L321.5,206.8L323.4,204.8L325.2,204.7L327.1,205.9L329.0,212.8L330.9,204.1L332.7,210.5L334.6,218.5L336.5,213.0L338.3,212.5L340.2,208.3L342.1,206.5L343.9,217.6L345.8,206.4L347.7,211.1L349.6,216.5L351.4,206.4L353.3,215.4L355.2,220.0L357.0,208.3L358.9,208.6L360.8,217.2L362.6,206.9L364.5,207.6L366.4,216.7L368.3,202.2L370.1,214.5L372.0,213.1L373.9,228.6L375.7,210.7L377.6,220.5L379.5,212.6L381.3,226.1L383.2,209.3L385.1,208.4L387.0,203.9L388.8,236.3L390.7,213.5L392.6,214.6L394.4,238.7L396.3,223.4L398.2,219.5L400.0,209.1" stroke="#FF0000" stroke-width="1.6" fill="none" stroke-linecap="square" stroke-linejoin="round"/><path d="M82.2,207.4L84.0,201.7L85.9,203.1L87.8,200.5L89.7,205.7L91.5,198.0L93.4,198.6L95.3,213.7L97.1,197.2L99.0,207.7L100.9,205.1L102.7,197.2L104.6,203.5L106.5,200.4L108.4,200.2L110.2,201.3L112.1,206.0L114.0,208.5L115.8,197.9L117.7,197.9L119.6,199.8L121.4,204.2L123.3,197.4L125.2,203.8L127.0,211.7L128.9,201.8L130.8,198.8L132.7,198.4L134.5,208.5L136.4,207.6L138.3,200.0L140.1,205.2L142.0,202.5L143.9,195.8L145.7,199.3L147.6,188.7L149.5,199.3L151.4,192.7L153.2,196.4L155.1,188.3L157.0,203.5L158.8,203.9L160.7,194.9L162.6,206.3L164.4,206.8L166.3,200.6L168.2,201.4L170.1,211.1L171.9,200.9L173.8,205.9L175.7,203.4L177.5,199.8L179.4,201.9L181.3,193.9L183.1,197.0L185.0,202.8L186.9,202.1L188.8,197.2L190.6,199.4L192.5,195.3L194.4,204.1L196.2,201.2L198.1,190.0L200.0,200.0L201.8,191.3L203.7,197.2L205.6,206.0L207.5,211.8L209.3,198.5L211.2,206.7L213.1,207.8L214.9,211.6L216.8,195.8L218.7,202.0L220.5,203.2L222.4,200.6L224.3,200.7L226.1,201.4L228.0,199.0L229.9,205.3L231.8,217.7L233.6,199.5L235.5,202.3L237.4,203.8L239.2,194.5L241.1,210.4L243.0,219.6L244.8,194.9L246.7,202.6L248.6,214.4L250.5,207.5L252.3,202.6L254.2,212.8L256.1,204.2L257.9,195.0L259.8,199.3L261.7,205.8L263.5,204.7L265.4,210.3L267.3,203.7L269.2,207.3L271.0,210.4L272.9,212.8L274.8,196.9L276.6,205.7L278.5,212.7L280.4,210.5L282.2,200.5L284.1,199.5L286.0,211.5L287.9,208.0L289.7,204.3L291.6,209.5L293.5,214.3L295.3,213.2L297.2,207.2L299.1,211.9L300.9,213.9L302.8,210.3L304.7,204.5L306.6,206.1L308.4,210.6L310.3,200.9L312.2,212.5L314.0,209.5L315.9,216.4L317.8,204.2L319.6,210.4L321.5,216.1L323.4,213.4L325.2,199.5L327.1,206.3L329.0,209.2L330.9,204.5L332.7,219.4L334.6,215.9L336.5,217.5L338.3,214.7L340.2,212.4L342.1,206.9L343.9,205.7L345.8,204.6L347.7,195.5L349.6,212.9L351.4,210.8L353.3,207.8L355.2,217.5L357.0,213.9L358.9,211.1L360.8,218.1L362.6,209.9L364.5,205.9L366.4,219.8L368.3,227.4L370.1,213.2L372.0,220.4L373.9,212.5L375.7,217.0L377.6,214.3L379.5,207.9L381.3,209.8L383.2,218.5L385.1,224.7L387.0,231.5L388.8,230.8L390.7,222.0L392.6,215.8L394.4,222.9L396.3,222.2L398.2,229.1L400.0,229.3" stroke="#FF0000" stroke-width="1.6" fill="none" stroke-linecap="square" stroke-linejoin="round"/><path d="M82.2,212.4L84.0,199.0L85.9,214.3L87.8,198.5L89.7,208.5L91.5,200.0L93.4,202.9L95.3,201.1L97.1,196.8L99.0,207.8L100.9,209.2L102.7,206.4L104.6,208.7L106.5,200.0L108.4,205.6L110.2,204.9L112.1,200.5L114.0,205.8L115.8,195.6L117.7,213.3L119.6,200.8L121.4,200.4L123.3,207.2L125.2,207.9L127.0,198.5L128.9,205.5L130.8,213.2L132.7,211.1L134.5,197.6L136.4,208.6L138.3,194.6L140.1,194.9L142.0,203.6L143.9,198.4L145.7,206.7L147.6,202.0L149.5,205.3L151.4,199.6L153.2,210.4L155.1,204.3L157.0,203.6L158.8,200.8L160.7,215.2L162.6,214.1L164.4,209.6L166.3,203.7L168.2,203.2L170.1,202.3L171.9,191.2L173.8,200.8L175.7,200.3L177.5,204.2L179.4,196.7L181.3,196.6L183.1,196.4L185.0,202.9L186.9,199.5L188.8,195.0L190.6,209.1L192.5,215.6L194.4,199.2L196.2,198.4L198.1,203.5L200.0,203.0L201.8,185.8L203.7,205.3L205.6,211.2L207.5,207.2L209.3,200.0L211.2,206.8L213.1,206.6L214.9,200.6L216.8,205.7L218.7,202.5L220.5,204.2L222.4,209.6L224.3,202.3L226.1,209.2L228.0,197.3L229.9,209.7L231.8,205.0L233.6,214.7L235.5,208.0L237.4,211.8L239.2,195.7L241.1,203.8L243.0,200.9L244.8,214.0L246.7,212.7L248.6,206.8L250.5,213.5L252.3,200.4L254.2,208.9L256.1,207.2L257.9,206.0L259.8,208.7L261.7,202.0L263.5,211.1L265.4,203.6L267.3,198.4L269.2,205.0L271.0,204.8L272.9,207.9L274.8,207.9L276.6,203.2L278.5,209.1L280.4,218.0L282.2,208.4L284.1,209.7L286.0,206.5L287.9,209.5L289.7,201.4L291.6,214.7L293.5,213.9L295.3,205.5L297.2,213.1L299.1,207.0L300.9,208.1L302.8,219.6L304.7,206.5L306.6,203.4L308.4,209.2L310.3,217.6L312.2,205.5L314.0,214.7L315.9,211.1L317.8,206.6L319.6,214.2L321.5,216.7L323.4,210.7L325.2,209.4L327.1,214.8L329.0,214.3L330.9,205.8L332.7,212.3L334.6,214.7L336.5,214.3L338.3,210.1L340.2,210.6L342.1,211.4L343.9,219.3L345.8,212.7L347.7,214.4L349.6,210.5L351.4,205.1L353.3,206.1L355.2,210.0L357.0,212.3L358.9,216.0L360.8,211.8L362.6,216.2L364.5,215.9L366.4,218.9L368.3,214.9L370.1,215.0L372.0,203.9L373.9,211.0L375.7,217.3L377.6,212.3L379.5,218.6L381.3,209.5L383.2,212.2L385.1,200.1L387.0,223.2L388.8,218.1L390.7,218.4L392.6,215.3L394.4,214.7L396.3,225.3L398.2,224.0L400.0,217.1" stroke="#FF0000" stroke-width="1.6" fill="none" stroke-linecap="square" stroke-linejoin="round"/><path d="M82.2,197.2L84.0,209.8L85.9,212.2L87.8,196.5L89.7,198.9L91.5,197.5L93.4,210.4L95.3,207.2L97.1,203.0L99.0,201.1L100.9,204.6L102.7,204.5L104.6,198.7L106.5,206.8L108.4,208.5L110.2,207.7L112.1,206.2L114.0,202.6L115.8,203.6L117.7,205.3L119.6,194.3L121.4,201.9L123.3,204.9L125.2,196.9L127.0,207.2L128.9,203.9L130.8,202.7L132.7,206.7L134.5,205.9L136.4,203.2L138.3,210.6L140.1,205.3L142.0,201.2L143.9,200.2L145.7,200.4L147.6,186.7L149.5,197.7L151.4,204.0L153.2,203.8L155.1,203.7L157.0,201.7L158.8,205.7L160.7,194.6L162.6,210.0L164.4,201.2L166.3,199.8L168.2,210.6L170.1,200.1L171.9,199.9L173.8,208.3L175.7,191.0L177.5,197.6L179.4,203.2L181.3,203.4L183.1,204.6L185.0,201.0L186.9,202.9L188.8,211.7L190.6,210.4L192.5,207.2L194.4,206.3L196.2,204.7L198.1,206.0L200.0,197.0L201.8,196.5L203.7,202.4L205.6,216.4L207.5,205.4L209.3,199.9L211.2,203.9L213.1,203.0L214.9,201.9L216.8,211.5L218.7,217.2L220.5,200.7L222.4,206.5L224.3,200.6L226.1,204.4L228.0,203.7L229.9,197.1L231.8,210.3L233.6,204.5L235.5,211.5L237.4,204.4L239.2,201.7L241.1,199.7L243.0,203.2L244.8,211.7L246.7,204.5L248.6,201.1L250.5,200.6L252.3,195.3L254.2,203.7L256.1,213.7L257.9,210.6L259.8,207.5L261.7,200.8L263.5,213.5L265.4,200.8L267.3,201.8L269.2,210.9L271.0,202.4L272.9,210.2L274.8,208.4L276.6,208.6L278.5,206.7L280.4,215.1L282.2,206.6L284.1,220.1L286.0,211.1L287.9,212.6L289.7,201.8L291.6,205.8L293.5,211.4L295.3,213.3L297.2,207.8L299.1,211.8L300.9,197.3L302.8,223.2L304.7,209.5L306.6,221.8L308.4,205.4L310.3,214.6L312.2,202.0L314.0,212.3L315.9,205.7L317.8,207.7L319.6,205.0L321.5,208.4L323.4,224.1L325.2,212.6L327.1,218.1L329.0,205.9L330.9,207.0L332.7,211.8L334.6,210.1L336.5,210.2L338.3,213.9L340.2,201.1L342.1,209.3L343.9,212.9L345.8,218.4L347.7,214.3L349.6,210.9L351.4,212.4L353.3,214.0L355.2,213.8L357.0,219.1L358.9,214.1L360.8,222.3L362.6,218.3L364.5,218.1L366.4,209.0L368.3,211.8L370.1,214.1L372.0,221.5L373.9,216.7L375.7,210.4L377.6,209.6L379.5,224.5L381.3,218.3L383.2,216.4L385.1,216.0L387.0,216.4L388.8,213.5L390.7,226.6L392.6,207.6L394.4,226.4L396.3,218.6L398.2,216.0L400.0,211.6" stroke="#FF0000" stroke-width="1.6" fill="none" stroke-linecap="square" stroke-linejoin="round"/><path d="M82.2,197.7L84.0,198.4L85.9,196.0L87.8,203.9L89.7,199.5L91.5,195.0L93.4,209.1L95.3,214.0L97.1,209.9L99.0,195.6L100.9,196.8L102.7,206.2L104.6,203.1L106.5,201.5L108.4,199.4L110.2,215.8L112.1,206.4L114.0,204.8L115.8,200.5L117.7,202.3L119.6,204.1L121.4,201.9L123.3,217.3L125.2,186.7L127.0,199.4L128.9,198.9L130.8,205.8L132.7,201.1L134.5,192.1L136.4,193.4L138.3,202.0L140.1,210.0L142.0,201.6L143.9,203.4L145.7,197.3L147.6,206.9L149.5,202.4L151.4,201.6L153.2,205.7L155.1,197.7L157.0,210.4L158.8,210.8L160.7,204.9L162.6,199.2L164.4,206.3L166.3,205.8L168.2,199.6L170.1,202.3L171.9,205.9L173.8,204.0L175.7,205.1L177.5,198.0L179.4,200.5L181.3,205.1L183.1,203.0L185.0,204.6L186.9,201.1L188.8,201.7L190.6,209.1L192.5,204.2L194.4,202.2L196.2,196.6L198.1,200.8L200.0,189.6L201.8,201.5L203.7,198.6L205.6,206.0L207.5,210.0L209.3,202.3L211.2,200.6L213.1,202.6L214.9,201.6L216.8,205.1L218.7,207.8L220.5,205.7L222.4,201.0L224.3,197.5L226.1,220.7L228.0,199.3L229.9,198.5L231.8,196.8L233.6,202.3L235.5,201.8L237.4,207.1L239.2,204.7L241.1,200.3L243.0,209.9L244.8,208.4L246.7,204.6L248.6,213.1L250.5,205.6L252.3,214.9L254.2,205.6L256.1,207.9L257.9,210.8L259.8,213.0L261.7,209.1L263.5,219.4L265.4,207.8L267.3,204.5L269.2,199.6L271.0,208.3L272.9,207.0L274.8,200.8L276.6,197.7L278.5,210.4L280.4,203.4L282.2,203.1L284.1,206.2L286.0,214.0L287.9,214.4L289.7,206.7L291.6,196.6L293.5,209.8L295.3,201.0L297.2,198.5L299.1,214.8L300.9,210.9L302.8,202.5L304.7,205.0L306.6,207.5L308.4,210.2L310.3,207.8L312.2,212.2L314.0,198.1L315.9,215.8L317.8,216.9L319.6,209.7L321.5,201.6L323.4,212.3L325.2,209.3L327.1,215.5L329.0,210.7L330.9,214.6L332.7,216.8L334.6,219.6L336.5,213.9L338.3,201.4L340.2,211.3L342.1,209.4L343.9,200.1L345.8,213.9L347.7,216.2L349.6,208.0L351.4,218.0L353.3,209.5L355.2,207.1L357.0,218.9L358.9,217.0L360.8,204.1L362.6,219.4L364.5,217.7L366.4,212.5L368.3,216.3L370.1,219.4L372.0,205.3L373.9,217.7L375.7,213.0L377.6,219.4L379.5,217.0L381.3,223.9L383.2,211.3L385.1,220.6L387.0,208.5L388.8,224.8L390.7,220.6L392.6,214.1L394.4,218.5L396.3,223.1L398.2,220.1L400.0,227.3" stroke="#FF0000" stroke-width="1.6" fill="none" stroke-linecap="square" stroke-linejoin="round"/><path d="M82.2,202.4L84.0,218.4L85.9,202.1L87.8,195.2L89.7,198.5L91.5,198.8L93.4,207.1L95.3,203.2L97.1,206.5L99.0,204.1L100.9,204.4L102.7,223.4L104.6,199.2L106.5,201.6L108.4,200.5L110.2,210.6L112.1,199.3L114.0,200.5L115.8,215.0L117.7,212.7L119.6,202.0L121.4,207.3L123.3,203.0L125.2,207.6L127.0,195.5L128.9,214.6L130.8,209.8L132.7,208.9L134.5,211.4L136.4,206.9L138.3,202.6L140.1,210.6L142.0,200.5L143.9,194.3L145.7,195.8L147.6,188.4L149.5,195.0L151.4,203.3L153.2,193.0L155.1,199.6L157.0,193.5L158.8,205.0L160.7,214.8L162.6,210.3L164.4,203.6L166.3,199.4L168.2,205.2L170.1,197.9L171.9,209.3L173.8,208.6L175.7,198.2L177.5,201.1L179.4,200.7L181.3,192.8L183.1,194.2L185.0,206.7L186.9,202.0L188.8,213.3L190.6,204.5L192.5,200.9L194.4,213.5L196.2,193.9L198.1,191.0L200.0,197.6L201.8,196.4L203.7,194.2L205.6,205.1L207.5,198.6L209.3,200.6L211.2,211.7L213.1,209.3L214.9,205.4L216.8,197.2L218.7,202.6L220.5,198.5L222.4,206.0L224.3,209.7L226.1,191.1L228.0,187.5L229.9,202.2L231.8,204.7L233.6,197.7L235.5,211.4L237.4,205.7L239.2,212.0L241.1,200.4L243.0,202.4L244.8,206.2L246.7,209.1L248.6,214.1L250.5,210.3L252.3,200.0L254.2,208.4L256.1,201.0L257.9,212.3L259.8,208.2L261.7,208.7L263.5,208.6L265.4,201.3L267.3,216.3L269.2,202.0L271.0,201.6L272.9,205.9L274.8,207.7L276.6,207.9L278.5,204.0L280.4,208.5L282.2,213.5L284.1,207.9L286.0,203.9L287.9,207.6L289.7,209.4L291.6,207.2L293.5,211.3L295.3,211.0L297.2,217.1L299.1,209.4L300.9,203.1L302.8,211.6L304.7,214.0L306.6,205.7L308.4,209.2L310.3,210.0L312.2,207.0L314.0,206.3L315.9,210.6L317.8,212.3L319.6,202.2L321.5,208.0L323.4,213.5L325.2,208.1L327.1,204.6L329.0,217.2L330.9,203.0L332.7,212.3L334.6,202.1L336.5,207.6L338.3,211.4L340.2,204.4L342.1,203.7L343.9,213.5L345.8,209.2L347.7,213.5L349.6,205.8L351.4,218.8L353.3,212.1L355.2,225.0L357.0,209.5L358.9,226.3L360.8,219.4L362.6,211.7L364.5,215.7L366.4,216.3L368.3,219.9L370.1,217.0L372.0,224.8L373.9,212.2L375.7,210.0L377.6,212.2L379.5,215.7L381.3,208.1L383.2,214.0L385.1,212.0L387.0,213.8L388.8,217.2L390.7,222.1L392.6,233.4L394.4,215.0L396.3,219.5L398.2,206.5L400.0,231.4" stroke="#FF0000" stroke-width="1.6" fill="none" stroke-linecap="square" stroke-linejoin="round"/><path d="M82.2,197.8L84.0,208.5L85.9,203.0L87.8,207.9L89.7,201.5L91.5,203.7L93.4,199.6L95.3,205.0L97.1,201.3L99.0,196.2L100.9,200.7L102.7,204.8L104.6,197.3L106.5,204.7L108.4,202.8L110.2,206.9L112.1,206.8L114.0,220.0L115.8,198.2L117.7,209.0L119.6,198.0L121.4,193.2L123.3,210.1L125.2,198.9L127.0,204.4L128.9,201.1L130.8,208.7L132.7,203.1L134.5,202.6L136.4,195.5L138.3,190.2L140.1,201.1L142.0,204.4L143.9,189.2L145.7,202.5L147.6,199.9L149.5,200.7L151.4,200.4L153.2,198.9L155.1,206.7L157.0,204.5L158.8,193.3L160.7,193.9L162.6,201.1L164.4,202.9L166.3,203.6L168.2,198.2L170.1,206.2L171.9,202.1L173.8,207.0L175.7,207.0L177.5,201.0L179.4,201.1L181.3,203.7L183.1,200.5L185.0,201.8L186.9,205.6L188.8,207.2L190.6,205.1L192.5,199.1L194.4,197.7L196.2,201.4L198.1,203.5L200.0,200.4L201.8,190.9L203.7,197.5L205.6,209.2L207.5,204.6L209.3,205.6L211.2,205.1L213.1,213.4L214.9,202.0L216.8,210.5L218.7,206.3L220.5,195.5L222.4,197.9L224.3,207.3L226.1,208.1L228.0,207.4L229.9,214.5L231.8,208.8L233.6,205.6L235.5,210.9L237.4,200.4L239.2,204.3L241.1,205.8L243.0,194.1L244.8,200.0L246.7,205.1L248.6,195.6L250.5,198.5L252.3,210.4L254.2,204.7L256.1,210.2L257.9,215.3L259.8,197.4L261.7,198.0L263.5,213.9L265.4,202.7L267.3,213.8L269.2,200.1L271.0,205.6L272.9,207.4L274.8,201.3L276.6,206.6L278.5,208.9L280.4,204.0L282.2,210.6L284.1,204.2L286.0,208.7L287.9,205.2L289.7,206.2L291.6,204.2L293.5,213.7L295.3,199.3L297.2,208.5L299.1,199.8L300.9,210.7L302.8,210.9L304.7,210.8L306.6,204.4L308.4,212.0L310.3,208.7L312.2,216.4L314.0,211.7L315.9,209.3L317.8,208.9L319.6,219.0L321.5,205.9L323.4,214.4L325.2,199.6L327.1,211.3L329.0,199.1L330.9,206.1L332.7,209.3L334.6,214.4L336.5,211.5L338.3,208.4L340.2,220.8L342.1,205.0L343.9,217.7L345.8,211.8L347.7,225.3L349.6,208.2L351.4,207.1L353.3,209.5L355.2,211.5L357.0,214.7L358.9,213.0L360.8,206.6L362.6,215.5L364.5,210.7L366.4,209.5L368.3,215.6L370.1,212.8L372.0,213.2L373.9,217.0L375.7,200.2L377.6,219.3L379.5,205.0L381.3,208.9L383.2,229.1L385.1,216.2L387.0,209.7L388.8,212.2L390.7,223.0L392.6,215.3L394.4,226.5L396.3,225.3L398.2,220.5L400.0,217.5" stroke="#FF0000" stroke-width="1.6" fill="none" stroke-linecap="square" stroke-linejoin="round"/><path d="M82.2,193.2L84.0,200.9L85.9,196.8L87.8,209.7L89.7,210.1L91.5,206.2L93.4,194.4L95.3,213.5L97.1,213.1L99.0,203.8L100.9,196.7L102.7,213.3L104.6,205.7L106.5,211.8L108.4,196.7L110.2,201.0L112.1,201.4L114.0,203.3L115.8,203.4L117.7,201.7L119.6,205.8L121.4,208.4L123.3,209.0L125.2,203.7L127.0,208.4L128.9,198.6L130.8,213.9L132.7,199.9L134.5,200.4L136.4,196.5L138.3,203.6L140.1,211.4L142.0,207.6L143.9,195.1L145.7,203.6L147.6,201.9L149.5,204.5L151.4,203.3L153.2,204.2L155.1,212.3L157.0,207.3L158.8,198.0L160.7,194.6L162.6,204.3L164.4,207.4L166.3,194.7L168.2,204.9L170.1,210.0L171.9,203.5L173.8,200.6L175.7,194.8L177.5,204.0L179.4,198.1L181.3,202.4L183.1,193.7L185.0,200.7L186.9,201.5L188.8,209.2L190.6,206.1L192.5,204.9L194.4,224.1L196.2,197.7L198.1,202.1L200.0,201.5L201.8,203.5L203.7,202.4L205.6,202.7L207.5,211.6L209.3,202.0L211.2,202.5L213.1,204.1L214.9,210.5L216.8,203.9L218.7,210.3L220.5,201.9L222.4,196.0L224.3,197.7L226.1,204.4L228.0,205.5L229.9,207.4L231.8,201.6L233.6,207.9L235.5,208.3L237.4,218.5L239.2,208.8L241.1,207.4L243.0,206.7L244.8,197.2L246.7,213.1L248.6,213.1L250.5,202.4L252.3,212.1L254.2,207.4L256.1,207.0L257.9,207.5L259.8,212.0L261.7,201.1L263.5,198.8L265.4,211.0L267.3,206.5L269.2,200.8L271.0,206.5L272.9,211.3L274.8,210.4L276.6,202.3L278.5,213.0L280.4,207.4L282.2,207.1L284.1,212.1L286.0,205.8L287.9,206.1L289.7,204.4L291.6,203.5L293.5,216.3L295.3,204.2L297.2,204.8L299.1,203.7L300.9,212.1L302.8,205.2L304.7,207.8L306.6,215.6L308.4,203.9L310.3,214.4L312.2,214.0L314.0,207.7L315.9,213.2L317.8,206.7L319.6,211.5L321.5,206.9L323.4,205.9L325.2,209.1L327.1,206.1L329.0,206.0L330.9,213.6L332.7,207.3L334.6,208.9L336.5,210.3L338.3,205.0L340.2,202.2L342.1,206.2L343.9,219.4L345.8,208.1L347.7,211.5L349.6,212.1L351.4,209.3L353.3,212.9L355.2,204.2L357.0,211.2L358.9,213.8L360.8,209.0L362.6,208.6L364.5,206.8L366.4,210.0L368.3,214.5L370.1,213.4L372.0,227.3L373.9,222.8L375.7,208.5L377.6,218.7L379.5,204.4L381.3,204.4L383.2,224.4L385.1,215.8L387.0,198.1L388.8,222.2L390.7,214.9L392.6,218.4L394.4,220.5L396.3,220.5L398.2,219.1L400.0,213.7" stroke="#FF0000" stroke-width="1.6" fill="none" stroke-linecap="square" stroke-linejoin="round"/><path d="M400.0,223.9L401.9,217.8L403.8,224.0L405.7,217.7L407.5,218.3L409.4,224.4L411.3,221.2L413.1,224.9L415.0,226.3L416.9,215.4L418.7,232.0L420.6,219.2L422.5,219.2L424.3,225.8L426.2,216.8L428.1,216.7L430.0,227.9L431.8,218.5L433.7,219.6L435.6,225.9L437.4,218.5L439.3,219.5L441.2,228.0L443.0,234.4L444.9,221.9L446.8,228.5L448.7,234.1L450.5,226.9L452.4,237.1L454.3,227.4L456.1,215.5L458.0,241.1L459.9,222.8L461.7,230.9L463.6,228.9L465.5,231.5L467.4,221.4L469.2,224.7L471.1,231.0L473.0,232.8L474.8,228.9L476.7,221.0L478.6,232.6L480.4,223.4L482.3,225.6L484.2,238.5L486.1,221.3L487.9,228.0L489.8,214.9L491.7,217.2L493.5,229.1L495.4,228.0L497.3,232.1L499.1,235.6L501.0,223.2L502.9,229.3L504.8,229.1L506.6,228.1L508.5,223.3L510.4,222.1L512.2,228.2L514.1,228.7L516.0,228.0L517.8,217.2L519.7,241.5L521.6,234.2L523.4,226.8L525.3,228.0L527.2,222.2L529.1,220.8L530.9,217.9L532.8,234.2L534.7,225.9L536.5,230.8L538.4,223.9L540.3,229.3L542.1,224.6L544.0,233.6L545.9,227.8L547.8,231.7L549.6,230.2" stroke="#FF0000" stroke-width="1.6" fill="none" stroke-linecap="square" stroke-linejoin="round"/><path d="M400.0,221.9L401.9,226.2L403.8,213.9L405.7,218.9L407.5,213.9L409.4,225.6L411.3,232.8L413.1,224.4L415.0,222.5L416.9,217.4L418.7,216.1L420.6,215.4L422.5,214.5L424.3,218.5L426.2,222.1L428.1,225.9L430.0,216.9L431.8,224.2L433.7,226.6L435.6,218.6L437.4,220.4L439.3,218.8L441.2,227.9L443.0,216.9L444.9,222.0L446.8,225.3L448.7,228.8L450.5,230.8L452.4,231.6L454.3,217.7L456.1,231.6L458.0,221.9L459.9,226.7L461.7,228.9L463.6,229.2L465.5,227.0L467.4,219.8L469.2,221.5L471.1,226.6L473.0,233.2L474.8,236.4L476.7,216.9L478.6,231.4L480.4,234.4L482.3,221.2L484.2,235.8L486.1,223.2L487.9,222.5L489.8,225.8L491.7,221.4L493.5,235.4L495.4,233.9L497.3,227.6L499.1,228.0L501.0,228.0L502.9,225.2L504.8,230.9L506.6,239.0L508.5,224.8L510.4,228.5L512.2,223.6L514.1,216.0L516.0,228.1L517.8,225.4L519.7,234.9L521.6,222.7L523.4,227.5L525.3,227.4L527.2,223.9L529.1,234.4L530.9,225.7L532.8,227.2L534.7,220.4L536.5,239.5L538.4,229.8L540.3,218.1L542.1,231.8L544.0,231.9L545.9,218.7L547.8,214.9L549.6,228.1" stroke="#FF0000" stroke-width="1.6" fill="none" stroke-linecap="square" stroke-linejoin="round"/><path d="M400.0,223.4L401.9,223.8L403.8,222.3L405.7,225.2L407.5,224.5L409.4,219.1L411.3,221.8L413.1,218.2L415.0,221.5L416.9,228.6L418.7,217.9L420.6,220.9L422.5,226.4L424.3,224.1L426.2,220.9L428.1,221.2L430.0,221.5L431.8,217.2L433.7,216.3L435.6,223.6L437.4,221.8L439.3,229.8L441.2,224.9L443.0,220.8L444.9,219.3L446.8,223.5L448.7,225.1L450.5,228.8L452.4,222.8L454.3,231.6L456.1,223.1L458.0,225.3L459.9,230.4L461.7,223.9L463.6,227.8L465.5,223.2L467.4,227.6L469.2,222.0L471.1,218.0L473.0,224.6L474.8,222.2L476.7,230.9L478.6,227.8L480.4,236.2L482.3,228.3L484.2,233.7L486.1,226.8L487.9,239.2L489.8,232.0L491.7,226.4L493.5,225.5L495.4,236.3L497.3,228.9L499.1,213.8L501.0,223.2L502.9,227.0L504.8,242.2L506.6,232.3L508.5,224.2L510.4,226.0L512.2,225.6L514.1,222.3L516.0,228.0L517.8,224.0L519.7,239.9L521.6,213.9L523.4,231.1L525.3,232.5L527.2,220.7L529.1,224.8L530.9,223.5L532.8,233.2L534.7,227.7L536.5,225.6L538.4,235.6L540.3,231.6L542.1,230.9L544.0,231.1L545.9,232.6L547.8,235.9L549.6,226.4" stroke="#FF0000" stroke-width="1.6" fill="none" stroke-linecap="square" stroke-linejoin="round"/><path d="M400.0,218.1L401.9,214.1L403.8,220.5L405.7,224.3L407.5,228.1L409.4,219.7L411.3,223.8L413.1,209.7L415.0,209.0L416.9,213.1L418.7,227.0L420.6,230.0L422.5,224.5L424.3,227.6L426.2,214.9L428.1,221.1L430.0,223.1L431.8,221.5L433.7,215.3L435.6,227.2L437.4,219.0L439.3,231.0L441.2,225.2L443.0,227.2L444.9,222.4L446.8,223.6L448.7,218.0L450.5,221.1L452.4,227.4L454.3,232.9L456.1,228.4L458.0,227.8L459.9,226.7L461.7,230.0L463.6,220.7L465.5,221.4L467.4,226.4L469.2,227.5L471.1,228.0L473.0,225.9L474.8,226.7L476.7,236.4L478.6,228.3L480.4,236.2L482.3,227.3L484.2,223.8L486.1,233.4L487.9,226.9L489.8,230.7L491.7,230.7L493.5,216.9L495.4,222.2L497.3,224.0L499.1,230.5L501.0,225.4L502.9,229.0L504.8,224.4L506.6,232.2L508.5,227.5L510.4,229.5L512.2,236.1L514.1,218.3L516.0,224.1L517.8,233.1L519.7,238.2L521.6,231.9L523.4,234.2L525.3,232.3L527.2,237.5L529.1,232.8L530.9,228.6L532.8,227.6L534.7,240.4L536.5,229.6L538.4,234.9L540.3,236.2L542.1,231.4L544.0,233.4L545.9,224.9L547.8,225.0L549.6,230.5" stroke="#FF0000" stroke-width="1.6" fill="none" stroke-linecap="square" stroke-linejoin="round"/><path d="M400.0,223.1L401.9,210.6L403.8,209.8L405.7,218.5L407.5,221.0L409.4,214.6L411.3,214.0L413.1,223.9L415.0,211.7L416.9,222.8L418.7,216.0L420.6,225.2L422.5,222.8L424.3,225.2L426.2,222.7L428.1,216.1L430.0,225.9L431.8,223.2L433.7,219.2L435.6,224.6L437.4,210.4L439.3,231.9L441.2,209.9L443.0,227.2L444.9,218.7L446.8,215.5L448.7,221.7L450.5,232.8L452.4,226.0L454.3,225.2L456.1,220.7L458.0,220.0L459.9,219.1L461.7,217.6L463.6,232.0L465.5,221.0L467.4,234.7L469.2,223.9L471.1,232.7L473.0,235.7L474.8,221.5L476.7,227.6L478.6,220.4L480.4,234.7L482.3,234.4L484.2,228.1L486.1,231.2L487.9,227.4L489.8,230.8L491.7,228.8L493.5,234.2L495.4,220.0L497.3,228.5L499.1,234.8L501.0,223.9L502.9,225.2L504.8,225.7L506.6,226.0L508.5,229.4L510.4,228.1L512.2,240.7L514.1,236.5L516.0,235.6L517.8,227.2L519.7,223.2L521.6,228.8L523.4,231.0L525.3,222.6L527.2,231.1L529.1,224.5L530.9,226.5L532.8,237.4L534.7,227.6L536.5,228.4L538.4,235.9L540.3,236.3L542.1,236.8L544.0,221.9L545.9,216.9L547.8,224.9L549.6,220.0" stroke="#FF0000" stroke-width="1.6" fill="none" stroke-linecap="square" stroke-linejoin="round"/><path d="M400.0,227.1L401.9,212.7L403.8,209.1L405.7,211.5L407.5,225.4L409.4,214.1L411.3,222.7L413.1,214.9L415.0,225.4L416.9,221.9L418.7,225.3L420.6,219.7L422.5,223.8L424.3,216.4L426.2,218.2L428.1,219.4L430.0,221.1L431.8,223.2L433.7,222.3L435.6,217.7L437.4,221.0L439.3,222.1L441.2,224.3L443.0,224.0L444.9,227.9L446.8,235.1L448.7,221.4L450.5,221.7L452.4,229.6L454.3,214.8L456.1,230.5L458.0,219.9L459.9,224.0L461.7,224.1L463.6,220.3L465.5,221.4L467.4,224.8L469.2,230.7L471.1,233.6L473.0,224.6L474.8,217.7L476.7,222.5L478.6,226.1L480.4,223.9L482.3,223.7L484.2,217.8L486.1,231.8L487.9,223.7L489.8,225.7L491.7,231.2L493.5,233.5L495.4,220.0L497.3,224.8L499.1,229.3L501.0,227.1L502.9,222.4L504.8,226.4L506.6,218.2L508.5,228.6L510.4,231.8L512.2,228.9L514.1,233.0L516.0,230.6L517.8,221.8L519.7,220.4L521.6,224.2L523.4,228.4L525.3,234.1L527.2,234.7L529.1,226.1L530.9,228.0L532.8,233.1L534.7,231.9L536.5,220.7L538.4,223.8L540.3,230.1L542.1,228.3L544.0,222.3L545.9,226.7L547.8,227.6L549.6,237.7" stroke="#FF0000" stroke-width="1.6" fill="none" stroke-linecap="square" stroke-linejoin="round"/><path d="M400.0,229.0L401.9,231.4L403.8,232.9L405.7,220.7L407.5,218.2L409.4,225.1L411.3,219.6L413.1,218.5L415.0,222.2L416.9,230.3L418.7,213.9L420.6,214.5L422.5,226.5L424.3,211.6L426.2,222.5L428.1,226.2L430.0,223.2L431.8,232.0L433.7,224.2L435.6,231.0L437.4,215.3L439.3,221.9L441.2,231.9L443.0,220.3L444.9,233.9L446.8,223.6L448.7,222.0L450.5,224.5L452.4,230.5L454.3,226.2L456.1,224.9L458.0,225.2L459.9,217.0L461.7,216.2L463.6,217.7L465.5,230.2L467.4,229.2L469.2,224.6L471.1,224.3L473.0,237.4L474.8,230.1L476.7,217.3L478.6,233.0L480.4,230.0L482.3,231.6L484.2,224.8L486.1,227.8L487.9,229.6L489.8,235.9L491.7,223.4L493.5,227.8L495.4,231.0L497.3,226.5L499.1,223.6L501.0,236.1L502.9,236.8L504.8,232.7L506.6,232.2L508.5,244.5L510.4,230.8L512.2,221.9L514.1,229.6L516.0,222.9L517.8,245.1L519.7,230.7L521.6,220.0L523.4,220.6L525.3,231.8L527.2,233.8L529.1,226.0L530.9,235.9L532.8,232.0L534.7,238.9L536.5,229.1L538.4,229.4L540.3,221.2L542.1,227.6L544.0,233.3L545.9,229.3L547.8,236.3L549.6,228.7" stroke="#FF0000" stroke-width="1.6" fill="none" stroke-linecap="square" stroke-linejoin="round"/><path d="M400.0,220.7L401.9,218.2L403.8,214.9L405.7,232.0L407.5,218.3L409.4,216.0L411.3,228.9L413.1,210.2L415.0,225.9L416.9,208.0L418.7,217.6L420.6,216.9L422.5,221.7L424.3,216.9L426.2,228.7L428.1,226.4L430.0,232.1L431.8,218.4L433.7,226.3L435.6,217.7L437.4,218.4L439.3,231.3L441.2,220.1L443.0,222.1L444.9,223.0L446.8,221.9L448.7,224.8L450.5,224.9L452.4,218.1L454.3,231.3L456.1,230.7L458.0,229.8L459.9,219.5L461.7,227.7L463.6,215.8L465.5,244.1L467.4,229.0L469.2,227.3L471.1,225.2L473.0,218.1L474.8,227.7L476.7,233.2L478.6,221.2L480.4,217.0L482.3,242.1L484.2,224.3L486.1,225.8L487.9,232.6L489.8,230.0L491.7,225.3L493.5,227.6L495.4,228.6L497.3,233.3L499.1,226.5L501.0,231.5L502.9,227.5L504.8,230.3L506.6,226.1L508.5,222.9L510.4,226.0L512.2,224.5L514.1,235.6L516.0,226.0L517.8,227.1L519.7,233.6L521.6,228.8L523.4,245.5L525.3,228.5L527.2,231.4L529.1,241.1L530.9,226.1L532.8,233.5L534.7,227.8L536.5,231.0L538.4,226.7L540.3,230.0L542.1,231.3L544.0,226.8L545.9,224.1L547.8,241.8L549.6,228.7" stroke="#FF0000" stroke-width="1.6" fill="none" stroke-linecap="square" stroke-linejoin="round"/><path d="M400.0,222.9L401.9,226.9L403.8,212.8L405.7,215.2L407.5,226.0L409.4,226.6L411.3,217.5L413.1,224.6L415.0,223.7L416.9,233.2L418.7,222.9L420.6,215.9L422.5,225.9L424.3,223.4L426.2,213.0L428.1,216.8L430.0,212.9L431.8,218.0L433.7,215.5L435.6,231.5L437.4,226.5L439.3,233.2L441.2,211.5L443.0,222.6L444.9,224.9L446.8,228.8L448.7,230.5L450.5,240.9L452.4,211.4L454.3,226.2L456.1,223.6L458.0,233.5L459.9,225.8L461.7,223.8L463.6,227.2L465.5,223.2L467.4,229.8L469.2,223.0L471.1,221.7L473.0,222.6L474.8,224.5L476.7,228.1L478.6,231.6L480.4,222.7L482.3,229.8L484.2,233.0L486.1,223.2L487.9,237.0L489.8,230.6L491.7,222.6L493.5,222.5L495.4,229.4L497.3,226.4L499.1,225.1L501.0,228.1L502.9,232.4L504.8,224.5L506.6,226.4L508.5,226.6L510.4,221.1L512.2,226.6L514.1,230.4L516.0,227.8L517.8,217.8L519.7,234.2L521.6,229.4L523.4,234.1L525.3,227.0L527.2,236.3L529.1,225.7L530.9,224.7L532.8,234.3L534.7,234.3L536.5,238.1L538.4,229.2L540.3,236.9L542.1,233.3L544.0,232.0L545.9,232.8L547.8,224.3L549.6,219.9" stroke="#FF0000" stroke-width="1.6" fill="none" stroke-linecap="square" stroke-linejoin="round"/><path d="M400.0,231.6L401.9,225.3L403.8,218.8L405.7,226.6L407.5,223.2L409.4,219.0L411.3,214.3L413.1,214.4L415.0,223.5L416.9,221.3L418.7,224.2L420.6,223.4L422.5,229.9L424.3,232.7L426.2,225.0L428.1,216.3L430.0,216.6L431.8,232.1L433.7,223.4L435.6,225.6L437.4,220.2L439.3,230.0L441.2,218.9L443.0,224.8L444.9,220.9L446.8,219.6L448.7,235.7L450.5,226.2L452.4,215.6L454.3,225.6L456.1,218.0L458.0,223.2L459.9,228.3L461.7,224.3L463.6,220.8L465.5,219.3L467.4,216.8L469.2,231.1L471.1,222.1L473.0,233.5L474.8,227.4L476.7,228.7L478.6,222.4L480.4,224.0L482.3,220.5L484.2,231.1L486.1,222.7L487.9,225.6L489.8,227.4L491.7,233.7L493.5,224.6L495.4,225.4L497.3,222.2L499.1,228.4L501.0,229.2L502.9,225.8L504.8,224.4L506.6,223.4L508.5,216.5L510.4,230.9L512.2,216.9L514.1,244.5L516.0,223.2L517.8,233.4L519.7,218.7L521.6,232.9L523.4,223.5L525.3,234.6L527.2,235.5L529.1,223.7L530.9,224.1L532.8,233.9L534.7,215.8L536.5,231.4L538.4,220.6L540.3,236.2L542.1,235.1L544.0,229.1L545.9,234.5L547.8,226.4L549.6,241.0" stroke="#FF0000" stroke-width="1.6" fill="none" stroke-linecap="square" stroke-linejoin="round"/><path d="M400.0,218.5L401.9,223.8L403.8,225.7L405.7,219.4L407.5,221.4L409.4,222.8L411.3,217.5L413.1,219.3L415.0,219.6L416.9,214.5L418.7,222.5L420.6,217.6L422.5,225.6L424.3,219.2L426.2,219.9L428.1,224.9L430.0,229.5L431.8,228.8L433.7,227.6L435.6,218.9L437.4,222.5L439.3,225.4L441.2,221.4L443.0,219.4L444.9,216.3L446.8,227.9L448.7,221.6L450.5,220.9L452.4,229.5L454.3,225.0L456.1,229.1L458.0,226.8L459.9,223.1L461.7,235.5L463.6,231.7L465.5,231.2L467.4,224.5L469.2,229.0L471.1,224.7L473.0,230.6L474.8,229.6L476.7,224.1L478.6,224.2L480.4,225.0L482.3,227.8L484.2,221.9L486.1,219.8L487.9,229.9L489.8,231.4L491.7,232.8L493.5,218.0L495.4,232.3L497.3,234.2L499.1,226.6L501.0,221.8L502.9,234.9L504.8,227.7L506.6,235.4L508.5,231.1L510.4,218.2L512.2,227.3L514.1,229.2L516.0,228.3L517.8,227.2L519.7,230.7L521.6,234.6L523.4,236.2L525.3,217.6L527.2,233.4L529.1,221.5L530.9,233.0L532.8,222.6L534.7,225.5L536.5,230.8L538.4,218.1L540.3,235.8L542.1,231.0L544.0,234.4L545.9,233.2L547.8,231.0L549.6,234.3" stroke="#FF0000" stroke-width="1.6" fill="none" stroke-linecap="square" stroke-linejoin="round"/><path d="M400.0,221.4L401.9,211.7L403.8,230.0L405.7,227.7L407.5,225.5L409.4,222.8L411.3,216.4L413.1,216.9L415.0,219.1L416.9,220.8L418.7,208.6L420.6,228.7L422.5,229.7L424.3,222.8L426.2,221.7L428.1,223.1L430.0,225.6L431.8,228.9L433.7,223.9L435.6,226.0L437.4,224.5L439.3,229.8L441.2,216.5L443.0,221.0L444.9,213.7L446.8,227.4L448.7,224.4L450.5,226.3L452.4,224.0L454.3,227.1L456.1,224.8L458.0,236.6L459.9,227.0L461.7,222.0L463.6,237.7L465.5,228.6L467.4,221.8L469.2,217.7L471.1,227.2L473.0,223.2L474.8,216.8L476.7,220.2L478.6,228.5L480.4,229.2L482.3,221.8L484.2,226.3L486.1,230.6L487.9,229.1L489.8,225.6L491.7,228.0L493.5,229.2L495.4,228.5L497.3,235.1L499.1,218.4L501.0,220.8L502.9,219.4L504.8,227.7L506.6,226.6L508.5,223.9L510.4,222.8L512.2,238.6L514.1,225.7L516.0,234.3L517.8,229.2L519.7,233.8L521.6,218.3L523.4,226.5L525.3,229.1L527.2,221.3L529.1,228.6L530.9,233.1L532.8,230.9L534.7,231.5L536.5,229.3L538.4,224.7L540.3,231.1L542.1,230.0L544.0,223.9L545.9,227.2L547.8,223.6L549.6,228.1" stroke="#FF0000" stroke-width="1.6" fill="none" stroke-linecap="square" stroke-linejoin="round"/><path d="M400.0,226.9L401.9,226.9L403.8,229.5L405.7,214.2L407.5,217.8L409.4,222.9L411.3,227.7L413.1,219.0L415.0,222.5L416.9,220.2L418.7,226.8L420.6,228.6L422.5,214.4L424.3,228.0L426.2,223.0L428.1,214.3L430.0,231.2L431.8,217.6L433.7,221.9L435.6,222.8L437.4,220.2L439.3,230.4L441.2,236.6L443.0,212.9L444.9,225.8L446.8,219.5L448.7,218.5L450.5,223.3L452.4,221.6L454.3,221.6L456.1,215.0L458.0,222.8L459.9,218.3L461.7,227.5L463.6,229.1L465.5,226.1L467.4,222.7L469.2,221.8L471.1,215.8L473.0,221.0L474.8,226.3L476.7,216.3L478.6,224.1L480.4,223.8L482.3,224.8L484.2,229.4L486.1,233.6L487.9,227.1L489.8,229.1L491.7,231.8L493.5,227.1L495.4,228.3L497.3,230.0L499.1,238.1L501.0,228.6L502.9,218.1L504.8,222.0L506.6,221.2L508.5,227.3L510.4,221.4L512.2,232.0L514.1,230.3L516.0,225.7L517.8,236.8L519.7,229.7L521.6,226.1L523.4,220.1L525.3,232.9L527.2,226.7L529.1,231.8L530.9,232.0L532.8,245.0L534.7,234.6L536.5,223.1L538.4,226.5L540.3,229.6L542.1,215.8L544.0,226.5L545.9,235.7L547.8,230.1L549.6,229.2" stroke="#FF0000" stroke-width="1.6" fill="none" stroke-linecap="square" stroke-linejoin="round"/><path d="M400.0,210.5L401.9,225.6L403.8,217.8L405.7,215.1L407.5,224.6L409.4,219.7L411.3,233.4L413.1,220.4L415.0,234.1L416.9,224.1L418.7,212.4L420.6,220.0L422.5,222.9L424.3,221.8L426.2,210.7L428.1,218.7L430.0,215.0L431.8,223.9L433.7,224.7L435.6,227.8L437.4,222.7L439.3,227.6L441.2,218.5L443.0,219.9L444.9,224.8L446.8,227.5L448.7,240.9L450.5,228.2L452.4,222.4L454.3,221.9L456.1,241.2L458.0,239.0L459.9,224.5L461.7,231.6L463.6,227.9L465.5,229.2L467.4,221.7L469.2,235.2L471.1,229.9L473.0,220.4L474.8,225.5L476.7,232.1L478.6,223.4L480.4,224.2L482.3,232.5L484.2,223.7L486.1,223.7L487.9,228.5L489.8,222.0L491.7,233.5L493.5,223.5L495.4,228.2L497.3,231.9L499.1,231.4L501.0,221.1L502.9,231.0L504.8,228.9L506.6,230.9L508.5,231.6L510.4,222.0L512.2,215.8L514.1,220.2L516.0,225.8L517.8,224.5L519.7,232.0L521.6,230.6L523.4,236.1L525.3,220.8L527.2,231.0L529.1,232.2L530.9,232.5L532.8,228.8L534.7,232.4L536.5,229.4L538.4,228.4L540.3,222.9L542.1,236.6L544.0,227.9L545.9,232.7L547.8,231.3L549.6,219.7" stroke="#FF0000" stroke-width="1.6" fill="none" stroke-linecap="square" stroke-linejoin="round"/><path d="M400.0,216.0L401.9,222.8L403.8,217.4L405.7,220.7L407.5,213.8L409.4,222.9L411.3,219.3L413.1,222.1L415.0,221.7L416.9,222.8L418.7,225.5L420.6,221.7L422.5,217.7L424.3,226.0L426.2,225.0L428.1,219.7L430.0,225.1L431.8,216.6L433.7,218.3L435.6,234.8L437.4,225.4L439.3,229.7L441.2,219.4L443.0,218.2L444.9,230.8L446.8,228.3L448.7,225.1L450.5,226.9L452.4,220.0L454.3,220.1L456.1,220.5L458.0,219.4L459.9,220.1L461.7,226.2L463.6,229.1L465.5,230.7L467.4,220.3L469.2,219.7L471.1,221.0L473.0,227.5L474.8,228.8L476.7,225.9L478.6,218.9L480.4,223.7L482.3,226.2L484.2,232.1L486.1,224.9L487.9,224.8L489.8,232.6L491.7,217.0L493.5,232.9L495.4,221.9L497.3,227.8L499.1,227.2L501.0,232.0L502.9,231.0L504.8,223.0L506.6,228.3L508.5,229.0L510.4,222.3L512.2,224.2L514.1,226.7L516.0,227.3L517.8,219.1L519.7,230.9L521.6,225.6L523.4,227.1L525.3,236.7L527.2,239.8L529.1,227.4L530.9,224.1L532.8,228.7L534.7,232.3L536.5,233.2L538.4,224.8L540.3,232.1L542.1,238.6L544.0,225.7L545.9,227.4L547.8,226.7L549.6,223.0" stroke="#FF0000" stroke-width="1.6" fill="none" stroke-linecap="square" stroke-linejoin="round"/><path d="M400.0,212.0L401.9,217.4L403.8,221.1L405.7,232.4L407.5,218.4L409.4,220.9L411.3,214.7L413.1,213.8L415.0,219.0L416.9,214.2L418.7,222.4L420.6,222.5L422.5,227.9L424.3,224.3L426.2,221.6L428.1,215.8L430.0,224.9L431.8,217.0L433.7,209.1L435.6,229.4L437.4,223.1L439.3,223.5L441.2,218.4L443.0,212.4L444.9,217.2L446.8,224.6L448.7,229.4L450.5,225.2L452.4,224.3L454.3,224.2L456.1,228.8L458.0,216.9L459.9,229.4L461.7,222.0L463.6,225.5L465.5,232.7L467.4,224.5L469.2,224.6L471.1,227.7L473.0,221.1L474.8,229.2L476.7,213.2L478.6,219.6L480.4,230.8L482.3,241.4L484.2,220.5L486.1,226.0L487.9,227.3L489.8,232.7L491.7,234.9L493.5,238.2L495.4,212.8L497.3,217.7L499.1,231.2L501.0,217.1L502.9,238.3L504.8,223.0L506.6,223.3L508.5,231.9L510.4,229.9L512.2,234.1L514.1,227.4L516.0,221.2L517.8,223.1L519.7,227.7L521.6,221.5L523.4,239.5L525.3,217.6L527.2,229.3L529.1,235.6L530.9,231.1L532.8,233.5L534.7,228.8L536.5,227.8L538.4,242.5L540.3,223.4L542.1,219.9L544.0,235.4L545.9,220.5L547.8,221.8L549.6,223.1" stroke="#FF0000" stroke-width="1.6" fill="none" stroke-linecap="square" stroke-linejoin="round"/><path d="M400.0,210.3L401.9,228.4L403.8,216.1L405.7,226.3L407.5,206.7L409.4,225.6L411.3,229.0L413.1,214.6L415.0,218.2L416.9,221.8L418.7,221.3L420.6,218.9L422.5,213.5L424.3,226.7L426.2,226.0L428.1,225.0L430.0,221.3L431.8,221.4L433.7,229.5L435.6,220.3L437.4,228.9L439.3,225.5L441.2,225.5L443.0,224.9L444.9,215.8L446.8,215.2L448.7,218.6L450.5,215.9L452.4,225.7L454.3,217.7L456.1,224.2L458.0,224.2L459.9,223.9L461.7,233.4L463.6,230.2L465.5,227.5L467.4,222.9L469.2,225.5L471.1,231.6L473.0,232.3L474.8,226.6L476.7,234.2L478.6,232.6L480.4,226.4L482.3,226.6L484.2,232.3L486.1,237.6L487.9,226.2L489.8,222.7L491.7,229.2L493.5,229.9L495.4,240.4L497.3,221.6L499.1,234.3L501.0,223.6L502.9,231.3L504.8,227.8L506.6,228.3L508.5,237.4L510.4,211.8L512.2,237.1L514.1,227.1L516.0,233.3L517.8,230.1L519.7,222.3L521.6,238.4L523.4,230.3L525.3,226.2L527.2,228.4L529.1,226.0L530.9,233.2L532.8,239.2L534.7,236.8L536.5,231.9L538.4,225.2L540.3,230.0L542.1,220.6L544.0,229.0L545.9,227.7L547.8,227.8L549.6,238.7" stroke="#FF0000" stroke-width="1.6" fill="none" stroke-linecap="square" stroke-linejoin="round"/><path d="M400.0,216.3L401.9,226.9L403.8,222.4L405.7,207.3L407.5,227.1L409.4,219.5L411.3,220.5L413.1,220.3L415.0,221.7L416.9,225.1L418.7,210.8L420.6,233.7L422.5,229.0L424.3,214.2L426.2,219.7L428.1,226.1L430.0,226.0L431.8,222.9L433.7,207.3L435.6,219.2L437.4,227.6L439.3,222.4L441.2,227.6L443.0,215.1L444.9,222.5L446.8,217.4L448.7,223.8L450.5,213.4L452.4,221.8L454.3,224.1L456.1,229.7L458.0,227.9L459.9,223.2L461.7,228.7L463.6,212.6L465.5,226.7L467.4,229.3L469.2,219.2L471.1,229.8L473.0,223.4L474.8,227.2L476.7,231.5L478.6,218.1L480.4,225.3L482.3,221.4L484.2,229.5L486.1,235.6L487.9,234.9L489.8,230.3L491.7,228.0L493.5,227.5L495.4,224.3L497.3,233.7L499.1,226.8L501.0,234.6L502.9,231.8L504.8,212.4L506.6,220.0L508.5,229.2L510.4,217.2L512.2,220.2L514.1,222.7L516.0,220.3L517.8,230.2L519.7,230.8L521.6,232.7L523.4,226.2L525.3,236.1L527.2,232.0L529.1,225.6L530.9,231.8L532.8,227.9L534.7,219.0L536.5,235.2L538.4,221.4L540.3,234.3L542.1,235.0L544.0,228.3L545.9,223.0L547.8,233.0L549.6,233.0" stroke="#FF0000" stroke-width="1.6" fill="none" stroke-linecap="square" stroke-linejoin="round"/><path d="M400.0,222.0L401.9,224.7L403.8,219.1L405.7,224.7L407.5,221.6L409.4,218.2L411.3,224.5L413.1,214.4L415.0,225.6L416.9,226.3L418.7,210.5L420.6,213.8L422.5,222.8L424.3,217.9L426.2,220.9L428.1,224.7L430.0,217.1L431.8,219.8L433.7,215.0L435.6,232.4L437.4,217.2L439.3,222.8L441.2,228.0L443.0,226.0L444.9,226.5L446.8,232.0L448.7,228.0L450.5,220.5L452.4,232.7L454.3,227.8L456.1,237.3L458.0,228.8L459.9,223.2L461.7,226.1L463.6,226.5L465.5,233.0L467.4,221.7L469.2,229.9L471.1,221.6L473.0,224.5L474.8,228.8L476.7,219.0L478.6,228.2L480.4,220.0L482.3,227.0L484.2,227.6L486.1,221.8L487.9,225.3L489.8,227.4L491.7,227.6L493.5,226.6L495.4,226.7L497.3,228.5L499.1,234.0L501.0,242.4L502.9,228.6L504.8,228.3L506.6,220.4L508.5,224.6L510.4,220.9L512.2,218.4L514.1,228.3L516.0,233.4L517.8,224.1L519.7,233.4L521.6,229.3L523.4,221.4L525.3,225.8L527.2,222.9L529.1,235.8L530.9,228.8L532.8,223.5L534.7,236.7L536.5,228.4L538.4,227.1L540.3,243.5L542.1,220.6L544.0,233.6L545.9,229.6L547.8,219.4L549.6,239.0" stroke="#FF0000" stroke-width="1.6" fill="none" stroke-linecap="square" stroke-linejoin="round"/><path d="M400.0,216.9L401.9,223.1L403.8,219.9L405.7,225.3L407.5,212.4L409.4,226.5L411.3,220.0L413.1,217.9L415.0,222.3L416.9,223.5L418.7,223.6L420.6,216.5L422.5,220.6L424.3,223.1L426.2,229.0L428.1,220.9L430.0,217.9L431.8,221.7L433.7,214.1L435.6,232.8L437.4,207.6L439.3,224.7L441.2,230.5L443.0,233.4L444.9,219.2L446.8,221.2L448.7,225.9L450.5,225.2L452.4,223.1L454.3,228.0L456.1,217.3L458.0,221.9L459.9,226.1L461.7,235.1L463.6,218.9L465.5,229.3L467.4,230.8L469.2,217.4L471.1,223.9L473.0,237.1L474.8,236.0L476.7,229.7L478.6,233.1L480.4,226.6L482.3,212.7L484.2,210.6L486.1,227.7L487.9,223.2L489.8,222.2L491.7,227.6L493.5,236.1L495.4,221.1L497.3,227.7L499.1,225.5L501.0,223.6L502.9,232.5L504.8,217.3L506.6,226.8L508.5,225.8L510.4,229.8L512.2,224.2L514.1,221.9L516.0,231.8L517.8,225.4L519.7,232.5L521.6,234.8L523.4,231.4L525.3,225.4L527.2,225.9L529.1,222.0L530.9,232.8L532.8,231.6L534.7,228.9L536.5,226.0L538.4,230.0L540.3,235.8L542.1,238.4L544.0,222.8L545.9,222.7L547.8,232.7L549.6,220.4" stroke="#FF0000" stroke-width="1.6" fill="none" stroke-linecap="square" stroke-linejoin="round"/><path d="M400.0,219.8L401.9,218.0L403.8,213.0L405.7,223.3L407.5,224.5L409.4,230.0L411.3,220.3L413.1,218.3L415.0,216.8L416.9,218.4L418.7,221.4L420.6,215.7L422.5,229.0L424.3,220.4L426.2,219.8L428.1,222.4L430.0,211.0L431.8,218.9L433.7,214.5L435.6,216.8L437.4,222.7L439.3,212.6L441.2,217.7L443.0,223.4L444.9,224.8L446.8,230.3L448.7,225.5L450.5,226.2L452.4,222.8L454.3,228.0L456.1,220.6L458.0,225.9L459.9,234.3L461.7,228.7L463.6,231.8L465.5,233.8L467.4,226.3L469.2,219.5L471.1,233.0L473.0,237.0L474.8,227.5L476.7,210.3L478.6,229.2L480.4,224.1L482.3,229.8L484.2,222.6L486.1,219.2L487.9,228.6L489.8,220.5L491.7,233.0L493.5,226.5L495.4,234.3L497.3,225.5L499.1,231.5L501.0,226.2L502.9,234.2L504.8,225.5L506.6,226.5L508.5,230.3L510.4,231.8L512.2,234.9L514.1,229.9L516.0,226.2L517.8,229.4L519.7,229.1L521.6,220.5L523.4,231.2L525.3,227.2L527.2,224.3L529.1,225.1L530.9,226.6L532.8,229.3L534.7,218.3L536.5,229.9L538.4,231.5L540.3,227.0L542.1,220.2L544.0,221.4L545.9,228.5L547.8,224.1L549.6,225.9" stroke="#FF0000" stroke-width="1.6" fill="none" stroke-linecap="square" stroke-linejoin="round"/><path d="M400.0,219.0L401.9,216.8L403.8,216.5L405.7,219.7L407.5,210.2L409.4,222.2L411.3,214.0L413.1,208.9L415.0,209.6L416.9,220.3L418.7,223.0L420.6,231.3L422.5,223.4L424.3,208.6L426.2,231.6L428.1,230.4L430.0,216.0L431.8,217.9L433.7,232.5L435.6,222.2L437.4,219.7L439.3,232.2L441.2,218.5L443.0,231.0L444.9,217.6L446.8,223.2L448.7,228.5L450.5,233.9L452.4,225.9L454.3,226.0L456.1,224.5L458.0,228.8L459.9,226.5L461.7,220.8L463.6,231.8L465.5,227.7L467.4,222.2L469.2,224.8L471.1,221.7L473.0,216.7L474.8,228.5L476.7,226.1L478.6,242.6L480.4,227.6L482.3,223.6L484.2,233.8L486.1,219.8L487.9,238.4L489.8,219.5L491.7,229.7L493.5,233.5L495.4,229.8L497.3,228.1L499.1,233.8L501.0,235.4L502.9,230.8L504.8,221.5L506.6,224.8L508.5,219.4L510.4,230.7L512.2,230.2L514.1,229.5L516.0,227.7L517.8,226.0L519.7,220.0L521.6,223.7L523.4,228.5L525.3,221.1L527.2,233.5L529.1,235.6L530.9,225.1L532.8,228.8L534.7,228.6L536.5,224.2L538.4,231.2L540.3,231.0L542.1,227.4L544.0,225.8L545.9,223.1L547.8,228.2L549.6,227.3" stroke="#FF0000" stroke-width="1.6" fill="none" stroke-linecap="square" stroke-linejoin="round"/><path d="M400.0,233.2L401.9,213.6L403.8,229.1L405.7,220.8L407.5,205.6L409.4,222.0L411.3,231.0L413.1,211.7L415.0,224.9L416.9,222.8L418.7,223.0L420.6,218.1L422.5,218.7L424.3,223.3L426.2,216.5L428.1,226.9L430.0,217.0L431.8,225.0L433.7,218.3L435.6,225.7L437.4,224.2L439.3,215.3L441.2,230.4L443.0,230.2L444.9,220.9L446.8,226.0L448.7,227.1L450.5,225.7L452.4,212.0L454.3,231.5L456.1,225.4L458.0,224.5L459.9,230.7L461.7,226.0L463.6,223.9L465.5,231.8L467.4,218.6L469.2,231.2L471.1,227.5L473.0,223.8L474.8,208.5L476.7,237.4L478.6,224.4L480.4,211.4L482.3,230.9L484.2,221.3L486.1,226.3L487.9,235.9L489.8,225.1L491.7,232.0L493.5,227.3L495.4,235.7L497.3,222.5L499.1,241.8L501.0,228.6L502.9,220.6L504.8,224.0L506.6,229.2L508.5,228.5L510.4,229.8L512.2,212.8L514.1,228.0L516.0,228.7L517.8,232.9L519.7,232.8L521.6,224.4L523.4,233.0L525.3,233.5L527.2,232.2L529.1,230.2L530.9,228.0L532.8,232.6L534.7,230.5L536.5,233.8L538.4,222.4L540.3,230.0L542.1,231.4L544.0,227.9L545.9,229.1L547.8,237.8L549.6,229.9" stroke="#FF0000" stroke-width="1.6" fill="none" stroke-linecap="square" stroke-linejoin="round"/><path d="M400.0,210.2L401.9,217.8L403.8,213.5L405.7,224.4L407.5,228.5L409.4,224.1L411.3,214.4L413.1,226.7L415.0,226.3L416.9,215.7L418.7,223.5L420.6,223.5L422.5,221.1L424.3,222.2L426.2,224.6L428.1,220.4L430.0,225.0L431.8,221.8L433.7,218.6L435.6,228.0L437.4,223.0L439.3,230.2L441.2,219.9L443.0,220.1L444.9,218.8L446.8,218.6L448.7,218.9L450.5,220.9L452.4,228.5L454.3,220.3L456.1,229.1L458.0,212.3L459.9,223.8L461.7,222.5L463.6,233.7L465.5,220.5L467.4,218.3L469.2,233.7L471.1,229.9L473.0,228.4L474.8,230.3L476.7,219.6L478.6,213.7L480.4,231.8L482.3,221.6L484.2,229.0L486.1,219.7L487.9,241.7L489.8,229.8L491.7,220.0L493.5,232.1L495.4,220.5L497.3,229.6L499.1,221.7L501.0,224.4L502.9,230.4L504.8,231.3L506.6,228.2L508.5,220.6L510.4,227.4L512.2,232.0L514.1,208.9L516.0,237.6L517.8,230.1L519.7,227.0L521.6,233.8L523.4,229.6L525.3,231.4L527.2,237.5L529.1,225.6L530.9,235.5L532.8,234.2L534.7,222.4L536.5,236.0L538.4,226.0L540.3,223.8L542.1,224.0L544.0,227.0L545.9,230.2L547.8,236.9L549.6,228.1" stroke="#FF0000" stroke-width="1.6" fill="none" stroke-linecap="square" stroke-linejoin="round"/><path d="M400.0,217.0L401.9,223.6L403.8,225.8L405.7,215.7L407.5,226.1L409.4,217.7L411.3,224.9L413.1,230.6L415.0,212.7L416.9,218.5L418.7,219.1L420.6,230.4L422.5,224.0L424.3,221.1L426.2,227.1L428.1,212.5L430.0,232.5L431.8,217.6L433.7,233.1L435.6,231.0L437.4,229.2L439.3,220.6L441.2,228.3L443.0,227.5L444.9,229.5L446.8,233.1L448.7,230.0L450.5,230.7L452.4,226.1L454.3,228.0L456.1,237.8L458.0,229.4L459.9,218.8L461.7,228.8L463.6,227.4L465.5,231.0L467.4,229.2L469.2,225.5L471.1,234.8L473.0,227.0L474.8,236.5L476.7,226.0L478.6,235.3L480.4,222.5L482.3,222.3L484.2,237.2L486.1,224.1L487.9,230.6L489.8,221.2L491.7,230.4L493.5,229.9L495.4,229.4L497.3,220.1L499.1,239.6L501.0,223.9L502.9,228.0L504.8,230.3L506.6,229.2L508.5,222.4L510.4,223.3L512.2,219.2L514.1,231.9L516.0,240.0L517.8,232.5L519.7,231.7L521.6,230.9L523.4,223.2L525.3,216.6L527.2,227.5L529.1,238.9L530.9,223.7L532.8,234.1L534.7,229.7L536.5,225.4L538.4,227.9L540.3,231.5L542.1,228.6L544.0,225.9L545.9,225.8L547.8,217.8L549.6,246.5" stroke="#FF0000" stroke-width="1.6" fill="none" stroke-linecap="square" stroke-linejoin="round"/><path d="M400.0,224.6L401.9,224.5L403.8,216.1L405.7,220.0L407.5,215.9L409.4,228.9L411.3,224.0L413.1,217.9L415.0,222.7L416.9,224.8L418.7,221.1L420.6,213.6L422.5,235.8L424.3,214.3L426.2,221.9L428.1,227.3L430.0,217.8L431.8,221.9L433.7,216.0L435.6,227.2L437.4,216.9L439.3,229.5L441.2,222.9L443.0,220.2L444.9,225.3L446.8,221.5L448.7,228.7L450.5,219.5L452.4,227.6L454.3,230.3L456.1,225.2L458.0,226.4L459.9,230.8L461.7,222.0L463.6,228.0L465.5,223.8L467.4,234.1L469.2,232.9L471.1,228.9L473.0,232.0L474.8,228.0L476.7,224.9L478.6,220.3L480.4,218.1L482.3,223.7L484.2,232.2L486.1,225.0L487.9,231.4L489.8,224.9L491.7,233.5L493.5,220.8L495.4,225.5L497.3,228.9L499.1,236.4L501.0,226.7L502.9,231.5L504.8,226.1L506.6,231.9L508.5,230.8L510.4,224.4L512.2,220.5L514.1,235.5L516.0,230.3L517.8,227.1L519.7,231.5L521.6,230.9L523.4,217.8L525.3,234.3L527.2,227.6L529.1,231.6L530.9,230.1L532.8,243.4L534.7,224.9L536.5,231.4L538.4,235.5L540.3,221.6L542.1,231.8L544.0,233.7L545.9,234.2L547.8,223.5L549.6,229.3" stroke="#FF0000" stroke-width="1.6" fill="none" stroke-linecap="square" stroke-linejoin="round"/><path d="M400.0,221.9L401.9,228.7L403.8,225.9L405.7,219.2L407.5,220.8L409.4,232.2L411.3,227.6L413.1,220.3L415.0,207.1L416.9,226.8L418.7,235.3L420.6,218.6L422.5,226.5L424.3,230.7L426.2,220.2L428.1,223.7L430.0,226.9L431.8,229.5L433.7,223.6L435.6,222.1L437.4,232.4L439.3,218.7L441.2,231.9L443.0,216.2L444.9,222.9L446.8,226.1L448.7,223.4L450.5,228.9L452.4,225.1L454.3,216.9L456.1,227.7L458.0,221.5L459.9,231.1L461.7,226.5L463.6,221.8L465.5,234.0L467.4,223.6L469.2,237.6L471.1,233.8L473.0,228.7L474.8,222.2L476.7,224.0L478.6,231.7L480.4,227.1L482.3,227.1L484.2,237.0L486.1,225.7L487.9,220.7L489.8,220.9L491.7,230.8L493.5,230.7L495.4,233.1L497.3,230.1L499.1,230.1L501.0,224.4L502.9,228.1L504.8,232.8L506.6,223.2L508.5,222.7L510.4,231.4L512.2,230.2L514.1,228.9L516.0,238.5L517.8,228.6L519.7,226.8L521.6,217.4L523.4,229.0L525.3,231.1L527.2,230.5L529.1,225.3L530.9,225.0L532.8,235.3L534.7,228.9L536.5,226.4L538.4,241.3L540.3,223.2L542.1,231.4L544.0,225.2L545.9,229.6L547.8,230.9L549.6,229.8" stroke="#FF0000" stroke-width="1.6" fill="none" stroke-linecap="square" stroke-linejoin="round"/><path d="M400.0,218.4L401.9,216.2L403.8,222.2L405.7,227.5L407.5,224.6L409.4,226.3L411.3,218.3L413.1,227.0L415.0,213.7L416.9,221.7L418.7,223.1L420.6,215.5L422.5,225.8L424.3,224.8L426.2,218.9L428.1,218.1L430.0,227.1L431.8,208.1L433.7,219.6L435.6,229.6L437.4,223.3L439.3,219.0L441.2,223.3L443.0,219.2L444.9,211.3L446.8,219.7L448.7,213.8L450.5,221.5L452.4,228.4L454.3,217.5L456.1,228.3L458.0,220.5L459.9,222.2L461.7,231.1L463.6,231.2L465.5,228.0L467.4,223.1L469.2,217.6L471.1,226.7L473.0,215.3L474.8,222.0L476.7,231.5L478.6,229.8L480.4,225.6L482.3,230.8L484.2,228.4L486.1,223.4L487.9,226.6L489.8,222.1L491.7,231.1L493.5,233.0L495.4,235.4L497.3,237.1L499.1,230.9L501.0,227.5L502.9,229.3L504.8,227.1L506.6,215.9L508.5,233.6L510.4,229.1L512.2,231.2L514.1,233.1L516.0,221.2L517.8,229.1L519.7,223.2L521.6,234.4L523.4,219.1L525.3,216.3L527.2,234.2L529.1,228.4L530.9,229.9L532.8,226.9L534.7,236.9L536.5,227.1L538.4,225.4L540.3,234.0L542.1,242.7L544.0,233.6L545.9,231.2L547.8,224.7L549.6,232.5" stroke="#FF0000" stroke-width="1.6" fill="none" stroke-linecap="square" stroke-linejoin="round"/><path d="M400.0,226.2L401.9,217.3L403.8,218.2L405.7,216.6L407.5,220.0L409.4,214.3L411.3,219.3L413.1,231.2L415.0,220.8L416.9,217.7L418.7,222.0L420.6,214.2L422.5,225.9L424.3,218.8L426.2,229.9L428.1,221.9L430.0,224.1L431.8,227.3L433.7,229.8L435.6,220.8L437.4,219.4L439.3,227.4L441.2,231.2L443.0,228.6L444.9,220.0L446.8,231.4L448.7,218.3L450.5,234.5L452.4,222.6L454.3,222.0L456.1,217.1L458.0,228.0L459.9,229.9L461.7,234.0L463.6,221.7L465.5,227.4L467.4,227.7L469.2,227.2L471.1,225.4L473.0,225.6L474.8,220.0L476.7,239.7L478.6,221.3L480.4,228.9L482.3,228.1L484.2,229.4L486.1,228.0L487.9,223.6L489.8,226.2L491.7,235.2L493.5,228.2L495.4,227.8L497.3,224.6L499.1,228.0L501.0,228.2L502.9,222.2L504.8,233.2L506.6,215.0L508.5,230.4L510.4,233.3L512.2,223.9L514.1,221.7L516.0,221.6L517.8,220.5L519.7,227.4L521.6,227.5L523.4,227.4L525.3,229.0L527.2,232.2L529.1,219.1L530.9,218.7L532.8,229.9L534.7,230.7L536.5,232.4L538.4,239.0L540.3,234.3L542.1,232.6L544.0,229.7L545.9,234.5L547.8,239.7L549.6,225.2" stroke="#FF0000" stroke-width="1.6" fill="none" stroke-linecap="square" stroke-linejoin="round"/><path d="M400.0,209.8L401.9,232.7L403.8,221.0L405.7,215.8L407.5,226.7L409.4,228.3L411.3,221.9L413.1,222.3L415.0,225.4L416.9,212.6L418.7,213.6L420.6,218.6L422.5,223.6L424.3,224.5L426.2,217.8L428.1,223.1L430.0,212.4L431.8,214.4L433.7,225.6L435.6,217.6L437.4,212.8L439.3,219.9L441.2,229.3L443.0,225.0L444.9,226.0L446.8,223.7L448.7,224.4L450.5,226.8L452.4,219.1L454.3,217.8L456.1,226.9L458.0,233.7L459.9,223.1L461.7,225.6L463.6,224.1L465.5,230.3L467.4,223.1L469.2,229.7L471.1,220.3L473.0,215.9L474.8,231.6L476.7,241.9L478.6,228.5L480.4,228.5L482.3,226.1L484.2,227.1L486.1,224.3L487.9,212.1L489.8,230.2L491.7,228.7L493.5,225.0L495.4,237.3L497.3,221.8L499.1,231.3L501.0,235.5L502.9,232.4L504.8,223.7L506.6,222.1L508.5,219.7L510.4,224.5L512.2,231.9L514.1,224.1L516.0,228.7L517.8,215.1L519.7,241.3L521.6,218.2L523.4,224.7L525.3,226.2L527.2,229.1L529.1,230.9L530.9,234.0L532.8,238.2L534.7,217.3L536.5,223.8L538.4,225.1L540.3,227.9L542.1,240.0L544.0,230.7L545.9,227.6L547.8,221.8L549.6,234.0" stroke="#FF0000" stroke-width="1.6" fill="none" stroke-linecap="square" stroke-linejoin="round"/><path d="M400.0,217.4L401.9,221.4L403.8,219.5L405.7,224.5L407.5,217.5L409.4,219.2L411.3,232.1L413.1,213.5L415.0,208.7L416.9,226.3L418.7,215.0L420.6,227.3L422.5,225.6L424.3,212.1L426.2,221.1L428.1,212.6L430.0,218.6L431.8,215.2L433.7,222.6L435.6,213.2L437.4,211.0L439.3,219.2L441.2,226.6L443.0,225.0L444.9,228.9L446.8,220.4L448.7,221.0L450.5,228.2L452.4,218.2L454.3,228.2L456.1,212.9L458.0,220.1L459.9,215.7L461.7,229.2L463.6,231.6L465.5,236.2L467.4,220.6L469.2,230.4L471.1,218.4L473.0,224.1L474.8,221.5L476.7,234.0L478.6,228.6L480.4,224.0L482.3,222.6L484.2,234.1L486.1,224.8L487.9,231.7L489.8,222.0L491.7,227.4L493.5,228.7L495.4,223.9L497.3,219.3L499.1,228.7L501.0,220.0L502.9,232.8L504.8,224.6L506.6,232.8L508.5,225.2L510.4,231.8L512.2,227.3L514.1,223.4L516.0,233.3L517.8,237.9L519.7,230.3L521.6,224.1L523.4,227.4L525.3,233.3L527.2,223.6L529.1,229.1L530.9,223.9L532.8,234.1L534.7,226.1L536.5,222.2L538.4,232.4L540.3,231.4L542.1,225.4L544.0,225.9L545.9,226.0L547.8,228.9L549.6,236.9" stroke="#FF0000" stroke-width="1.6" fill="none" stroke-linecap="square" stroke-linejoin="round"/><path d="M400.0,218.8L401.9,227.2L403.8,219.0L405.7,233.1L407.5,211.3L409.4,208.7L411.3,218.9L413.1,225.1L415.0,222.8L416.9,216.2L418.7,217.7L420.6,225.6L422.5,215.7L424.3,217.9L426.2,219.1L428.1,223.1L430.0,220.2L431.8,224.8L433.7,220.5L435.6,225.0L437.4,214.5L439.3,222.8L441.2,222.2L443.0,221.0L444.9,221.7L446.8,231.8L448.7,216.8L450.5,223.7L452.4,226.5L454.3,230.4L456.1,227.1L458.0,228.3L459.9,224.7L461.7,230.0L463.6,225.4L465.5,225.1L467.4,228.2L469.2,211.7L471.1,226.8L473.0,223.2L474.8,225.4L476.7,227.7L478.6,221.6L480.4,217.4L482.3,227.3L484.2,231.8L486.1,223.8L487.9,239.3L489.8,225.8L491.7,227.4L493.5,225.4L495.4,235.1L497.3,228.6L499.1,233.3L501.0,230.2L502.9,224.1L504.8,227.5L506.6,230.1L508.5,220.0L510.4,226.8L512.2,239.1L514.1,233.1L516.0,225.9L517.8,225.9L519.7,228.4L521.6,225.9L523.4,234.1L525.3,229.1L527.2,235.4L529.1,232.5L530.9,233.7L532.8,234.2L534.7,231.0L536.5,230.5L538.4,233.6L540.3,224.1L542.1,231.9L544.0,220.7L545.9,222.9L547.8,235.5L549.6,223.7" stroke="#FF0000" stroke-width="1.6" fill="none" stroke-linecap="square" stroke-linejoin="round"/><path d="M400.0,227.1L401.9,212.3L403.8,218.2L405.7,226.0L407.5,232.2L409.4,222.3L411.3,229.5L413.1,214.7L415.0,228.6L416.9,223.1L418.7,219.3L420.6,222.2L422.5,221.7L424.3,224.0L426.2,218.7L428.1,227.0L430.0,217.7L431.8,228.2L433.7,221.3L435.6,228.3L437.4,222.9L439.3,220.4L441.2,217.2L443.0,233.6L444.9,228.5L446.8,230.0L448.7,217.9L450.5,229.8L452.4,220.2L454.3,228.6L456.1,232.0L458.0,224.9L459.9,231.8L461.7,221.8L463.6,222.1L465.5,219.2L467.4,230.7L469.2,216.0L471.1,221.4L473.0,235.8L474.8,214.3L476.7,218.1L478.6,231.8L480.4,224.0L482.3,235.1L484.2,228.4L486.1,226.5L487.9,224.4L489.8,232.0L491.7,227.1L493.5,233.1L495.4,225.1L497.3,223.0L499.1,227.8L501.0,221.3L502.9,223.8L504.8,224.9L506.6,220.8L508.5,234.2L510.4,227.7L512.2,238.3L514.1,227.9L516.0,231.4L517.8,224.2L519.7,232.6L521.6,231.5L523.4,230.1L525.3,229.8L527.2,226.3L529.1,233.2L530.9,237.5L532.8,238.9L534.7,223.0L536.5,236.7L538.4,232.1L540.3,236.7L542.1,224.8L544.0,232.8L545.9,222.0L547.8,233.0L549.6,227.3" stroke="#FF0000" stroke-width="1.6" fill="none" stroke-linecap="square" stroke-linejoin="round"/><path d="M400.0,215.3L401.9,215.3L403.8,227.0L405.7,222.7L407.5,220.6L409.4,230.5L411.3,218.2L413.1,218.9L415.0,219.0L416.9,229.8L418.7,221.1L420.6,220.0L422.5,217.5L424.3,225.6L426.2,219.1L428.1,210.8L430.0,223.4L431.8,223.9L433.7,224.1L435.6,230.4L437.4,223.8L439.3,214.6L441.2,229.3L443.0,224.7L444.9,217.5L446.8,221.4L448.7,223.4L450.5,226.8L452.4,224.8L454.3,225.6L456.1,220.1L458.0,225.1L459.9,220.2L461.7,236.3L463.6,222.1L465.5,229.6L467.4,224.9L469.2,227.2L471.1,223.2L473.0,226.4L474.8,223.1L476.7,232.0L478.6,224.9L480.4,218.9L482.3,221.3L484.2,229.6L486.1,226.7L487.9,229.9L489.8,228.0L491.7,226.8L493.5,221.0L495.4,223.9L497.3,218.5L499.1,219.5L501.0,234.8L502.9,226.2L504.8,229.4L506.6,236.3L508.5,233.2L510.4,230.2L512.2,218.9L514.1,227.2L516.0,229.7L517.8,228.9L519.7,234.2L521.6,226.9L523.4,230.0L525.3,238.0L527.2,232.0L529.1,209.4L530.9,225.4L532.8,230.4L534.7,225.6L536.5,235.0L538.4,228.9L540.3,225.5L542.1,238.6L544.0,233.7L545.9,231.0L547.8,230.5L549.6,231.7" stroke="#FF0000" stroke-width="1.6" fill="none" stroke-linecap="square" stroke-linejoin="round"/><path d="M400.0,218.0L401.9,214.9L403.8,218.2L405.7,214.9L407.5,214.3L409.4,223.5L411.3,220.6L413.1,223.0L415.0,218.1L416.9,223.9L418.7,223.1L420.6,212.9L422.5,224.2L424.3,231.3L426.2,222.1L428.1,220.1L430.0,223.7L431.8,221.1L433.7,216.6L435.6,224.8L437.4,222.8L439.3,227.6L441.2,222.2L443.0,224.2L444.9,229.3L446.8,225.3L448.7,214.5L450.5,234.3L452.4,231.7L454.3,223.7L456.1,231.5L458.0,214.6L459.9,233.6L461.7,233.0L463.6,229.5L465.5,220.6L467.4,220.5L469.2,221.6L471.1,225.0L473.0,218.4L474.8,236.6L476.7,225.9L478.6,218.0L480.4,231.6L482.3,225.7L484.2,220.7L486.1,220.5L487.9,228.5L489.8,217.0L491.7,224.0L493.5,221.8L495.4,233.1L497.3,230.8L499.1,232.3L501.0,217.8L502.9,240.8L504.8,237.0L506.6,222.8L508.5,226.3L510.4,243.7L512.2,230.4L514.1,229.3L516.0,221.9L517.8,239.3L519.7,232.9L521.6,221.9L523.4,225.2L525.3,233.9L527.2,230.6L529.1,236.3L530.9,221.4L532.8,232.2L534.7,222.3L536.5,225.1L538.4,234.2L540.3,231.2L542.1,226.0L544.0,227.1L545.9,220.3L547.8,222.7L549.6,227.0" stroke="#FF0000" stroke-width="1.6" fill="none" stroke-linecap="square" stroke-linejoin="round"/><path d="M400.0,215.6L401.9,224.4L403.8,223.4L405.7,217.2L407.5,218.1L409.4,226.2L411.3,222.4L413.1,225.3L415.0,224.7L416.9,214.7L418.7,227.2L420.6,225.8L422.5,220.0L424.3,222.1L426.2,221.8L428.1,229.6L430.0,220.9L431.8,223.4L433.7,226.6L435.6,224.9L437.4,223.2L439.3,218.9L441.2,213.6L443.0,222.8L444.9,215.9L446.8,223.7L448.7,232.7L450.5,224.4L452.4,216.9L454.3,217.8L456.1,228.6L458.0,213.1L459.9,229.3L461.7,229.7L463.6,229.4L465.5,218.5L467.4,222.6L469.2,219.6L471.1,238.7L473.0,225.8L474.8,227.1L476.7,223.4L478.6,228.3L480.4,219.0L482.3,231.1L484.2,235.0L486.1,236.3L487.9,220.7L489.8,223.0L491.7,231.0L493.5,221.5L495.4,227.9L497.3,227.1L499.1,235.9L501.0,230.5L502.9,227.1L504.8,225.6L506.6,230.1L508.5,221.5L510.4,219.2L512.2,232.5L514.1,225.3L516.0,236.8L517.8,226.2L519.7,235.1L521.6,228.4L523.4,228.3L525.3,230.0L527.2,223.1L529.1,232.2L530.9,231.3L532.8,227.8L534.7,229.3L536.5,227.9L538.4,230.3L540.3,234.6L542.1,225.7L544.0,228.9L545.9,223.6L547.8,221.4L549.6,230.5" stroke="#FF0000" stroke-width="1.6" fill="none" stroke-linecap="square" stroke-linejoin="round"/><path d="M400.0,223.3L401.9,222.8L403.8,223.5L405.7,231.2L407.5,210.8L409.4,217.6L411.3,209.0L413.1,223.8L415.0,218.2L416.9,220.2L418.7,222.2L420.6,216.7L422.5,222.9L424.3,222.8L426.2,221.6L428.1,233.7L430.0,224.5L431.8,225.2L433.7,213.0L435.6,218.5L437.4,217.2L439.3,220.0L441.2,224.8L443.0,214.2L444.9,225.0L446.8,231.9L448.7,220.9L450.5,218.1L452.4,223.2L454.3,223.3L456.1,218.3L458.0,216.8L459.9,221.9L461.7,216.3L463.6,224.8L465.5,214.8L467.4,232.2L469.2,219.3L471.1,224.8L473.0,224.7L474.8,233.3L476.7,221.3L478.6,226.7L480.4,230.9L482.3,230.7L484.2,228.5L486.1,226.6L487.9,232.4L489.8,232.0L491.7,224.3L493.5,227.8L495.4,216.1L497.3,228.6L499.1,223.7L501.0,217.8L502.9,228.7L504.8,221.2L506.6,225.3L508.5,226.5L510.4,218.3L512.2,233.3L514.1,230.7L516.0,238.0L517.8,229.1L519.7,224.4L521.6,228.9L523.4,224.7L525.3,232.7L527.2,222.5L529.1,228.5L530.9,231.2L532.8,220.6L534.7,229.1L536.5,226.1L538.4,228.4L540.3,226.3L542.1,228.7L544.0,235.8L545.9,226.9L547.8,226.0L549.6,226.4" stroke="#FF0000" stroke-width="1.6" fill="none" stroke-linecap="square" stroke-linejoin="round"/><path d="M400.0,220.4L401.9,210.4L403.8,223.8L405.7,219.6L407.5,218.6L409.4,225.8L411.3,228.3L413.1,217.0L415.0,217.8L416.9,220.9L418.7,230.5L420.6,223.6L422.5,221.6L424.3,218.9L426.2,216.0L428.1,219.0L430.0,215.3L431.8,212.1L433.7,234.7L435.6,216.2L437.4,223.8L439.3,220.8L441.2,222.6L443.0,228.8L444.9,228.8L446.8,221.8L448.7,225.4L450.5,220.6L452.4,225.9L454.3,213.6L456.1,225.0L458.0,213.9L459.9,229.2L461.7,222.5L463.6,220.3L465.5,233.4L467.4,229.9L469.2,222.3L471.1,220.2L473.0,218.0L474.8,223.3L476.7,221.5L478.6,232.0L480.4,227.8L482.3,219.4L484.2,230.3L486.1,228.5L487.9,237.0L489.8,228.1L491.7,235.3L493.5,225.5L495.4,218.9L497.3,224.7L499.1,226.9L501.0,229.6L502.9,224.7L504.8,232.7L506.6,229.5L508.5,215.1L510.4,234.2L512.2,231.1L514.1,235.0L516.0,221.7L517.8,229.8L519.7,236.7L521.6,234.4L523.4,223.2L525.3,225.0L527.2,224.5L529.1,228.3L530.9,223.8L532.8,222.5L534.7,225.5L536.5,238.0L538.4,239.9L540.3,238.2L542.1,228.0L544.0,237.5L545.9,234.5L547.8,228.6L549.6,233.4" stroke="#FF0000" stroke-width="1.6" fill="none" stroke-linecap="square" stroke-linejoin="round"/><path d="M400.0,226.3L401.9,215.2L403.8,217.4L405.7,216.2L407.5,214.9L409.4,212.2L411.3,222.2L413.1,221.9L415.0,231.2L416.9,223.2L418.7,225.2L420.6,216.6L422.5,219.5L424.3,214.5L426.2,216.8L428.1,215.3L430.0,217.9L431.8,220.7L433.7,224.3L435.6,222.0L437.4,226.9L439.3,221.5L441.2,224.5L443.0,234.6L444.9,238.9L446.8,228.4L448.7,227.2L450.5,226.5L452.4,217.1L454.3,229.1L456.1,230.8L458.0,223.4L459.9,220.0L461.7,216.9L463.6,232.2L465.5,228.0L467.4,227.3L469.2,216.6L471.1,223.0L473.0,225.6L474.8,222.7L476.7,229.4L478.6,227.1L480.4,226.0L482.3,230.3L484.2,229.0L486.1,225.6L487.9,226.5L489.8,219.3L491.7,222.3L493.5,228.2L495.4,239.2L497.3,234.8L499.1,230.9L501.0,229.8L502.9,235.1L504.8,229.1L506.6,226.7L508.5,230.7L510.4,228.2L512.2,228.9L514.1,231.6L516.0,233.4L517.8,229.6L519.7,228.7L521.6,233.6L523.4,240.7L525.3,234.3L527.2,226.5L529.1,237.1L530.9,224.1L532.8,233.2L534.7,228.9L536.5,233.9L538.4,226.4L540.3,230.4L542.1,227.8L544.0,240.3L545.9,225.1L547.8,238.2L549.6,230.8" stroke="#FF0000" stroke-width="1.6" fill="none" stroke-linecap="square" stroke-linejoin="round"/><path d="M400.0,216.9L401.9,221.8L403.8,217.7L405.7,219.9L407.5,219.8L409.4,224.7L411.3,216.9L413.1,215.1L415.0,224.8L416.9,227.0L418.7,221.2L420.6,226.6L422.5,222.7L424.3,218.4L426.2,219.4L428.1,214.0L430.0,218.6L431.8,227.3L433.7,227.1L435.6,219.3L437.4,211.7L439.3,225.8L441.2,229.2L443.0,216.2L444.9,225.1L446.8,221.0L448.7,219.1L450.5,230.4L452.4,226.2L454.3,228.8L456.1,221.3L458.0,222.2L459.9,228.3L461.7,223.1L463.6,236.5L465.5,225.0L467.4,223.3L469.2,225.0L471.1,234.7L473.0,226.5L474.8,232.6L476.7,219.9L478.6,227.7L480.4,227.1L482.3,228.4L484.2,224.9L486.1,227.3L487.9,225.2L489.8,232.5L491.7,221.2L493.5,230.6L495.4,223.4L497.3,225.6L499.1,222.6L501.0,228.3L502.9,236.0L504.8,233.3L506.6,228.7L508.5,220.0L510.4,229.8L512.2,228.2L514.1,221.3L516.0,231.9L517.8,227.4L519.7,228.8L521.6,231.3L523.4,228.5L525.3,223.6L527.2,223.7L529.1,230.2L530.9,213.7L532.8,228.2L534.7,231.1L536.5,233.6L538.4,234.9L540.3,226.3L542.1,245.2L544.0,230.6L545.9,236.3L547.8,230.1L549.6,229.3" stroke="#FF0000" stroke-width="1.6" fill="none" stroke-linecap="square" stroke-linejoin="round"/><path d="M82.2,197.7L84.0,208.2L85.9,191.6L87.8,207.5L89.7,209.1L91.5,208.8L93.4,192.2L95.3,199.6L97.1,194.7L99.0,198.4L100.9,188.6L102.7,208.8L104.6,185.5L106.5,186.7L108.4,197.1L110.2,216.7L112.1,208.2L114.0,209.4" stroke="#000" stroke-width="2.4" fill="none" stroke-linecap="square" stroke-linejoin="round"/><path d="M117.7,191.6L119.6,205.7" stroke="#000" stroke-width="2.4" fill="none" stroke-linecap="square" stroke-linejoin="round"/><path d="M136.4,208.4L138.3,198.9L140.1,194.2L142.0,214.6L143.9,200.4L145.7,196.7L147.6,192.8L149.5,198.6L151.4,198.2L153.2,200.1L155.1,198.2L157.0,213.4L158.8,211.3L160.7,189.9L162.6,196.7L164.4,214.2" stroke="#000" stroke-width="2.4" fill="none" stroke-linecap="square" stroke-linejoin="round"/><path d="M168.2,202.2L170.1,202.5L171.9,200.1L173.8,212.0L175.7,206.9L177.5,209.1L179.4,214.2L181.3,211.3L183.1,199.6L185.0,203.0L186.9,205.4L188.8,206.9L190.6,207.6L192.5,199.6L194.4,204.0L196.2,213.9L198.1,206.2L200.0,204.7L201.8,208.4L203.7,207.9L205.6,194.2L207.5,205.9L209.3,205.4" stroke="#000" stroke-width="2.4" fill="none" stroke-linecap="square" stroke-linejoin="round"/><path d="M214.9,203.7L216.8,209.8L218.7,214.6L220.5,195.3L222.4,200.1L224.3,200.1L226.1,200.8L228.0,201.5L229.9,209.8L231.8,218.1L233.6,204.7L235.5,202.7L237.4,203.4L239.2,206.3L241.1,208.4L243.0,205.9L244.8,209.1L246.7,214.0L248.6,206.3L250.5,196.7L252.3,211.8" stroke="#000" stroke-width="2.4" fill="none" stroke-linecap="square" stroke-linejoin="round"/><path d="M261.7,215.9L263.5,201.8L265.4,207.9L267.3,200.2L269.2,212.4L271.0,213.6L272.9,204.1L274.8,209.8L276.6,214.0L278.5,214.5L280.4,210.7L282.2,202.7L284.1,214.8L286.0,222.0L287.9,214.8L289.7,210.7L291.6,208.8L293.5,209.8L295.3,212.4L297.2,197.0L299.1,214.0L300.9,215.2L302.8,211.6L304.7,208.4L306.6,201.1L308.4,211.6L310.3,213.2L312.2,215.6L314.0,210.0L315.9,211.1L317.8,213.9L319.6,221.3L321.5,205.4L323.4,214.8L325.2,208.8L327.1,214.0L329.0,220.4L330.9,214.8L332.7,198.6L334.6,210.7L336.5,210.7L338.3,217.5L340.2,202.5L342.1,217.1L343.9,229.4L345.8,218.0L347.7,218.8L349.6,214.0L351.4,212.7L353.3,213.2L355.2,207.5L357.0,216.4L358.9,223.6L360.8,220.6L362.6,211.8L364.5,221.2L366.4,223.6L368.3,212.7L370.1,222.5L372.0,215.6L373.9,213.6L375.7,216.4L377.6,218.4L379.5,218.4L381.3,218.4L383.2,214.3L385.1,210.8L387.0,220.9L388.8,220.0L390.7,221.3L392.6,216.8L394.4,212.3L396.3,227.0L398.2,220.9L400.0,226.1L401.9,232.9" stroke="#000" stroke-width="2.4" fill="none" stroke-linecap="square" stroke-linejoin="round"/><path d="M82.2,356.5L549.6,356.5" stroke="#00FF00" stroke-width="4.9" fill="none" stroke-linecap="square" stroke-linejoin="round"/><path d="M82.2,354.8L84.0,355.5L85.9,355.3L87.8,355.2L89.7,356.1L91.5,356.1L93.4,357.6L95.3,359.3L97.1,356.8L99.0,355.9L100.9,356.3L102.7,356.8L104.6,357.2L106.5,356.8L108.4,358.3L110.2,358.2L112.1,355.5L114.0,355.6L115.8,354.2L117.7,354.8L119.6,354.3L121.4,355.9L123.3,355.0L125.2,356.6L127.0,356.5L128.9,356.3L130.8,354.0L132.7,355.7L134.5,356.0L136.4,356.0L138.3,354.3L140.1,355.2L142.0,354.6L143.9,353.4L145.7,353.8L147.6,350.7L149.5,353.0L151.4,355.3L153.2,355.2L155.1,356.0L157.0,356.6L158.8,356.5L160.7,355.1L162.6,356.3L164.4,357.4L166.3,354.5L168.2,356.7L170.1,355.9L171.9,355.1L173.8,357.5L175.7,356.2L177.5,353.0L179.4,352.9L181.3,352.0L183.1,351.6L185.0,354.3L186.9,355.4L188.8,356.3L190.6,357.3L192.5,355.5L194.4,356.5L196.2,354.7L198.1,354.1L200.0,351.7L201.8,353.3L203.7,354.7L205.6,356.9L207.5,357.2L209.3,355.0L211.2,355.6L213.1,357.1L214.9,354.3L216.8,355.5L218.7,355.6L220.5,356.6L222.4,355.9L224.3,354.8L226.1,354.7L228.0,354.7L229.9,357.2L231.8,356.1L233.6,357.1L235.5,358.5L237.4,357.5L239.2,356.8L241.1,355.4L243.0,356.4L244.8,356.7L246.7,358.9L248.6,358.5L250.5,357.0L252.3,358.0L254.2,357.3L256.1,358.9L257.9,358.2L259.8,358.5L261.7,356.5L263.5,357.9L265.4,355.8L267.3,354.9L269.2,356.0L271.0,354.8L272.9,355.2L274.8,357.8L276.6,355.6L278.5,356.5L280.4,357.8L282.2,357.9L284.1,357.2L286.0,357.0L287.9,357.8L289.7,357.5L291.6,355.5L293.5,355.9L295.3,355.6L297.2,354.0L299.1,354.8L300.9,353.7L302.8,355.8L304.7,355.5L306.6,355.8L308.4,355.6L310.3,356.3L312.2,354.3L314.0,354.9L315.9,356.0L317.8,353.4L319.6,356.0L321.5,353.2L323.4,355.3L325.2,354.0L327.1,355.8L329.0,355.4L330.9,354.1L332.7,356.9L334.6,357.4L336.5,355.9L338.3,355.6L340.2,355.6L342.1,354.7L343.9,356.6L345.8,355.0L347.7,355.4L349.6,355.2L351.4,355.9L353.3,355.8L355.2,358.7L357.0,357.8L358.9,359.4L360.8,358.9L362.6,358.6L364.5,359.4L366.4,359.5L368.3,360.4L370.1,360.5L372.0,360.9L373.9,360.2L375.7,361.1L377.6,363.8L379.5,362.0L381.3,362.0L383.2,363.6L385.1,365.0L387.0,362.5L388.8,364.0L390.7,363.9L392.6,363.2L394.4,365.8L396.3,365.4L398.2,365.7L400.0,365.2L401.9,366.7L403.8,366.0L405.7,366.5L407.5,365.7L409.4,365.7L411.3,368.2L413.1,366.5L415.0,367.7L416.9,368.5L418.7,369.2L420.6,369.9L422.5,371.0L424.3,370.1L426.2,370.2L428.1,368.9L430.0,368.0L431.8,368.9L433.7,369.9L435.6,369.2L437.4,368.6L439.3,371.0L441.2,371.2L443.0,370.5L444.9,371.4L446.8,372.0L448.7,372.3L450.5,372.7L452.4,371.8L454.3,374.0L456.1,371.7L458.0,373.9L459.9,373.7L461.7,374.2L463.6,375.4L465.5,375.2L467.4,372.9L469.2,372.6L471.1,375.3L473.0,374.0L474.8,375.3L476.7,376.4L478.6,374.4L480.4,374.3L482.3,376.8L484.2,376.8L486.1,376.8L487.9,377.4L489.8,376.8L491.7,376.2L493.5,377.5L495.4,376.6L497.3,376.0L499.1,377.9L501.0,377.4L502.9,377.8L504.8,376.4L506.6,376.8L508.5,376.6L510.4,376.8L512.2,378.0L514.1,377.2L516.0,378.4L517.8,378.5L519.7,380.2L521.6,377.1L523.4,379.4L525.3,378.6L527.2,378.8L529.1,377.5L530.9,378.6L532.8,379.8L534.7,379.1L536.5,379.3L538.4,379.0L540.3,380.4L542.1,379.3L544.0,379.4L545.9,378.5L547.8,378.9L549.6,379.0" stroke="#00B2FF" stroke-width="2.17" fill="none" stroke-linecap="square" stroke-linejoin="round"/><path d="M82.2,354.8L84.0,355.5L85.9,355.3L87.8,355.2L89.7,356.1L91.5,356.1L93.4,357.6L95.3,359.3L97.1,356.8L99.0,355.9L100.9,356.3L102.7,356.8L104.6,357.2L106.5,356.8L108.4,358.3L110.2,358.2L112.1,355.5L114.0,355.6L115.8,354.2L117.7,354.8L119.6,354.3L121.4,355.9L123.3,355.0L125.2,356.6L127.0,356.5L128.9,356.3L130.8,354.0L132.7,355.7L134.5,356.0L136.4,356.0L138.3,354.3L140.1,355.2L142.0,354.6L143.9,353.4L145.7,353.8L147.6,350.7L149.5,353.0L151.4,355.3L153.2,355.2L155.1,356.0L157.0,356.6L158.8,356.5L160.7,355.1L162.6,356.3L164.4,357.4L166.3,354.5L168.2,356.7L170.1,355.9L171.9,355.1L173.8,357.5L175.7,356.2L177.5,353.0L179.4,352.9L181.3,352.0L183.1,351.6L185.0,354.3L186.9,355.4L188.8,356.3L190.6,357.3L192.5,355.5L194.4,356.5L196.2,354.7L198.1,354.1L200.0,351.7L201.8,353.3L203.7,354.7L205.6,356.9L207.5,357.2L209.3,355.0L211.2,355.6L213.1,357.1L214.9,354.3L216.8,355.5L218.7,355.6L220.5,356.6L222.4,355.9L224.3,354.8L226.1,354.7L228.0,354.7L229.9,357.2L231.8,356.1L233.6,357.1L235.5,358.5L237.4,357.5L239.2,356.8L241.1,355.4L243.0,356.4L244.8,356.7L246.7,358.9L248.6,359.1L250.5,359.1L252.3,360.5L254.2,360.2L256.1,362.2L257.9,361.6L259.8,361.9L261.7,359.8L263.5,361.0L265.4,358.8L267.3,358.2L269.2,359.5L271.0,358.6L272.9,359.4L274.8,362.4L276.6,360.5L278.5,361.8L280.4,363.3L282.2,363.7L284.1,363.2L286.0,363.3L287.9,364.3L289.7,364.3L291.6,362.6L293.5,363.3L295.3,363.2L297.2,361.9L299.1,363.0L300.9,362.1L302.8,364.5L304.7,364.4L306.6,365.0L308.4,365.0L310.3,365.9L312.2,363.9L314.0,364.4L315.9,365.5L317.8,362.9L319.6,365.4L321.5,362.7L323.4,364.7L325.2,363.6L327.1,365.5L329.0,365.4L330.9,364.2L332.7,367.3L334.6,367.9L336.5,366.4L338.3,366.1L340.2,366.2L342.1,365.3L343.9,367.3L345.8,365.6L347.7,366.1L349.6,366.0L351.4,366.7L353.3,366.6L355.2,369.6L357.0,368.8L358.9,370.4L360.8,369.8L362.6,369.4L364.5,370.1L366.4,370.1L368.3,371.0L370.1,370.9L372.0,371.3L373.9,370.7L375.7,371.6L377.6,374.3L379.5,372.5L381.3,372.5L383.2,374.3L385.1,375.8L387.0,373.5L388.8,375.1L390.7,375.2L392.6,374.6L394.4,377.4L396.3,377.0L398.2,377.5L400.0,377.1L401.9,378.6L403.8,378.0L405.7,378.6L407.5,377.9L409.4,378.0L411.3,380.6L413.1,379.1L415.0,380.1L416.9,380.4L418.7,380.6L420.6,380.9L422.5,382.1L424.3,381.4L426.2,381.6L428.1,380.2L430.0,379.0L431.8,379.8L433.7,380.9L435.6,380.4L437.4,380.1L439.3,382.8L441.2,383.3L443.0,382.6L444.9,383.5L446.8,383.9L448.7,384.2L450.5,384.5L452.4,383.4L454.3,385.5L456.1,383.1L458.0,385.3L459.9,385.2L461.7,385.8L463.6,387.0L465.5,386.8L467.4,384.6L469.2,384.3L471.1,387.0L473.0,385.6L474.8,386.8L476.7,388.0L478.6,385.9L480.4,385.7L482.3,388.1L484.2,388.1L486.1,388.0L487.9,388.5L489.8,387.8L491.7,387.2L493.5,388.4L495.4,387.6L497.3,386.9L499.1,388.9L501.0,388.3L502.9,388.7L504.8,387.3L506.6,387.7L508.5,387.6L510.4,387.9L512.2,389.1L514.1,388.3L516.0,389.6L517.8,389.8L519.7,391.6L521.6,388.5L523.4,390.8L525.3,390.0L527.2,390.2L529.1,389.0L530.9,390.1L532.8,391.3L534.7,390.6L536.5,390.9L538.4,390.6L540.3,392.1L542.1,391.0L544.0,390.9L545.9,389.8L547.8,390.0L549.6,389.9" stroke="#FF0000" stroke-width="2.17" fill="none" stroke-linecap="square" stroke-linejoin="round"/><rect x="58.8" y="23.1" width="514.2" height="80.0" fill="none" stroke="#000" stroke-width="1.45" stroke-linejoin="miter"/><rect x="58.8" y="174.9" width="514.2" height="80.0" fill="none" stroke="#000" stroke-width="1.45" stroke-linejoin="miter"/><rect x="58.8" y="326.7" width="514.2" height="80.0" fill="none" stroke="#000" stroke-width="1.45" stroke-linejoin="miter"/><path d="M78.83,103.10 v5.0 M145.61,103.10 v5.0 M212.39,103.10 v5.0 M279.17,103.10 v5.0 M345.95,103.10 v5.0 M412.73,103.10 v5.0 M479.51,103.10 v5.0 M546.29,103.10 v5.0 M82.17,254.90 v5.0 M175.66,254.90 v5.0 M269.15,254.90 v5.0 M362.65,254.90 v5.0 M456.14,254.90 v5.0 M549.63,254.90 v5.0 M82.17,406.70 v5.0 M175.66,406.70 v5.0 M269.15,406.70 v5.0 M362.65,406.70 v5.0 M456.14,406.70 v5.0 M549.63,406.70 v5.0 M58.8,23.10 h-5.0 M58.8,326.70 h-5.0 M58.8,63.10 h-5.0 M58.8,366.70 h-5.0 M58.8,103.10 h-5.0 M58.8,406.70 h-5.0 M58.8,174.90 h-5.0 M58.8,211.26 h-5.0 M58.8,247.63 h-5.0" stroke="#000" stroke-width="1.3" fill="none"/><g font-family="Liberation Sans, sans-serif"><text x="151.32" y="14.55" font-size="18.29" fill="#000" textLength="328.98" lengthAdjust="spacingAndGlyphs">(a) Observed and Reconstructed FFDs</text><text x="174.37" y="166.40" font-size="18.29" fill="#000" textLength="282.88" lengthAdjust="spacingAndGlyphs">(b) Observed and Modelled FFDs</text><text x="222.92" y="318.30" font-size="18.29" fill="#000" textLength="185.85" lengthAdjust="spacingAndGlyphs">(c) Mean FFD Change</text><text x="60.48" y="124.20" font-size="15.24" fill="#000" textLength="36.06" lengthAdjust="spacingAndGlyphs">1880</text><text x="127.26" y="124.20" font-size="15.24" fill="#000" textLength="36.06" lengthAdjust="spacingAndGlyphs">1900</text><text x="194.04" y="124.20" font-size="15.24" fill="#000" textLength="36.06" lengthAdjust="spacingAndGlyphs">1920</text><text x="260.82" y="124.20" font-size="15.24" fill="#000" textLength="36.06" lengthAdjust="spacingAndGlyphs">1940</text><text x="327.60" y="124.20" font-size="15.24" fill="#000" textLength="36.06" lengthAdjust="spacingAndGlyphs">1960</text><text x="394.37" y="124.20" font-size="15.24" fill="#000" textLength="36.06" lengthAdjust="spacingAndGlyphs">1980</text><text x="461.42" y="124.20" font-size="15.24" fill="#000" textLength="36.06" lengthAdjust="spacingAndGlyphs">2000</text><text x="528.20" y="124.20" font-size="15.24" fill="#000" textLength="36.06" lengthAdjust="spacingAndGlyphs">2020</text><text x="63.82" y="276.00" font-size="15.24" fill="#000" textLength="36.06" lengthAdjust="spacingAndGlyphs">1850</text><text x="63.82" y="427.85" font-size="15.24" fill="#000" textLength="36.06" lengthAdjust="spacingAndGlyphs">1850</text><text x="157.31" y="276.00" font-size="15.24" fill="#000" textLength="36.06" lengthAdjust="spacingAndGlyphs">1900</text><text x="157.31" y="427.85" font-size="15.24" fill="#000" textLength="36.06" lengthAdjust="spacingAndGlyphs">1900</text><text x="250.80" y="276.00" font-size="15.24" fill="#000" textLength="36.06" lengthAdjust="spacingAndGlyphs">1950</text><text x="250.80" y="427.85" font-size="15.24" fill="#000" textLength="36.06" lengthAdjust="spacingAndGlyphs">1950</text><text x="344.56" y="276.00" font-size="15.24" fill="#000" textLength="36.06" lengthAdjust="spacingAndGlyphs">2000</text><text x="344.56" y="427.85" font-size="15.24" fill="#000" textLength="36.06" lengthAdjust="spacingAndGlyphs">2000</text><text x="438.05" y="276.00" font-size="15.24" fill="#000" textLength="36.06" lengthAdjust="spacingAndGlyphs">2050</text><text x="438.05" y="427.85" font-size="15.24" fill="#000" textLength="36.06" lengthAdjust="spacingAndGlyphs">2050</text><text x="531.54" y="276.00" font-size="15.24" fill="#000" textLength="36.06" lengthAdjust="spacingAndGlyphs">2100</text><text x="531.54" y="427.85" font-size="15.24" fill="#000" textLength="36.06" lengthAdjust="spacingAndGlyphs">2100</text><text x="21.63" y="28.65" font-size="15.24" fill="#000" textLength="26.89" lengthAdjust="spacingAndGlyphs">120</text><text x="21.63" y="68.65" font-size="15.24" fill="#000" textLength="26.89" lengthAdjust="spacingAndGlyphs">100</text><text x="30.75" y="108.65" font-size="15.24" fill="#000" textLength="17.80" lengthAdjust="spacingAndGlyphs">80</text><text x="21.95" y="180.45" font-size="15.24" fill="#000" textLength="26.57" lengthAdjust="spacingAndGlyphs">125</text><text x="21.63" y="216.81" font-size="15.24" fill="#000" textLength="26.89" lengthAdjust="spacingAndGlyphs">100</text><text x="31.28" y="253.18" font-size="15.24" fill="#000" textLength="17.25" lengthAdjust="spacingAndGlyphs">75</text><text x="21.63" y="332.25" font-size="15.24" fill="#000" textLength="26.89" lengthAdjust="spacingAndGlyphs">120</text><text x="21.63" y="372.25" font-size="15.24" fill="#000" textLength="26.89" lengthAdjust="spacingAndGlyphs">100</text><text x="30.75" y="412.25" font-size="15.24" fill="#000" textLength="17.80" lengthAdjust="spacingAndGlyphs">80</text><text x="300.35" y="143.70" font-size="15.24" fill="#000" textLength="31.08" lengthAdjust="spacingAndGlyphs">Year</text><text transform="translate(12.7,63.10) rotate(-90)" x="-41.63" y="0" font-size="15.24" fill="#000" textLength="82.16" lengthAdjust="spacingAndGlyphs">Day of Year</text><text x="300.35" y="295.50" font-size="15.24" fill="#000" textLength="31.08" lengthAdjust="spacingAndGlyphs">Year</text><text transform="translate(12.7,214.90) rotate(-90)" x="-41.63" y="0" font-size="15.24" fill="#000" textLength="82.16" lengthAdjust="spacingAndGlyphs">Day of Year</text><text x="300.35" y="447.30" font-size="15.24" fill="#000" textLength="31.08" lengthAdjust="spacingAndGlyphs">Year</text><text transform="translate(12.7,366.70) rotate(-90)" x="-41.63" y="0" font-size="15.24" fill="#000" textLength="82.16" lengthAdjust="spacingAndGlyphs">Day of Year</text><text x="369.38" y="38.90" font-size="15.24" fill="#000" textLength="29.85" lengthAdjust="spacingAndGlyphs">OBS</text><text x="416.10" y="38.90" font-size="15.24" fill="#FFA500" textLength="135.33" lengthAdjust="spacingAndGlyphs">OBS-reconstructed</text><text x="192.28" y="84.00" font-size="15.24" fill="#000" textLength="78.37" lengthAdjust="spacingAndGlyphs" stroke="#fff" stroke-width="1.6" stroke-opacity="0.6" paint-order="stroke" stroke-linejoin="round">Calibration</text><text x="205.92" y="99.30" font-size="15.24" fill="#000" textLength="44.38" lengthAdjust="spacingAndGlyphs" stroke="#fff" stroke-width="1.6" stroke-opacity="0.6" paint-order="stroke" stroke-linejoin="round">Period</text><text x="82.18" y="245.40" font-size="15.24" fill="#000" textLength="29.85" lengthAdjust="spacingAndGlyphs">OBS</text><text x="120.10" y="245.40" font-size="15.24" fill="#FF0000" textLength="26.22" lengthAdjust="spacingAndGlyphs">ALL</text><text x="151.47" y="245.40" font-size="15.24" fill="#00FF00" textLength="28.49" lengthAdjust="spacingAndGlyphs">NAT</text><text x="493.67" y="348.60" font-size="15.24" fill="#00FF00" textLength="28.49" lengthAdjust="spacingAndGlyphs">NAT</text><text x="95.80" y="380.20" font-size="15.24" fill="#00B2FF" textLength="63.98" lengthAdjust="spacingAndGlyphs">ALL rural</text><text x="95.80" y="394.40" font-size="15.24" fill="#FF0000" textLength="72.48" lengthAdjust="spacingAndGlyphs">ALL urban</text></g></svg></body></html>
